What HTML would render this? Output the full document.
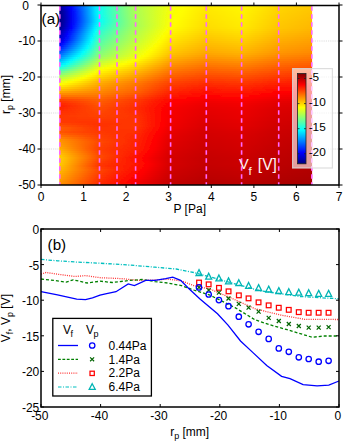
<!DOCTYPE html>
<html><head><meta charset="utf-8"><style>
html,body{margin:0;padding:0;background:#fff;width:343px;height:442px;overflow:hidden}
svg{display:block}
text{font-family:"Liberation Sans",sans-serif;fill:#000}
</style></head><body>
<svg width="343" height="442" viewBox="0 0 343 442">
<defs><linearGradient id="g0" gradientUnits="userSpaceOnUse" x1="59.3" x2="312.1" y1="0" y2="0"><stop offset="0.000" stop-color="#00009f"/><stop offset="0.016" stop-color="#0000bf"/><stop offset="0.032" stop-color="#0000e4"/><stop offset="0.047" stop-color="#0009ff"/><stop offset="0.063" stop-color="#002eff"/><stop offset="0.079" stop-color="#0053ff"/><stop offset="0.095" stop-color="#0077ff"/><stop offset="0.111" stop-color="#009cff"/><stop offset="0.127" stop-color="#00c1ff"/><stop offset="0.142" stop-color="#00e5ff"/><stop offset="0.158" stop-color="#0bfff4"/><stop offset="0.174" stop-color="#1effe1"/><stop offset="0.190" stop-color="#31ffce"/><stop offset="0.206" stop-color="#43ffbc"/><stop offset="0.222" stop-color="#56ffa9"/><stop offset="0.237" stop-color="#68ff97"/><stop offset="0.253" stop-color="#79ff86"/><stop offset="0.269" stop-color="#8aff75"/><stop offset="0.285" stop-color="#9cff63"/><stop offset="0.301" stop-color="#adff52"/><stop offset="0.316" stop-color="#b6ff49"/><stop offset="0.332" stop-color="#beff41"/><stop offset="0.348" stop-color="#c6ff39"/><stop offset="0.364" stop-color="#cdff32"/><stop offset="0.380" stop-color="#d5ff2a"/><stop offset="0.396" stop-color="#ddff22"/><stop offset="0.411" stop-color="#e5ff1a"/><stop offset="0.427" stop-color="#edff12"/><stop offset="0.443" stop-color="#f4ff0b"/><stop offset="0.459" stop-color="#f8ff07"/><stop offset="0.475" stop-color="#fbff04"/><stop offset="0.491" stop-color="#ffff00"/><stop offset="0.506" stop-color="#fffb00"/><stop offset="0.522" stop-color="#fff800"/><stop offset="0.538" stop-color="#fff400"/><stop offset="0.554" stop-color="#fff000"/><stop offset="0.570" stop-color="#ffec00"/><stop offset="0.585" stop-color="#ffea00"/><stop offset="0.601" stop-color="#ffec00"/><stop offset="0.617" stop-color="#ffed00"/><stop offset="0.633" stop-color="#ffef00"/><stop offset="0.649" stop-color="#fff000"/><stop offset="0.665" stop-color="#fff200"/><stop offset="0.680" stop-color="#fff300"/><stop offset="0.696" stop-color="#fff500"/><stop offset="0.712" stop-color="#fff600"/><stop offset="0.728" stop-color="#fff500"/><stop offset="0.744" stop-color="#fff200"/><stop offset="0.759" stop-color="#ffee00"/><stop offset="0.775" stop-color="#ffeb00"/><stop offset="0.791" stop-color="#ffe700"/><stop offset="0.807" stop-color="#ffe400"/><stop offset="0.823" stop-color="#ffe000"/><stop offset="0.839" stop-color="#ffdc00"/><stop offset="0.854" stop-color="#ffd900"/><stop offset="0.870" stop-color="#ffd600"/><stop offset="0.886" stop-color="#ffd400"/><stop offset="0.902" stop-color="#ffd200"/><stop offset="0.918" stop-color="#ffd100"/><stop offset="0.934" stop-color="#ffcf00"/><stop offset="0.949" stop-color="#ffce00"/><stop offset="0.965" stop-color="#ffcc00"/><stop offset="0.981" stop-color="#ffca00"/><stop offset="0.997" stop-color="#ffc900"/><stop offset="1.000" stop-color="#ffc900"/></linearGradient><linearGradient id="g2" gradientUnits="userSpaceOnUse" x1="59.3" x2="312.1" y1="0" y2="0"><stop offset="0.000" stop-color="#000095"/><stop offset="0.016" stop-color="#0000b6"/><stop offset="0.032" stop-color="#0000db"/><stop offset="0.047" stop-color="#0002ff"/><stop offset="0.063" stop-color="#0028ff"/><stop offset="0.079" stop-color="#004dff"/><stop offset="0.095" stop-color="#0073ff"/><stop offset="0.111" stop-color="#0099ff"/><stop offset="0.127" stop-color="#00beff"/><stop offset="0.142" stop-color="#00e4ff"/><stop offset="0.158" stop-color="#0bfff4"/><stop offset="0.174" stop-color="#1effe1"/><stop offset="0.190" stop-color="#30ffcf"/><stop offset="0.206" stop-color="#43ffbc"/><stop offset="0.222" stop-color="#55ffaa"/><stop offset="0.237" stop-color="#67ff98"/><stop offset="0.253" stop-color="#78ff87"/><stop offset="0.269" stop-color="#8aff75"/><stop offset="0.285" stop-color="#9bff64"/><stop offset="0.301" stop-color="#acff53"/><stop offset="0.316" stop-color="#b5ff4a"/><stop offset="0.332" stop-color="#bdff42"/><stop offset="0.348" stop-color="#c5ff3a"/><stop offset="0.364" stop-color="#cdff32"/><stop offset="0.380" stop-color="#d5ff2a"/><stop offset="0.396" stop-color="#ddff22"/><stop offset="0.411" stop-color="#e5ff1a"/><stop offset="0.427" stop-color="#eeff11"/><stop offset="0.443" stop-color="#f5ff0a"/><stop offset="0.459" stop-color="#f9ff06"/><stop offset="0.475" stop-color="#fcff03"/><stop offset="0.491" stop-color="#fffe00"/><stop offset="0.506" stop-color="#fffa00"/><stop offset="0.522" stop-color="#fff600"/><stop offset="0.538" stop-color="#fff300"/><stop offset="0.554" stop-color="#ffef00"/><stop offset="0.570" stop-color="#ffeb00"/><stop offset="0.585" stop-color="#ffe900"/><stop offset="0.601" stop-color="#ffea00"/><stop offset="0.617" stop-color="#ffec00"/><stop offset="0.633" stop-color="#ffed00"/><stop offset="0.649" stop-color="#ffef00"/><stop offset="0.665" stop-color="#fff000"/><stop offset="0.680" stop-color="#fff200"/><stop offset="0.696" stop-color="#fff300"/><stop offset="0.712" stop-color="#fff500"/><stop offset="0.728" stop-color="#fff400"/><stop offset="0.744" stop-color="#fff100"/><stop offset="0.759" stop-color="#ffed00"/><stop offset="0.775" stop-color="#ffe900"/><stop offset="0.791" stop-color="#ffe600"/><stop offset="0.807" stop-color="#ffe200"/><stop offset="0.823" stop-color="#ffdf00"/><stop offset="0.839" stop-color="#ffdb00"/><stop offset="0.854" stop-color="#ffd700"/><stop offset="0.870" stop-color="#ffd400"/><stop offset="0.886" stop-color="#ffd300"/><stop offset="0.902" stop-color="#ffd100"/><stop offset="0.918" stop-color="#ffcf00"/><stop offset="0.934" stop-color="#ffce00"/><stop offset="0.949" stop-color="#ffcc00"/><stop offset="0.965" stop-color="#ffca00"/><stop offset="0.981" stop-color="#ffc900"/><stop offset="0.997" stop-color="#ffc700"/><stop offset="1.000" stop-color="#ffc700"/></linearGradient><linearGradient id="g4" gradientUnits="userSpaceOnUse" x1="59.3" x2="312.1" y1="0" y2="0"><stop offset="0.000" stop-color="#00008a"/><stop offset="0.016" stop-color="#0000ac"/><stop offset="0.032" stop-color="#0000d3"/><stop offset="0.047" stop-color="#0000f9"/><stop offset="0.063" stop-color="#0021ff"/><stop offset="0.079" stop-color="#0048ff"/><stop offset="0.095" stop-color="#006fff"/><stop offset="0.111" stop-color="#0095ff"/><stop offset="0.127" stop-color="#00bcff"/><stop offset="0.142" stop-color="#00e3ff"/><stop offset="0.158" stop-color="#0bfff4"/><stop offset="0.174" stop-color="#1effe1"/><stop offset="0.190" stop-color="#30ffcf"/><stop offset="0.206" stop-color="#43ffbc"/><stop offset="0.222" stop-color="#55ffaa"/><stop offset="0.237" stop-color="#66ff99"/><stop offset="0.253" stop-color="#78ff87"/><stop offset="0.269" stop-color="#89ff76"/><stop offset="0.285" stop-color="#9aff65"/><stop offset="0.301" stop-color="#abff54"/><stop offset="0.316" stop-color="#b4ff4b"/><stop offset="0.332" stop-color="#bdff42"/><stop offset="0.348" stop-color="#c5ff3a"/><stop offset="0.364" stop-color="#cdff32"/><stop offset="0.380" stop-color="#d5ff2a"/><stop offset="0.396" stop-color="#deff21"/><stop offset="0.411" stop-color="#e6ff19"/><stop offset="0.427" stop-color="#eeff11"/><stop offset="0.443" stop-color="#f6ff09"/><stop offset="0.459" stop-color="#faff05"/><stop offset="0.475" stop-color="#fdff02"/><stop offset="0.491" stop-color="#fffd00"/><stop offset="0.506" stop-color="#fff900"/><stop offset="0.522" stop-color="#fff500"/><stop offset="0.538" stop-color="#fff100"/><stop offset="0.554" stop-color="#ffee00"/><stop offset="0.570" stop-color="#ffea00"/><stop offset="0.585" stop-color="#ffe800"/><stop offset="0.601" stop-color="#ffe900"/><stop offset="0.617" stop-color="#ffeb00"/><stop offset="0.633" stop-color="#ffec00"/><stop offset="0.649" stop-color="#ffee00"/><stop offset="0.665" stop-color="#ffef00"/><stop offset="0.680" stop-color="#fff100"/><stop offset="0.696" stop-color="#fff200"/><stop offset="0.712" stop-color="#fff400"/><stop offset="0.728" stop-color="#fff300"/><stop offset="0.744" stop-color="#ffef00"/><stop offset="0.759" stop-color="#ffec00"/><stop offset="0.775" stop-color="#ffe800"/><stop offset="0.791" stop-color="#ffe500"/><stop offset="0.807" stop-color="#ffe100"/><stop offset="0.823" stop-color="#ffdd00"/><stop offset="0.839" stop-color="#ffda00"/><stop offset="0.854" stop-color="#ffd600"/><stop offset="0.870" stop-color="#ffd300"/><stop offset="0.886" stop-color="#ffd100"/><stop offset="0.902" stop-color="#ffcf00"/><stop offset="0.918" stop-color="#ffce00"/><stop offset="0.934" stop-color="#ffcc00"/><stop offset="0.949" stop-color="#ffcb00"/><stop offset="0.965" stop-color="#ffc900"/><stop offset="0.981" stop-color="#ffc700"/><stop offset="0.997" stop-color="#ffc600"/><stop offset="1.000" stop-color="#ffc500"/></linearGradient><linearGradient id="g6" gradientUnits="userSpaceOnUse" x1="59.3" x2="312.1" y1="0" y2="0"><stop offset="0.000" stop-color="#000083"/><stop offset="0.016" stop-color="#0000a6"/><stop offset="0.032" stop-color="#0000cd"/><stop offset="0.047" stop-color="#0000f5"/><stop offset="0.063" stop-color="#001dff"/><stop offset="0.079" stop-color="#0044ff"/><stop offset="0.095" stop-color="#006cff"/><stop offset="0.111" stop-color="#0093ff"/><stop offset="0.127" stop-color="#00bbff"/><stop offset="0.142" stop-color="#00e2ff"/><stop offset="0.158" stop-color="#0bfff4"/><stop offset="0.174" stop-color="#1effe1"/><stop offset="0.190" stop-color="#30ffcf"/><stop offset="0.206" stop-color="#42ffbd"/><stop offset="0.222" stop-color="#54ffab"/><stop offset="0.237" stop-color="#66ff99"/><stop offset="0.253" stop-color="#77ff88"/><stop offset="0.269" stop-color="#88ff77"/><stop offset="0.285" stop-color="#99ff66"/><stop offset="0.301" stop-color="#aaff55"/><stop offset="0.316" stop-color="#b3ff4c"/><stop offset="0.332" stop-color="#bcff43"/><stop offset="0.348" stop-color="#c5ff3a"/><stop offset="0.364" stop-color="#cdff32"/><stop offset="0.380" stop-color="#d6ff29"/><stop offset="0.396" stop-color="#deff21"/><stop offset="0.411" stop-color="#e7ff18"/><stop offset="0.427" stop-color="#efff10"/><stop offset="0.443" stop-color="#f7ff08"/><stop offset="0.459" stop-color="#fbff04"/><stop offset="0.475" stop-color="#feff01"/><stop offset="0.491" stop-color="#fffc00"/><stop offset="0.506" stop-color="#fff800"/><stop offset="0.522" stop-color="#fff400"/><stop offset="0.538" stop-color="#fff000"/><stop offset="0.554" stop-color="#ffed00"/><stop offset="0.570" stop-color="#ffe900"/><stop offset="0.585" stop-color="#ffe600"/><stop offset="0.601" stop-color="#ffe800"/><stop offset="0.617" stop-color="#ffe900"/><stop offset="0.633" stop-color="#ffeb00"/><stop offset="0.649" stop-color="#ffec00"/><stop offset="0.665" stop-color="#ffee00"/><stop offset="0.680" stop-color="#ffef00"/><stop offset="0.696" stop-color="#fff100"/><stop offset="0.712" stop-color="#fff300"/><stop offset="0.728" stop-color="#fff200"/><stop offset="0.744" stop-color="#ffee00"/><stop offset="0.759" stop-color="#ffeb00"/><stop offset="0.775" stop-color="#ffe700"/><stop offset="0.791" stop-color="#ffe300"/><stop offset="0.807" stop-color="#ffe000"/><stop offset="0.823" stop-color="#ffdc00"/><stop offset="0.839" stop-color="#ffd800"/><stop offset="0.854" stop-color="#ffd500"/><stop offset="0.870" stop-color="#ffd100"/><stop offset="0.886" stop-color="#ffd000"/><stop offset="0.902" stop-color="#ffce00"/><stop offset="0.918" stop-color="#ffcc00"/><stop offset="0.934" stop-color="#ffcb00"/><stop offset="0.949" stop-color="#ffc900"/><stop offset="0.965" stop-color="#ffc700"/><stop offset="0.981" stop-color="#ffc600"/><stop offset="0.997" stop-color="#ffc400"/><stop offset="1.000" stop-color="#ffc400"/></linearGradient><linearGradient id="g8" gradientUnits="userSpaceOnUse" x1="59.3" x2="312.1" y1="0" y2="0"><stop offset="0.000" stop-color="#000082"/><stop offset="0.016" stop-color="#0000a4"/><stop offset="0.032" stop-color="#0000cc"/><stop offset="0.047" stop-color="#0000f3"/><stop offset="0.063" stop-color="#001cff"/><stop offset="0.079" stop-color="#0043ff"/><stop offset="0.095" stop-color="#006bff"/><stop offset="0.111" stop-color="#0093ff"/><stop offset="0.127" stop-color="#00baff"/><stop offset="0.142" stop-color="#00e2ff"/><stop offset="0.158" stop-color="#0afff5"/><stop offset="0.174" stop-color="#1effe1"/><stop offset="0.190" stop-color="#30ffcf"/><stop offset="0.206" stop-color="#42ffbd"/><stop offset="0.222" stop-color="#54ffab"/><stop offset="0.237" stop-color="#65ff9a"/><stop offset="0.253" stop-color="#76ff89"/><stop offset="0.269" stop-color="#87ff78"/><stop offset="0.285" stop-color="#98ff67"/><stop offset="0.301" stop-color="#a9ff56"/><stop offset="0.316" stop-color="#b3ff4c"/><stop offset="0.332" stop-color="#bbff44"/><stop offset="0.348" stop-color="#c4ff3b"/><stop offset="0.364" stop-color="#cdff32"/><stop offset="0.380" stop-color="#d6ff29"/><stop offset="0.396" stop-color="#deff21"/><stop offset="0.411" stop-color="#e7ff18"/><stop offset="0.427" stop-color="#f0ff0f"/><stop offset="0.443" stop-color="#f8ff07"/><stop offset="0.459" stop-color="#fcff03"/><stop offset="0.475" stop-color="#fffe00"/><stop offset="0.491" stop-color="#fffb00"/><stop offset="0.506" stop-color="#fff700"/><stop offset="0.522" stop-color="#fff300"/><stop offset="0.538" stop-color="#ffef00"/><stop offset="0.554" stop-color="#ffeb00"/><stop offset="0.570" stop-color="#ffe700"/><stop offset="0.585" stop-color="#ffe500"/><stop offset="0.601" stop-color="#ffe700"/><stop offset="0.617" stop-color="#ffe800"/><stop offset="0.633" stop-color="#ffea00"/><stop offset="0.649" stop-color="#ffeb00"/><stop offset="0.665" stop-color="#ffed00"/><stop offset="0.680" stop-color="#ffee00"/><stop offset="0.696" stop-color="#fff000"/><stop offset="0.712" stop-color="#fff100"/><stop offset="0.728" stop-color="#fff100"/><stop offset="0.744" stop-color="#ffed00"/><stop offset="0.759" stop-color="#ffe900"/><stop offset="0.775" stop-color="#ffe600"/><stop offset="0.791" stop-color="#ffe200"/><stop offset="0.807" stop-color="#ffde00"/><stop offset="0.823" stop-color="#ffdb00"/><stop offset="0.839" stop-color="#ffd700"/><stop offset="0.854" stop-color="#ffd300"/><stop offset="0.870" stop-color="#ffd000"/><stop offset="0.886" stop-color="#ffce00"/><stop offset="0.902" stop-color="#ffcc00"/><stop offset="0.918" stop-color="#ffcb00"/><stop offset="0.934" stop-color="#ffc900"/><stop offset="0.949" stop-color="#ffc800"/><stop offset="0.965" stop-color="#ffc600"/><stop offset="0.981" stop-color="#ffc400"/><stop offset="0.997" stop-color="#ffc300"/><stop offset="1.000" stop-color="#ffc200"/></linearGradient><linearGradient id="g10" gradientUnits="userSpaceOnUse" x1="59.3" x2="312.1" y1="0" y2="0"><stop offset="0.000" stop-color="#000080"/><stop offset="0.016" stop-color="#0000a3"/><stop offset="0.032" stop-color="#0000ca"/><stop offset="0.047" stop-color="#0000f1"/><stop offset="0.063" stop-color="#001aff"/><stop offset="0.079" stop-color="#0041ff"/><stop offset="0.095" stop-color="#0069ff"/><stop offset="0.111" stop-color="#0090ff"/><stop offset="0.127" stop-color="#00b8ff"/><stop offset="0.142" stop-color="#00dfff"/><stop offset="0.158" stop-color="#08fff7"/><stop offset="0.174" stop-color="#1bffe4"/><stop offset="0.190" stop-color="#2dffd2"/><stop offset="0.206" stop-color="#40ffbf"/><stop offset="0.222" stop-color="#52ffad"/><stop offset="0.237" stop-color="#64ff9b"/><stop offset="0.253" stop-color="#75ff8a"/><stop offset="0.269" stop-color="#86ff79"/><stop offset="0.285" stop-color="#97ff68"/><stop offset="0.301" stop-color="#a8ff57"/><stop offset="0.316" stop-color="#b2ff4d"/><stop offset="0.332" stop-color="#bbff44"/><stop offset="0.348" stop-color="#c4ff3b"/><stop offset="0.364" stop-color="#cdff32"/><stop offset="0.380" stop-color="#d6ff29"/><stop offset="0.396" stop-color="#dfff20"/><stop offset="0.411" stop-color="#e8ff17"/><stop offset="0.427" stop-color="#f1ff0e"/><stop offset="0.443" stop-color="#f9ff06"/><stop offset="0.459" stop-color="#fdff02"/><stop offset="0.475" stop-color="#fffd00"/><stop offset="0.491" stop-color="#fffa00"/><stop offset="0.506" stop-color="#fff600"/><stop offset="0.522" stop-color="#fff200"/><stop offset="0.538" stop-color="#ffee00"/><stop offset="0.554" stop-color="#ffea00"/><stop offset="0.570" stop-color="#ffe600"/><stop offset="0.585" stop-color="#ffe400"/><stop offset="0.601" stop-color="#ffe500"/><stop offset="0.617" stop-color="#ffe700"/><stop offset="0.633" stop-color="#ffe800"/><stop offset="0.649" stop-color="#ffea00"/><stop offset="0.665" stop-color="#ffec00"/><stop offset="0.680" stop-color="#ffed00"/><stop offset="0.696" stop-color="#ffef00"/><stop offset="0.712" stop-color="#fff000"/><stop offset="0.728" stop-color="#fff000"/><stop offset="0.744" stop-color="#ffec00"/><stop offset="0.759" stop-color="#ffe800"/><stop offset="0.775" stop-color="#ffe400"/><stop offset="0.791" stop-color="#ffe100"/><stop offset="0.807" stop-color="#ffdd00"/><stop offset="0.823" stop-color="#ffd900"/><stop offset="0.839" stop-color="#ffd500"/><stop offset="0.854" stop-color="#ffd200"/><stop offset="0.870" stop-color="#ffce00"/><stop offset="0.886" stop-color="#ffcd00"/><stop offset="0.902" stop-color="#ffcb00"/><stop offset="0.918" stop-color="#ffc900"/><stop offset="0.934" stop-color="#ffc800"/><stop offset="0.949" stop-color="#ffc600"/><stop offset="0.965" stop-color="#ffc400"/><stop offset="0.981" stop-color="#ffc300"/><stop offset="0.997" stop-color="#ffc100"/><stop offset="1.000" stop-color="#ffc100"/></linearGradient><linearGradient id="g12" gradientUnits="userSpaceOnUse" x1="59.3" x2="312.1" y1="0" y2="0"><stop offset="0.000" stop-color="#000080"/><stop offset="0.016" stop-color="#0000a1"/><stop offset="0.032" stop-color="#0000c8"/><stop offset="0.047" stop-color="#0000f0"/><stop offset="0.063" stop-color="#0018ff"/><stop offset="0.079" stop-color="#003fff"/><stop offset="0.095" stop-color="#0067ff"/><stop offset="0.111" stop-color="#008eff"/><stop offset="0.127" stop-color="#00b6ff"/><stop offset="0.142" stop-color="#00ddff"/><stop offset="0.158" stop-color="#05fffa"/><stop offset="0.174" stop-color="#19ffe6"/><stop offset="0.190" stop-color="#2bffd4"/><stop offset="0.206" stop-color="#3effc1"/><stop offset="0.222" stop-color="#50ffaf"/><stop offset="0.237" stop-color="#62ff9d"/><stop offset="0.253" stop-color="#73ff8c"/><stop offset="0.269" stop-color="#85ff7a"/><stop offset="0.285" stop-color="#96ff69"/><stop offset="0.301" stop-color="#a7ff58"/><stop offset="0.316" stop-color="#b1ff4e"/><stop offset="0.332" stop-color="#baff45"/><stop offset="0.348" stop-color="#c4ff3b"/><stop offset="0.364" stop-color="#cdff32"/><stop offset="0.380" stop-color="#d6ff29"/><stop offset="0.396" stop-color="#dfff20"/><stop offset="0.411" stop-color="#e8ff17"/><stop offset="0.427" stop-color="#f2ff0d"/><stop offset="0.443" stop-color="#faff05"/><stop offset="0.459" stop-color="#feff01"/><stop offset="0.475" stop-color="#fffc00"/><stop offset="0.491" stop-color="#fff800"/><stop offset="0.506" stop-color="#fff500"/><stop offset="0.522" stop-color="#fff100"/><stop offset="0.538" stop-color="#ffed00"/><stop offset="0.554" stop-color="#ffe900"/><stop offset="0.570" stop-color="#ffe500"/><stop offset="0.585" stop-color="#ffe200"/><stop offset="0.601" stop-color="#ffe400"/><stop offset="0.617" stop-color="#ffe600"/><stop offset="0.633" stop-color="#ffe700"/><stop offset="0.649" stop-color="#ffe900"/><stop offset="0.665" stop-color="#ffea00"/><stop offset="0.680" stop-color="#ffec00"/><stop offset="0.696" stop-color="#ffed00"/><stop offset="0.712" stop-color="#ffef00"/><stop offset="0.728" stop-color="#ffee00"/><stop offset="0.744" stop-color="#ffeb00"/><stop offset="0.759" stop-color="#ffe700"/><stop offset="0.775" stop-color="#ffe300"/><stop offset="0.791" stop-color="#ffdf00"/><stop offset="0.807" stop-color="#ffdc00"/><stop offset="0.823" stop-color="#ffd800"/><stop offset="0.839" stop-color="#ffd400"/><stop offset="0.854" stop-color="#ffd000"/><stop offset="0.870" stop-color="#ffcd00"/><stop offset="0.886" stop-color="#ffcb00"/><stop offset="0.902" stop-color="#ffca00"/><stop offset="0.918" stop-color="#ffc800"/><stop offset="0.934" stop-color="#ffc600"/><stop offset="0.949" stop-color="#ffc500"/><stop offset="0.965" stop-color="#ffc300"/><stop offset="0.981" stop-color="#ffc100"/><stop offset="0.997" stop-color="#ffbf00"/><stop offset="1.000" stop-color="#ffbf00"/></linearGradient><linearGradient id="g14" gradientUnits="userSpaceOnUse" x1="59.3" x2="312.1" y1="0" y2="0"><stop offset="0.000" stop-color="#000080"/><stop offset="0.016" stop-color="#0000a2"/><stop offset="0.032" stop-color="#0000c9"/><stop offset="0.047" stop-color="#0000f0"/><stop offset="0.063" stop-color="#0018ff"/><stop offset="0.079" stop-color="#003fff"/><stop offset="0.095" stop-color="#0066ff"/><stop offset="0.111" stop-color="#008dff"/><stop offset="0.127" stop-color="#00b4ff"/><stop offset="0.142" stop-color="#00dbff"/><stop offset="0.158" stop-color="#03fffc"/><stop offset="0.174" stop-color="#16ffe9"/><stop offset="0.190" stop-color="#29ffd6"/><stop offset="0.206" stop-color="#3cffc3"/><stop offset="0.222" stop-color="#4effb1"/><stop offset="0.237" stop-color="#60ff9f"/><stop offset="0.253" stop-color="#72ff8d"/><stop offset="0.269" stop-color="#83ff7c"/><stop offset="0.285" stop-color="#95ff6a"/><stop offset="0.301" stop-color="#a6ff59"/><stop offset="0.316" stop-color="#b0ff4f"/><stop offset="0.332" stop-color="#baff45"/><stop offset="0.348" stop-color="#c3ff3c"/><stop offset="0.364" stop-color="#cdff32"/><stop offset="0.380" stop-color="#d6ff29"/><stop offset="0.396" stop-color="#e0ff1f"/><stop offset="0.411" stop-color="#e9ff16"/><stop offset="0.427" stop-color="#f2ff0d"/><stop offset="0.443" stop-color="#fbff04"/><stop offset="0.459" stop-color="#ffff00"/><stop offset="0.475" stop-color="#fffb00"/><stop offset="0.491" stop-color="#fff700"/><stop offset="0.506" stop-color="#fff300"/><stop offset="0.522" stop-color="#ffef00"/><stop offset="0.538" stop-color="#ffec00"/><stop offset="0.554" stop-color="#ffe800"/><stop offset="0.570" stop-color="#ffe400"/><stop offset="0.585" stop-color="#ffe100"/><stop offset="0.601" stop-color="#ffe300"/><stop offset="0.617" stop-color="#ffe400"/><stop offset="0.633" stop-color="#ffe600"/><stop offset="0.649" stop-color="#ffe800"/><stop offset="0.665" stop-color="#ffe900"/><stop offset="0.680" stop-color="#ffeb00"/><stop offset="0.696" stop-color="#ffec00"/><stop offset="0.712" stop-color="#ffee00"/><stop offset="0.728" stop-color="#ffed00"/><stop offset="0.744" stop-color="#ffe900"/><stop offset="0.759" stop-color="#ffe600"/><stop offset="0.775" stop-color="#ffe200"/><stop offset="0.791" stop-color="#ffde00"/><stop offset="0.807" stop-color="#ffda00"/><stop offset="0.823" stop-color="#ffd600"/><stop offset="0.839" stop-color="#ffd300"/><stop offset="0.854" stop-color="#ffcf00"/><stop offset="0.870" stop-color="#ffcb00"/><stop offset="0.886" stop-color="#ffca00"/><stop offset="0.902" stop-color="#ffc800"/><stop offset="0.918" stop-color="#ffc600"/><stop offset="0.934" stop-color="#ffc500"/><stop offset="0.949" stop-color="#ffc300"/><stop offset="0.965" stop-color="#ffc100"/><stop offset="0.981" stop-color="#ffc000"/><stop offset="0.997" stop-color="#ffbe00"/><stop offset="1.000" stop-color="#ffbe00"/></linearGradient><linearGradient id="g16" gradientUnits="userSpaceOnUse" x1="59.3" x2="312.1" y1="0" y2="0"><stop offset="0.000" stop-color="#000082"/><stop offset="0.016" stop-color="#0000a4"/><stop offset="0.032" stop-color="#0000cb"/><stop offset="0.047" stop-color="#0000f2"/><stop offset="0.063" stop-color="#001aff"/><stop offset="0.079" stop-color="#0041ff"/><stop offset="0.095" stop-color="#0068ff"/><stop offset="0.111" stop-color="#008eff"/><stop offset="0.127" stop-color="#00b5ff"/><stop offset="0.142" stop-color="#00dcff"/><stop offset="0.158" stop-color="#04fffb"/><stop offset="0.174" stop-color="#17ffe8"/><stop offset="0.190" stop-color="#2affd5"/><stop offset="0.206" stop-color="#3cffc3"/><stop offset="0.222" stop-color="#4effb1"/><stop offset="0.237" stop-color="#60ff9f"/><stop offset="0.253" stop-color="#71ff8e"/><stop offset="0.269" stop-color="#83ff7c"/><stop offset="0.285" stop-color="#94ff6b"/><stop offset="0.301" stop-color="#a5ff5a"/><stop offset="0.316" stop-color="#afff50"/><stop offset="0.332" stop-color="#b9ff46"/><stop offset="0.348" stop-color="#c3ff3c"/><stop offset="0.364" stop-color="#cdff32"/><stop offset="0.380" stop-color="#d6ff29"/><stop offset="0.396" stop-color="#e0ff1f"/><stop offset="0.411" stop-color="#eaff15"/><stop offset="0.427" stop-color="#f3ff0c"/><stop offset="0.443" stop-color="#fcff03"/><stop offset="0.459" stop-color="#fffe00"/><stop offset="0.475" stop-color="#fffa00"/><stop offset="0.491" stop-color="#fff600"/><stop offset="0.506" stop-color="#fff200"/><stop offset="0.522" stop-color="#ffee00"/><stop offset="0.538" stop-color="#ffea00"/><stop offset="0.554" stop-color="#ffe600"/><stop offset="0.570" stop-color="#ffe200"/><stop offset="0.585" stop-color="#ffe000"/><stop offset="0.601" stop-color="#ffe100"/><stop offset="0.617" stop-color="#ffe300"/><stop offset="0.633" stop-color="#ffe500"/><stop offset="0.649" stop-color="#ffe600"/><stop offset="0.665" stop-color="#ffe800"/><stop offset="0.680" stop-color="#ffe900"/><stop offset="0.696" stop-color="#ffeb00"/><stop offset="0.712" stop-color="#ffed00"/><stop offset="0.728" stop-color="#ffec00"/><stop offset="0.744" stop-color="#ffe800"/><stop offset="0.759" stop-color="#ffe400"/><stop offset="0.775" stop-color="#ffe100"/><stop offset="0.791" stop-color="#ffdd00"/><stop offset="0.807" stop-color="#ffd900"/><stop offset="0.823" stop-color="#ffd500"/><stop offset="0.839" stop-color="#ffd100"/><stop offset="0.854" stop-color="#ffce00"/><stop offset="0.870" stop-color="#ffca00"/><stop offset="0.886" stop-color="#ffc800"/><stop offset="0.902" stop-color="#ffc700"/><stop offset="0.918" stop-color="#ffc500"/><stop offset="0.934" stop-color="#ffc300"/><stop offset="0.949" stop-color="#ffc100"/><stop offset="0.965" stop-color="#ffc000"/><stop offset="0.981" stop-color="#ffbe00"/><stop offset="0.997" stop-color="#ffbc00"/><stop offset="1.000" stop-color="#ffbc00"/></linearGradient><linearGradient id="g18" gradientUnits="userSpaceOnUse" x1="59.3" x2="312.1" y1="0" y2="0"><stop offset="0.000" stop-color="#000085"/><stop offset="0.016" stop-color="#0000a7"/><stop offset="0.032" stop-color="#0000cf"/><stop offset="0.047" stop-color="#0000f6"/><stop offset="0.063" stop-color="#001eff"/><stop offset="0.079" stop-color="#0046ff"/><stop offset="0.095" stop-color="#006dff"/><stop offset="0.111" stop-color="#0095ff"/><stop offset="0.127" stop-color="#00bcff"/><stop offset="0.142" stop-color="#00e3ff"/><stop offset="0.158" stop-color="#0cfff3"/><stop offset="0.174" stop-color="#1effe1"/><stop offset="0.190" stop-color="#30ffcf"/><stop offset="0.206" stop-color="#41ffbe"/><stop offset="0.222" stop-color="#52ffad"/><stop offset="0.237" stop-color="#63ff9c"/><stop offset="0.253" stop-color="#73ff8c"/><stop offset="0.269" stop-color="#84ff7b"/><stop offset="0.285" stop-color="#94ff6b"/><stop offset="0.301" stop-color="#a4ff5b"/><stop offset="0.316" stop-color="#afff50"/><stop offset="0.332" stop-color="#b9ff46"/><stop offset="0.348" stop-color="#c3ff3c"/><stop offset="0.364" stop-color="#ccff33"/><stop offset="0.380" stop-color="#d6ff29"/><stop offset="0.396" stop-color="#e0ff1f"/><stop offset="0.411" stop-color="#eaff15"/><stop offset="0.427" stop-color="#f4ff0b"/><stop offset="0.443" stop-color="#fdff02"/><stop offset="0.459" stop-color="#fffd00"/><stop offset="0.475" stop-color="#fff900"/><stop offset="0.491" stop-color="#fff500"/><stop offset="0.506" stop-color="#fff100"/><stop offset="0.522" stop-color="#ffed00"/><stop offset="0.538" stop-color="#ffe900"/><stop offset="0.554" stop-color="#ffe500"/><stop offset="0.570" stop-color="#ffe100"/><stop offset="0.585" stop-color="#ffdf00"/><stop offset="0.601" stop-color="#ffe000"/><stop offset="0.617" stop-color="#ffe200"/><stop offset="0.633" stop-color="#ffe300"/><stop offset="0.649" stop-color="#ffe500"/><stop offset="0.665" stop-color="#ffe700"/><stop offset="0.680" stop-color="#ffe800"/><stop offset="0.696" stop-color="#ffea00"/><stop offset="0.712" stop-color="#ffec00"/><stop offset="0.728" stop-color="#ffeb00"/><stop offset="0.744" stop-color="#ffe700"/><stop offset="0.759" stop-color="#ffe300"/><stop offset="0.775" stop-color="#ffdf00"/><stop offset="0.791" stop-color="#ffdb00"/><stop offset="0.807" stop-color="#ffd800"/><stop offset="0.823" stop-color="#ffd400"/><stop offset="0.839" stop-color="#ffd000"/><stop offset="0.854" stop-color="#ffcc00"/><stop offset="0.870" stop-color="#ffc900"/><stop offset="0.886" stop-color="#ffc700"/><stop offset="0.902" stop-color="#ffc500"/><stop offset="0.918" stop-color="#ffc300"/><stop offset="0.934" stop-color="#ffc200"/><stop offset="0.949" stop-color="#ffc000"/><stop offset="0.965" stop-color="#ffbe00"/><stop offset="0.981" stop-color="#ffbd00"/><stop offset="0.997" stop-color="#ffbb00"/><stop offset="1.000" stop-color="#ffbb00"/></linearGradient><linearGradient id="g20" gradientUnits="userSpaceOnUse" x1="59.3" x2="312.1" y1="0" y2="0"><stop offset="0.000" stop-color="#000087"/><stop offset="0.016" stop-color="#0000aa"/><stop offset="0.032" stop-color="#0000d2"/><stop offset="0.047" stop-color="#0000fa"/><stop offset="0.063" stop-color="#0023ff"/><stop offset="0.079" stop-color="#004bff"/><stop offset="0.095" stop-color="#0073ff"/><stop offset="0.111" stop-color="#009bff"/><stop offset="0.127" stop-color="#00c3ff"/><stop offset="0.142" stop-color="#00ebff"/><stop offset="0.158" stop-color="#14ffeb"/><stop offset="0.174" stop-color="#25ffda"/><stop offset="0.190" stop-color="#36ffc9"/><stop offset="0.206" stop-color="#46ffb9"/><stop offset="0.222" stop-color="#56ffa9"/><stop offset="0.237" stop-color="#66ff99"/><stop offset="0.253" stop-color="#76ff89"/><stop offset="0.269" stop-color="#85ff7a"/><stop offset="0.285" stop-color="#94ff6b"/><stop offset="0.301" stop-color="#a4ff5b"/><stop offset="0.316" stop-color="#aeff51"/><stop offset="0.332" stop-color="#b8ff47"/><stop offset="0.348" stop-color="#c3ff3c"/><stop offset="0.364" stop-color="#cdff32"/><stop offset="0.380" stop-color="#d7ff28"/><stop offset="0.396" stop-color="#e1ff1e"/><stop offset="0.411" stop-color="#ebff14"/><stop offset="0.427" stop-color="#f5ff0a"/><stop offset="0.443" stop-color="#feff01"/><stop offset="0.459" stop-color="#fffc00"/><stop offset="0.475" stop-color="#fff800"/><stop offset="0.491" stop-color="#fff400"/><stop offset="0.506" stop-color="#fff000"/><stop offset="0.522" stop-color="#ffec00"/><stop offset="0.538" stop-color="#ffe800"/><stop offset="0.554" stop-color="#ffe400"/><stop offset="0.570" stop-color="#ffe000"/><stop offset="0.585" stop-color="#ffdd00"/><stop offset="0.601" stop-color="#ffdf00"/><stop offset="0.617" stop-color="#ffe000"/><stop offset="0.633" stop-color="#ffe200"/><stop offset="0.649" stop-color="#ffe400"/><stop offset="0.665" stop-color="#ffe500"/><stop offset="0.680" stop-color="#ffe700"/><stop offset="0.696" stop-color="#ffe900"/><stop offset="0.712" stop-color="#ffea00"/><stop offset="0.728" stop-color="#ffea00"/><stop offset="0.744" stop-color="#ffe600"/><stop offset="0.759" stop-color="#ffe200"/><stop offset="0.775" stop-color="#ffde00"/><stop offset="0.791" stop-color="#ffda00"/><stop offset="0.807" stop-color="#ffd600"/><stop offset="0.823" stop-color="#ffd200"/><stop offset="0.839" stop-color="#ffce00"/><stop offset="0.854" stop-color="#ffcb00"/><stop offset="0.870" stop-color="#ffc700"/><stop offset="0.886" stop-color="#ffc500"/><stop offset="0.902" stop-color="#ffc400"/><stop offset="0.918" stop-color="#ffc200"/><stop offset="0.934" stop-color="#ffc000"/><stop offset="0.949" stop-color="#ffbe00"/><stop offset="0.965" stop-color="#ffbd00"/><stop offset="0.981" stop-color="#ffbb00"/><stop offset="0.997" stop-color="#ffb900"/><stop offset="1.000" stop-color="#ffb900"/></linearGradient><linearGradient id="g22" gradientUnits="userSpaceOnUse" x1="59.3" x2="312.1" y1="0" y2="0"><stop offset="0.000" stop-color="#000090"/><stop offset="0.016" stop-color="#0000b3"/><stop offset="0.032" stop-color="#0000db"/><stop offset="0.047" stop-color="#0003ff"/><stop offset="0.063" stop-color="#002bff"/><stop offset="0.079" stop-color="#0053ff"/><stop offset="0.095" stop-color="#007bff"/><stop offset="0.111" stop-color="#00a3ff"/><stop offset="0.127" stop-color="#00cbff"/><stop offset="0.142" stop-color="#00f3ff"/><stop offset="0.158" stop-color="#1cffe3"/><stop offset="0.174" stop-color="#2dffd2"/><stop offset="0.190" stop-color="#3dffc2"/><stop offset="0.206" stop-color="#4dffb2"/><stop offset="0.222" stop-color="#5cffa3"/><stop offset="0.237" stop-color="#6cff93"/><stop offset="0.253" stop-color="#7bff84"/><stop offset="0.269" stop-color="#8aff75"/><stop offset="0.285" stop-color="#99ff66"/><stop offset="0.301" stop-color="#a7ff58"/><stop offset="0.316" stop-color="#b2ff4d"/><stop offset="0.332" stop-color="#bcff43"/><stop offset="0.348" stop-color="#c6ff39"/><stop offset="0.364" stop-color="#d0ff2f"/><stop offset="0.380" stop-color="#daff25"/><stop offset="0.396" stop-color="#e4ff1b"/><stop offset="0.411" stop-color="#eeff11"/><stop offset="0.427" stop-color="#f8ff07"/><stop offset="0.443" stop-color="#fffd00"/><stop offset="0.459" stop-color="#fff900"/><stop offset="0.475" stop-color="#fff500"/><stop offset="0.491" stop-color="#fff100"/><stop offset="0.506" stop-color="#ffed00"/><stop offset="0.522" stop-color="#ffe900"/><stop offset="0.538" stop-color="#ffe500"/><stop offset="0.554" stop-color="#ffe200"/><stop offset="0.570" stop-color="#ffde00"/><stop offset="0.585" stop-color="#ffdb00"/><stop offset="0.601" stop-color="#ffdd00"/><stop offset="0.617" stop-color="#ffde00"/><stop offset="0.633" stop-color="#ffe000"/><stop offset="0.649" stop-color="#ffe100"/><stop offset="0.665" stop-color="#ffe300"/><stop offset="0.680" stop-color="#ffe500"/><stop offset="0.696" stop-color="#ffe600"/><stop offset="0.712" stop-color="#ffe800"/><stop offset="0.728" stop-color="#ffe700"/><stop offset="0.744" stop-color="#ffe300"/><stop offset="0.759" stop-color="#ffe000"/><stop offset="0.775" stop-color="#ffdc00"/><stop offset="0.791" stop-color="#ffd800"/><stop offset="0.807" stop-color="#ffd400"/><stop offset="0.823" stop-color="#ffd000"/><stop offset="0.839" stop-color="#ffcd00"/><stop offset="0.854" stop-color="#ffc900"/><stop offset="0.870" stop-color="#ffc500"/><stop offset="0.886" stop-color="#ffc400"/><stop offset="0.902" stop-color="#ffc200"/><stop offset="0.918" stop-color="#ffc000"/><stop offset="0.934" stop-color="#ffbe00"/><stop offset="0.949" stop-color="#ffbd00"/><stop offset="0.965" stop-color="#ffbb00"/><stop offset="0.981" stop-color="#ffb900"/><stop offset="0.997" stop-color="#ffb800"/><stop offset="1.000" stop-color="#ffb700"/></linearGradient><linearGradient id="g24" gradientUnits="userSpaceOnUse" x1="59.3" x2="312.1" y1="0" y2="0"><stop offset="0.000" stop-color="#00009c"/><stop offset="0.016" stop-color="#0000be"/><stop offset="0.032" stop-color="#0000e6"/><stop offset="0.047" stop-color="#000eff"/><stop offset="0.063" stop-color="#0036ff"/><stop offset="0.079" stop-color="#005dff"/><stop offset="0.095" stop-color="#0085ff"/><stop offset="0.111" stop-color="#00acff"/><stop offset="0.127" stop-color="#00d4ff"/><stop offset="0.142" stop-color="#00fbff"/><stop offset="0.158" stop-color="#24ffdb"/><stop offset="0.174" stop-color="#34ffcb"/><stop offset="0.190" stop-color="#44ffbb"/><stop offset="0.206" stop-color="#53ffac"/><stop offset="0.222" stop-color="#62ff9d"/><stop offset="0.237" stop-color="#71ff8e"/><stop offset="0.253" stop-color="#80ff7f"/><stop offset="0.269" stop-color="#8eff71"/><stop offset="0.285" stop-color="#9dff62"/><stop offset="0.301" stop-color="#abff54"/><stop offset="0.316" stop-color="#b5ff4a"/><stop offset="0.332" stop-color="#bfff40"/><stop offset="0.348" stop-color="#c9ff36"/><stop offset="0.364" stop-color="#d3ff2c"/><stop offset="0.380" stop-color="#deff21"/><stop offset="0.396" stop-color="#e8ff17"/><stop offset="0.411" stop-color="#f2ff0d"/><stop offset="0.427" stop-color="#fcff03"/><stop offset="0.443" stop-color="#fff900"/><stop offset="0.459" stop-color="#fff500"/><stop offset="0.475" stop-color="#fff200"/><stop offset="0.491" stop-color="#ffee00"/><stop offset="0.506" stop-color="#ffea00"/><stop offset="0.522" stop-color="#ffe600"/><stop offset="0.538" stop-color="#ffe200"/><stop offset="0.554" stop-color="#ffde00"/><stop offset="0.570" stop-color="#ffda00"/><stop offset="0.585" stop-color="#ffd800"/><stop offset="0.601" stop-color="#ffd900"/><stop offset="0.617" stop-color="#ffdb00"/><stop offset="0.633" stop-color="#ffdc00"/><stop offset="0.649" stop-color="#ffde00"/><stop offset="0.665" stop-color="#ffdf00"/><stop offset="0.680" stop-color="#ffe100"/><stop offset="0.696" stop-color="#ffe300"/><stop offset="0.712" stop-color="#ffe400"/><stop offset="0.728" stop-color="#ffe400"/><stop offset="0.744" stop-color="#ffe000"/><stop offset="0.759" stop-color="#ffdc00"/><stop offset="0.775" stop-color="#ffd800"/><stop offset="0.791" stop-color="#ffd500"/><stop offset="0.807" stop-color="#ffd100"/><stop offset="0.823" stop-color="#ffcd00"/><stop offset="0.839" stop-color="#ffc900"/><stop offset="0.854" stop-color="#ffc500"/><stop offset="0.870" stop-color="#ffc200"/><stop offset="0.886" stop-color="#ffc000"/><stop offset="0.902" stop-color="#ffbf00"/><stop offset="0.918" stop-color="#ffbd00"/><stop offset="0.934" stop-color="#ffbb00"/><stop offset="0.949" stop-color="#ffba00"/><stop offset="0.965" stop-color="#ffb800"/><stop offset="0.981" stop-color="#ffb600"/><stop offset="0.997" stop-color="#ffb500"/><stop offset="1.000" stop-color="#ffb400"/></linearGradient><linearGradient id="g26" gradientUnits="userSpaceOnUse" x1="59.3" x2="312.1" y1="0" y2="0"><stop offset="0.000" stop-color="#0000a8"/><stop offset="0.016" stop-color="#0000ca"/><stop offset="0.032" stop-color="#0000f1"/><stop offset="0.047" stop-color="#0019ff"/><stop offset="0.063" stop-color="#0040ff"/><stop offset="0.079" stop-color="#0067ff"/><stop offset="0.095" stop-color="#008eff"/><stop offset="0.111" stop-color="#00b5ff"/><stop offset="0.127" stop-color="#00ddff"/><stop offset="0.142" stop-color="#05fffa"/><stop offset="0.158" stop-color="#2cffd3"/><stop offset="0.174" stop-color="#3cffc3"/><stop offset="0.190" stop-color="#4bffb4"/><stop offset="0.206" stop-color="#59ffa6"/><stop offset="0.222" stop-color="#68ff97"/><stop offset="0.237" stop-color="#77ff88"/><stop offset="0.253" stop-color="#85ff7a"/><stop offset="0.269" stop-color="#93ff6c"/><stop offset="0.285" stop-color="#a1ff5e"/><stop offset="0.301" stop-color="#afff50"/><stop offset="0.316" stop-color="#b9ff46"/><stop offset="0.332" stop-color="#c3ff3c"/><stop offset="0.348" stop-color="#cdff32"/><stop offset="0.364" stop-color="#d7ff28"/><stop offset="0.380" stop-color="#e1ff1e"/><stop offset="0.396" stop-color="#ecff13"/><stop offset="0.411" stop-color="#f6ff09"/><stop offset="0.427" stop-color="#fffe00"/><stop offset="0.443" stop-color="#fff500"/><stop offset="0.459" stop-color="#fff100"/><stop offset="0.475" stop-color="#ffed00"/><stop offset="0.491" stop-color="#ffea00"/><stop offset="0.506" stop-color="#ffe600"/><stop offset="0.522" stop-color="#ffe200"/><stop offset="0.538" stop-color="#ffde00"/><stop offset="0.554" stop-color="#ffda00"/><stop offset="0.570" stop-color="#ffd600"/><stop offset="0.585" stop-color="#ffd400"/><stop offset="0.601" stop-color="#ffd500"/><stop offset="0.617" stop-color="#ffd700"/><stop offset="0.633" stop-color="#ffd800"/><stop offset="0.649" stop-color="#ffda00"/><stop offset="0.665" stop-color="#ffdc00"/><stop offset="0.680" stop-color="#ffdd00"/><stop offset="0.696" stop-color="#ffdf00"/><stop offset="0.712" stop-color="#ffe000"/><stop offset="0.728" stop-color="#ffe000"/><stop offset="0.744" stop-color="#ffdc00"/><stop offset="0.759" stop-color="#ffd800"/><stop offset="0.775" stop-color="#ffd400"/><stop offset="0.791" stop-color="#ffd100"/><stop offset="0.807" stop-color="#ffcd00"/><stop offset="0.823" stop-color="#ffc900"/><stop offset="0.839" stop-color="#ffc500"/><stop offset="0.854" stop-color="#ffc200"/><stop offset="0.870" stop-color="#ffbe00"/><stop offset="0.886" stop-color="#ffbd00"/><stop offset="0.902" stop-color="#ffbb00"/><stop offset="0.918" stop-color="#ffb900"/><stop offset="0.934" stop-color="#ffb800"/><stop offset="0.949" stop-color="#ffb600"/><stop offset="0.965" stop-color="#ffb400"/><stop offset="0.981" stop-color="#ffb200"/><stop offset="0.997" stop-color="#ffb100"/><stop offset="1.000" stop-color="#ffb100"/></linearGradient><linearGradient id="g28" gradientUnits="userSpaceOnUse" x1="59.3" x2="312.1" y1="0" y2="0"><stop offset="0.000" stop-color="#0000b4"/><stop offset="0.016" stop-color="#0000d6"/><stop offset="0.032" stop-color="#0000fc"/><stop offset="0.047" stop-color="#0024ff"/><stop offset="0.063" stop-color="#004bff"/><stop offset="0.079" stop-color="#0071ff"/><stop offset="0.095" stop-color="#0098ff"/><stop offset="0.111" stop-color="#00bfff"/><stop offset="0.127" stop-color="#00e5ff"/><stop offset="0.142" stop-color="#0dfff2"/><stop offset="0.158" stop-color="#34ffcb"/><stop offset="0.174" stop-color="#43ffbc"/><stop offset="0.190" stop-color="#52ffad"/><stop offset="0.206" stop-color="#60ff9f"/><stop offset="0.222" stop-color="#6eff91"/><stop offset="0.237" stop-color="#7cff83"/><stop offset="0.253" stop-color="#8aff75"/><stop offset="0.269" stop-color="#97ff68"/><stop offset="0.285" stop-color="#a5ff5a"/><stop offset="0.301" stop-color="#b2ff4d"/><stop offset="0.316" stop-color="#bdff42"/><stop offset="0.332" stop-color="#c7ff38"/><stop offset="0.348" stop-color="#d1ff2e"/><stop offset="0.364" stop-color="#dbff24"/><stop offset="0.380" stop-color="#e5ff1a"/><stop offset="0.396" stop-color="#efff10"/><stop offset="0.411" stop-color="#faff05"/><stop offset="0.427" stop-color="#fffa00"/><stop offset="0.443" stop-color="#fff100"/><stop offset="0.459" stop-color="#ffed00"/><stop offset="0.475" stop-color="#ffe900"/><stop offset="0.491" stop-color="#ffe600"/><stop offset="0.506" stop-color="#ffe200"/><stop offset="0.522" stop-color="#ffde00"/><stop offset="0.538" stop-color="#ffda00"/><stop offset="0.554" stop-color="#ffd600"/><stop offset="0.570" stop-color="#ffd200"/><stop offset="0.585" stop-color="#ffd000"/><stop offset="0.601" stop-color="#ffd100"/><stop offset="0.617" stop-color="#ffd300"/><stop offset="0.633" stop-color="#ffd400"/><stop offset="0.649" stop-color="#ffd600"/><stop offset="0.665" stop-color="#ffd800"/><stop offset="0.680" stop-color="#ffd900"/><stop offset="0.696" stop-color="#ffdb00"/><stop offset="0.712" stop-color="#ffdc00"/><stop offset="0.728" stop-color="#ffdc00"/><stop offset="0.744" stop-color="#ffd800"/><stop offset="0.759" stop-color="#ffd400"/><stop offset="0.775" stop-color="#ffd000"/><stop offset="0.791" stop-color="#ffcd00"/><stop offset="0.807" stop-color="#ffc900"/><stop offset="0.823" stop-color="#ffc500"/><stop offset="0.839" stop-color="#ffc200"/><stop offset="0.854" stop-color="#ffbe00"/><stop offset="0.870" stop-color="#ffba00"/><stop offset="0.886" stop-color="#ffb900"/><stop offset="0.902" stop-color="#ffb700"/><stop offset="0.918" stop-color="#ffb500"/><stop offset="0.934" stop-color="#ffb400"/><stop offset="0.949" stop-color="#ffb200"/><stop offset="0.965" stop-color="#ffb000"/><stop offset="0.981" stop-color="#ffaf00"/><stop offset="0.997" stop-color="#ffad00"/><stop offset="1.000" stop-color="#ffad00"/></linearGradient><linearGradient id="g30" gradientUnits="userSpaceOnUse" x1="59.3" x2="312.1" y1="0" y2="0"><stop offset="0.000" stop-color="#0000bd"/><stop offset="0.016" stop-color="#0000de"/><stop offset="0.032" stop-color="#0006ff"/><stop offset="0.047" stop-color="#002dff"/><stop offset="0.063" stop-color="#0053ff"/><stop offset="0.079" stop-color="#007aff"/><stop offset="0.095" stop-color="#00a0ff"/><stop offset="0.111" stop-color="#00c7ff"/><stop offset="0.127" stop-color="#00edff"/><stop offset="0.142" stop-color="#15ffea"/><stop offset="0.158" stop-color="#3cffc3"/><stop offset="0.174" stop-color="#4bffb4"/><stop offset="0.190" stop-color="#59ffa6"/><stop offset="0.206" stop-color="#66ff99"/><stop offset="0.222" stop-color="#74ff8b"/><stop offset="0.237" stop-color="#82ff7d"/><stop offset="0.253" stop-color="#8fff70"/><stop offset="0.269" stop-color="#9cff63"/><stop offset="0.285" stop-color="#a9ff56"/><stop offset="0.301" stop-color="#b6ff49"/><stop offset="0.316" stop-color="#c0ff3f"/><stop offset="0.332" stop-color="#caff35"/><stop offset="0.348" stop-color="#d5ff2a"/><stop offset="0.364" stop-color="#dfff20"/><stop offset="0.380" stop-color="#e9ff16"/><stop offset="0.396" stop-color="#f3ff0c"/><stop offset="0.411" stop-color="#feff01"/><stop offset="0.427" stop-color="#fff600"/><stop offset="0.443" stop-color="#ffed00"/><stop offset="0.459" stop-color="#ffe900"/><stop offset="0.475" stop-color="#ffe500"/><stop offset="0.491" stop-color="#ffe100"/><stop offset="0.506" stop-color="#ffde00"/><stop offset="0.522" stop-color="#ffda00"/><stop offset="0.538" stop-color="#ffd600"/><stop offset="0.554" stop-color="#ffd200"/><stop offset="0.570" stop-color="#ffce00"/><stop offset="0.585" stop-color="#ffcc00"/><stop offset="0.601" stop-color="#ffcd00"/><stop offset="0.617" stop-color="#ffcf00"/><stop offset="0.633" stop-color="#ffd000"/><stop offset="0.649" stop-color="#ffd200"/><stop offset="0.665" stop-color="#ffd400"/><stop offset="0.680" stop-color="#ffd500"/><stop offset="0.696" stop-color="#ffd700"/><stop offset="0.712" stop-color="#ffd800"/><stop offset="0.728" stop-color="#ffd800"/><stop offset="0.744" stop-color="#ffd400"/><stop offset="0.759" stop-color="#ffd000"/><stop offset="0.775" stop-color="#ffcc00"/><stop offset="0.791" stop-color="#ffc900"/><stop offset="0.807" stop-color="#ffc500"/><stop offset="0.823" stop-color="#ffc100"/><stop offset="0.839" stop-color="#ffbe00"/><stop offset="0.854" stop-color="#ffba00"/><stop offset="0.870" stop-color="#ffb700"/><stop offset="0.886" stop-color="#ffb500"/><stop offset="0.902" stop-color="#ffb300"/><stop offset="0.918" stop-color="#ffb200"/><stop offset="0.934" stop-color="#ffb000"/><stop offset="0.949" stop-color="#ffae00"/><stop offset="0.965" stop-color="#ffad00"/><stop offset="0.981" stop-color="#ffab00"/><stop offset="0.997" stop-color="#ffa900"/><stop offset="1.000" stop-color="#ffa900"/></linearGradient><linearGradient id="g32" gradientUnits="userSpaceOnUse" x1="59.3" x2="312.1" y1="0" y2="0"><stop offset="0.000" stop-color="#0000c4"/><stop offset="0.016" stop-color="#0000e6"/><stop offset="0.032" stop-color="#000dff"/><stop offset="0.047" stop-color="#0034ff"/><stop offset="0.063" stop-color="#005aff"/><stop offset="0.079" stop-color="#0081ff"/><stop offset="0.095" stop-color="#00a8ff"/><stop offset="0.111" stop-color="#00ceff"/><stop offset="0.127" stop-color="#00f5ff"/><stop offset="0.142" stop-color="#1dffe2"/><stop offset="0.158" stop-color="#43ffbc"/><stop offset="0.174" stop-color="#52ffad"/><stop offset="0.190" stop-color="#5fffa0"/><stop offset="0.206" stop-color="#6dff92"/><stop offset="0.222" stop-color="#7aff85"/><stop offset="0.237" stop-color="#87ff78"/><stop offset="0.253" stop-color="#93ff6c"/><stop offset="0.269" stop-color="#a0ff5f"/><stop offset="0.285" stop-color="#adff52"/><stop offset="0.301" stop-color="#b9ff46"/><stop offset="0.316" stop-color="#c4ff3b"/><stop offset="0.332" stop-color="#ceff31"/><stop offset="0.348" stop-color="#d8ff27"/><stop offset="0.364" stop-color="#e3ff1c"/><stop offset="0.380" stop-color="#edff12"/><stop offset="0.396" stop-color="#f7ff08"/><stop offset="0.411" stop-color="#fffc00"/><stop offset="0.427" stop-color="#fff200"/><stop offset="0.443" stop-color="#ffe900"/><stop offset="0.459" stop-color="#ffe500"/><stop offset="0.475" stop-color="#ffe100"/><stop offset="0.491" stop-color="#ffdd00"/><stop offset="0.506" stop-color="#ffda00"/><stop offset="0.522" stop-color="#ffd600"/><stop offset="0.538" stop-color="#ffd200"/><stop offset="0.554" stop-color="#ffce00"/><stop offset="0.570" stop-color="#ffca00"/><stop offset="0.585" stop-color="#ffc800"/><stop offset="0.601" stop-color="#ffc900"/><stop offset="0.617" stop-color="#ffcb00"/><stop offset="0.633" stop-color="#ffcc00"/><stop offset="0.649" stop-color="#ffce00"/><stop offset="0.665" stop-color="#ffd000"/><stop offset="0.680" stop-color="#ffd100"/><stop offset="0.696" stop-color="#ffd300"/><stop offset="0.712" stop-color="#ffd400"/><stop offset="0.728" stop-color="#ffd400"/><stop offset="0.744" stop-color="#ffd000"/><stop offset="0.759" stop-color="#ffcc00"/><stop offset="0.775" stop-color="#ffc800"/><stop offset="0.791" stop-color="#ffc500"/><stop offset="0.807" stop-color="#ffc100"/><stop offset="0.823" stop-color="#ffbd00"/><stop offset="0.839" stop-color="#ffba00"/><stop offset="0.854" stop-color="#ffb600"/><stop offset="0.870" stop-color="#ffb300"/><stop offset="0.886" stop-color="#ffb100"/><stop offset="0.902" stop-color="#ffaf00"/><stop offset="0.918" stop-color="#ffae00"/><stop offset="0.934" stop-color="#ffac00"/><stop offset="0.949" stop-color="#ffaa00"/><stop offset="0.965" stop-color="#ffa900"/><stop offset="0.981" stop-color="#ffa700"/><stop offset="0.997" stop-color="#ffa600"/><stop offset="1.000" stop-color="#ffa500"/></linearGradient><linearGradient id="g34" gradientUnits="userSpaceOnUse" x1="59.3" x2="312.1" y1="0" y2="0"><stop offset="0.000" stop-color="#0000cd"/><stop offset="0.016" stop-color="#0000ef"/><stop offset="0.032" stop-color="#0016ff"/><stop offset="0.047" stop-color="#003dff"/><stop offset="0.063" stop-color="#0063ff"/><stop offset="0.079" stop-color="#0089ff"/><stop offset="0.095" stop-color="#00b0ff"/><stop offset="0.111" stop-color="#00d6ff"/><stop offset="0.127" stop-color="#00fdff"/><stop offset="0.142" stop-color="#24ffdb"/><stop offset="0.158" stop-color="#4bffb4"/><stop offset="0.174" stop-color="#59ffa6"/><stop offset="0.190" stop-color="#66ff99"/><stop offset="0.206" stop-color="#73ff8c"/><stop offset="0.222" stop-color="#80ff7f"/><stop offset="0.237" stop-color="#8cff73"/><stop offset="0.253" stop-color="#98ff67"/><stop offset="0.269" stop-color="#a4ff5b"/><stop offset="0.285" stop-color="#b1ff4e"/><stop offset="0.301" stop-color="#bdff42"/><stop offset="0.316" stop-color="#c7ff38"/><stop offset="0.332" stop-color="#d2ff2d"/><stop offset="0.348" stop-color="#dcff23"/><stop offset="0.364" stop-color="#e6ff19"/><stop offset="0.380" stop-color="#f1ff0e"/><stop offset="0.396" stop-color="#fbff04"/><stop offset="0.411" stop-color="#fff800"/><stop offset="0.427" stop-color="#ffee00"/><stop offset="0.443" stop-color="#ffe500"/><stop offset="0.459" stop-color="#ffe100"/><stop offset="0.475" stop-color="#ffdd00"/><stop offset="0.491" stop-color="#ffd900"/><stop offset="0.506" stop-color="#ffd600"/><stop offset="0.522" stop-color="#ffd200"/><stop offset="0.538" stop-color="#ffce00"/><stop offset="0.554" stop-color="#ffca00"/><stop offset="0.570" stop-color="#ffc600"/><stop offset="0.585" stop-color="#ffc400"/><stop offset="0.601" stop-color="#ffc500"/><stop offset="0.617" stop-color="#ffc700"/><stop offset="0.633" stop-color="#ffc900"/><stop offset="0.649" stop-color="#ffca00"/><stop offset="0.665" stop-color="#ffcc00"/><stop offset="0.680" stop-color="#ffcd00"/><stop offset="0.696" stop-color="#ffcf00"/><stop offset="0.712" stop-color="#ffd000"/><stop offset="0.728" stop-color="#ffd000"/><stop offset="0.744" stop-color="#ffcc00"/><stop offset="0.759" stop-color="#ffc800"/><stop offset="0.775" stop-color="#ffc500"/><stop offset="0.791" stop-color="#ffc100"/><stop offset="0.807" stop-color="#ffbd00"/><stop offset="0.823" stop-color="#ffba00"/><stop offset="0.839" stop-color="#ffb600"/><stop offset="0.854" stop-color="#ffb200"/><stop offset="0.870" stop-color="#ffaf00"/><stop offset="0.886" stop-color="#ffad00"/><stop offset="0.902" stop-color="#ffac00"/><stop offset="0.918" stop-color="#ffaa00"/><stop offset="0.934" stop-color="#ffa800"/><stop offset="0.949" stop-color="#ffa700"/><stop offset="0.965" stop-color="#ffa500"/><stop offset="0.981" stop-color="#ffa300"/><stop offset="0.997" stop-color="#ffa200"/><stop offset="1.000" stop-color="#ffa200"/></linearGradient><linearGradient id="g36" gradientUnits="userSpaceOnUse" x1="59.3" x2="312.1" y1="0" y2="0"><stop offset="0.000" stop-color="#0000e0"/><stop offset="0.016" stop-color="#0002ff"/><stop offset="0.032" stop-color="#0027ff"/><stop offset="0.047" stop-color="#004cff"/><stop offset="0.063" stop-color="#0072ff"/><stop offset="0.079" stop-color="#0097ff"/><stop offset="0.095" stop-color="#00bcff"/><stop offset="0.111" stop-color="#00e1ff"/><stop offset="0.127" stop-color="#08fff7"/><stop offset="0.142" stop-color="#2dffd2"/><stop offset="0.158" stop-color="#52ffad"/><stop offset="0.174" stop-color="#60ff9f"/><stop offset="0.190" stop-color="#6dff92"/><stop offset="0.206" stop-color="#79ff86"/><stop offset="0.222" stop-color="#86ff79"/><stop offset="0.237" stop-color="#92ff6d"/><stop offset="0.253" stop-color="#9eff61"/><stop offset="0.269" stop-color="#aaff55"/><stop offset="0.285" stop-color="#b6ff49"/><stop offset="0.301" stop-color="#c2ff3d"/><stop offset="0.316" stop-color="#ccff33"/><stop offset="0.332" stop-color="#d6ff29"/><stop offset="0.348" stop-color="#e1ff1e"/><stop offset="0.364" stop-color="#ebff14"/><stop offset="0.380" stop-color="#f5ff0a"/><stop offset="0.396" stop-color="#fffe00"/><stop offset="0.411" stop-color="#fff400"/><stop offset="0.427" stop-color="#ffe900"/><stop offset="0.443" stop-color="#ffe000"/><stop offset="0.459" stop-color="#ffdc00"/><stop offset="0.475" stop-color="#ffd900"/><stop offset="0.491" stop-color="#ffd500"/><stop offset="0.506" stop-color="#ffd100"/><stop offset="0.522" stop-color="#ffcd00"/><stop offset="0.538" stop-color="#ffca00"/><stop offset="0.554" stop-color="#ffc600"/><stop offset="0.570" stop-color="#ffc200"/><stop offset="0.585" stop-color="#ffc000"/><stop offset="0.601" stop-color="#ffc100"/><stop offset="0.617" stop-color="#ffc300"/><stop offset="0.633" stop-color="#ffc400"/><stop offset="0.649" stop-color="#ffc600"/><stop offset="0.665" stop-color="#ffc700"/><stop offset="0.680" stop-color="#ffc900"/><stop offset="0.696" stop-color="#ffca00"/><stop offset="0.712" stop-color="#ffcc00"/><stop offset="0.728" stop-color="#ffcb00"/><stop offset="0.744" stop-color="#ffc800"/><stop offset="0.759" stop-color="#ffc400"/><stop offset="0.775" stop-color="#ffc000"/><stop offset="0.791" stop-color="#ffbd00"/><stop offset="0.807" stop-color="#ffb900"/><stop offset="0.823" stop-color="#ffb600"/><stop offset="0.839" stop-color="#ffb200"/><stop offset="0.854" stop-color="#ffae00"/><stop offset="0.870" stop-color="#ffab00"/><stop offset="0.886" stop-color="#ffa900"/><stop offset="0.902" stop-color="#ffa800"/><stop offset="0.918" stop-color="#ffa600"/><stop offset="0.934" stop-color="#ffa400"/><stop offset="0.949" stop-color="#ffa300"/><stop offset="0.965" stop-color="#ffa100"/><stop offset="0.981" stop-color="#ffa000"/><stop offset="0.997" stop-color="#ff9e00"/><stop offset="1.000" stop-color="#ff9e00"/></linearGradient><linearGradient id="g38" gradientUnits="userSpaceOnUse" x1="59.3" x2="312.1" y1="0" y2="0"><stop offset="0.000" stop-color="#0000f3"/><stop offset="0.016" stop-color="#0014ff"/><stop offset="0.032" stop-color="#0038ff"/><stop offset="0.047" stop-color="#005cff"/><stop offset="0.063" stop-color="#0080ff"/><stop offset="0.079" stop-color="#00a4ff"/><stop offset="0.095" stop-color="#00c8ff"/><stop offset="0.111" stop-color="#00ecff"/><stop offset="0.127" stop-color="#11ffee"/><stop offset="0.142" stop-color="#36ffc9"/><stop offset="0.158" stop-color="#5affa5"/><stop offset="0.174" stop-color="#67ff98"/><stop offset="0.190" stop-color="#74ff8b"/><stop offset="0.206" stop-color="#80ff7f"/><stop offset="0.222" stop-color="#8cff73"/><stop offset="0.237" stop-color="#98ff67"/><stop offset="0.253" stop-color="#a4ff5b"/><stop offset="0.269" stop-color="#b0ff4f"/><stop offset="0.285" stop-color="#bbff44"/><stop offset="0.301" stop-color="#c7ff38"/><stop offset="0.316" stop-color="#d1ff2e"/><stop offset="0.332" stop-color="#dcff23"/><stop offset="0.348" stop-color="#e6ff19"/><stop offset="0.364" stop-color="#f0ff0f"/><stop offset="0.380" stop-color="#fbff04"/><stop offset="0.396" stop-color="#fff900"/><stop offset="0.411" stop-color="#ffef00"/><stop offset="0.427" stop-color="#ffe400"/><stop offset="0.443" stop-color="#ffdb00"/><stop offset="0.459" stop-color="#ffd800"/><stop offset="0.475" stop-color="#ffd400"/><stop offset="0.491" stop-color="#ffd000"/><stop offset="0.506" stop-color="#ffcd00"/><stop offset="0.522" stop-color="#ffc900"/><stop offset="0.538" stop-color="#ffc500"/><stop offset="0.554" stop-color="#ffc100"/><stop offset="0.570" stop-color="#ffbe00"/><stop offset="0.585" stop-color="#ffbb00"/><stop offset="0.601" stop-color="#ffbd00"/><stop offset="0.617" stop-color="#ffbe00"/><stop offset="0.633" stop-color="#ffc000"/><stop offset="0.649" stop-color="#ffc100"/><stop offset="0.665" stop-color="#ffc300"/><stop offset="0.680" stop-color="#ffc400"/><stop offset="0.696" stop-color="#ffc600"/><stop offset="0.712" stop-color="#ffc700"/><stop offset="0.728" stop-color="#ffc700"/><stop offset="0.744" stop-color="#ffc300"/><stop offset="0.759" stop-color="#ffc000"/><stop offset="0.775" stop-color="#ffbc00"/><stop offset="0.791" stop-color="#ffb800"/><stop offset="0.807" stop-color="#ffb500"/><stop offset="0.823" stop-color="#ffb100"/><stop offset="0.839" stop-color="#ffae00"/><stop offset="0.854" stop-color="#ffaa00"/><stop offset="0.870" stop-color="#ffa700"/><stop offset="0.886" stop-color="#ffa500"/><stop offset="0.902" stop-color="#ffa400"/><stop offset="0.918" stop-color="#ffa200"/><stop offset="0.934" stop-color="#ffa100"/><stop offset="0.949" stop-color="#ff9f00"/><stop offset="0.965" stop-color="#ff9d00"/><stop offset="0.981" stop-color="#ff9c00"/><stop offset="0.997" stop-color="#ff9a00"/><stop offset="1.000" stop-color="#ff9a00"/></linearGradient><linearGradient id="g40" gradientUnits="userSpaceOnUse" x1="59.3" x2="312.1" y1="0" y2="0"><stop offset="0.000" stop-color="#0007ff"/><stop offset="0.016" stop-color="#0026ff"/><stop offset="0.032" stop-color="#0049ff"/><stop offset="0.047" stop-color="#006cff"/><stop offset="0.063" stop-color="#008fff"/><stop offset="0.079" stop-color="#00b2ff"/><stop offset="0.095" stop-color="#00d4ff"/><stop offset="0.111" stop-color="#00f7ff"/><stop offset="0.127" stop-color="#1bffe4"/><stop offset="0.142" stop-color="#3effc1"/><stop offset="0.158" stop-color="#61ff9e"/><stop offset="0.174" stop-color="#6fff90"/><stop offset="0.190" stop-color="#7bff84"/><stop offset="0.206" stop-color="#87ff78"/><stop offset="0.222" stop-color="#93ff6c"/><stop offset="0.237" stop-color="#9fff60"/><stop offset="0.253" stop-color="#aaff55"/><stop offset="0.269" stop-color="#b6ff49"/><stop offset="0.285" stop-color="#c1ff3e"/><stop offset="0.301" stop-color="#ccff33"/><stop offset="0.316" stop-color="#d7ff28"/><stop offset="0.332" stop-color="#e1ff1e"/><stop offset="0.348" stop-color="#ebff14"/><stop offset="0.364" stop-color="#f5ff0a"/><stop offset="0.380" stop-color="#fffe00"/><stop offset="0.396" stop-color="#fff400"/><stop offset="0.411" stop-color="#ffea00"/><stop offset="0.427" stop-color="#ffe000"/><stop offset="0.443" stop-color="#ffd600"/><stop offset="0.459" stop-color="#ffd300"/><stop offset="0.475" stop-color="#ffcf00"/><stop offset="0.491" stop-color="#ffcc00"/><stop offset="0.506" stop-color="#ffc800"/><stop offset="0.522" stop-color="#ffc400"/><stop offset="0.538" stop-color="#ffc100"/><stop offset="0.554" stop-color="#ffbd00"/><stop offset="0.570" stop-color="#ffb900"/><stop offset="0.585" stop-color="#ffb700"/><stop offset="0.601" stop-color="#ffb900"/><stop offset="0.617" stop-color="#ffba00"/><stop offset="0.633" stop-color="#ffbb00"/><stop offset="0.649" stop-color="#ffbd00"/><stop offset="0.665" stop-color="#ffbe00"/><stop offset="0.680" stop-color="#ffc000"/><stop offset="0.696" stop-color="#ffc100"/><stop offset="0.712" stop-color="#ffc300"/><stop offset="0.728" stop-color="#ffc200"/><stop offset="0.744" stop-color="#ffbf00"/><stop offset="0.759" stop-color="#ffbb00"/><stop offset="0.775" stop-color="#ffb800"/><stop offset="0.791" stop-color="#ffb400"/><stop offset="0.807" stop-color="#ffb100"/><stop offset="0.823" stop-color="#ffad00"/><stop offset="0.839" stop-color="#ffaa00"/><stop offset="0.854" stop-color="#ffa600"/><stop offset="0.870" stop-color="#ffa300"/><stop offset="0.886" stop-color="#ffa100"/><stop offset="0.902" stop-color="#ffa000"/><stop offset="0.918" stop-color="#ff9e00"/><stop offset="0.934" stop-color="#ff9d00"/><stop offset="0.949" stop-color="#ff9b00"/><stop offset="0.965" stop-color="#ff9a00"/><stop offset="0.981" stop-color="#ff9800"/><stop offset="0.997" stop-color="#ff9600"/><stop offset="1.000" stop-color="#ff9600"/></linearGradient><linearGradient id="g42" gradientUnits="userSpaceOnUse" x1="59.3" x2="312.1" y1="0" y2="0"><stop offset="0.000" stop-color="#001aff"/><stop offset="0.016" stop-color="#0038ff"/><stop offset="0.032" stop-color="#005aff"/><stop offset="0.047" stop-color="#007cff"/><stop offset="0.063" stop-color="#009eff"/><stop offset="0.079" stop-color="#00bfff"/><stop offset="0.095" stop-color="#00e1ff"/><stop offset="0.111" stop-color="#04fffb"/><stop offset="0.127" stop-color="#26ffd9"/><stop offset="0.142" stop-color="#48ffb7"/><stop offset="0.158" stop-color="#6aff95"/><stop offset="0.174" stop-color="#77ff88"/><stop offset="0.190" stop-color="#82ff7d"/><stop offset="0.206" stop-color="#8eff71"/><stop offset="0.222" stop-color="#9aff65"/><stop offset="0.237" stop-color="#a5ff5a"/><stop offset="0.253" stop-color="#b1ff4e"/><stop offset="0.269" stop-color="#bcff43"/><stop offset="0.285" stop-color="#c7ff38"/><stop offset="0.301" stop-color="#d2ff2d"/><stop offset="0.316" stop-color="#dcff23"/><stop offset="0.332" stop-color="#e6ff19"/><stop offset="0.348" stop-color="#f0ff0f"/><stop offset="0.364" stop-color="#fbff04"/><stop offset="0.380" stop-color="#fff900"/><stop offset="0.396" stop-color="#ffef00"/><stop offset="0.411" stop-color="#ffe500"/><stop offset="0.427" stop-color="#ffdb00"/><stop offset="0.443" stop-color="#ffd200"/><stop offset="0.459" stop-color="#ffce00"/><stop offset="0.475" stop-color="#ffca00"/><stop offset="0.491" stop-color="#ffc700"/><stop offset="0.506" stop-color="#ffc300"/><stop offset="0.522" stop-color="#ffc000"/><stop offset="0.538" stop-color="#ffbc00"/><stop offset="0.554" stop-color="#ffb900"/><stop offset="0.570" stop-color="#ffb500"/><stop offset="0.585" stop-color="#ffb300"/><stop offset="0.601" stop-color="#ffb400"/><stop offset="0.617" stop-color="#ffb600"/><stop offset="0.633" stop-color="#ffb700"/><stop offset="0.649" stop-color="#ffb800"/><stop offset="0.665" stop-color="#ffba00"/><stop offset="0.680" stop-color="#ffbb00"/><stop offset="0.696" stop-color="#ffbd00"/><stop offset="0.712" stop-color="#ffbe00"/><stop offset="0.728" stop-color="#ffbe00"/><stop offset="0.744" stop-color="#ffba00"/><stop offset="0.759" stop-color="#ffb700"/><stop offset="0.775" stop-color="#ffb300"/><stop offset="0.791" stop-color="#ffb000"/><stop offset="0.807" stop-color="#ffac00"/><stop offset="0.823" stop-color="#ffa900"/><stop offset="0.839" stop-color="#ffa600"/><stop offset="0.854" stop-color="#ffa200"/><stop offset="0.870" stop-color="#ff9f00"/><stop offset="0.886" stop-color="#ff9e00"/><stop offset="0.902" stop-color="#ff9c00"/><stop offset="0.918" stop-color="#ff9a00"/><stop offset="0.934" stop-color="#ff9900"/><stop offset="0.949" stop-color="#ff9700"/><stop offset="0.965" stop-color="#ff9600"/><stop offset="0.981" stop-color="#ff9400"/><stop offset="0.997" stop-color="#ff9300"/><stop offset="1.000" stop-color="#ff9300"/></linearGradient><linearGradient id="g44" gradientUnits="userSpaceOnUse" x1="59.3" x2="312.1" y1="0" y2="0"><stop offset="0.000" stop-color="#0031ff"/><stop offset="0.016" stop-color="#004eff"/><stop offset="0.032" stop-color="#006eff"/><stop offset="0.047" stop-color="#008eff"/><stop offset="0.063" stop-color="#00afff"/><stop offset="0.079" stop-color="#00cfff"/><stop offset="0.095" stop-color="#00f0ff"/><stop offset="0.111" stop-color="#11ffee"/><stop offset="0.127" stop-color="#32ffcd"/><stop offset="0.142" stop-color="#52ffad"/><stop offset="0.158" stop-color="#73ff8c"/><stop offset="0.174" stop-color="#7fff80"/><stop offset="0.190" stop-color="#8aff75"/><stop offset="0.206" stop-color="#96ff69"/><stop offset="0.222" stop-color="#a1ff5e"/><stop offset="0.237" stop-color="#acff53"/><stop offset="0.253" stop-color="#b7ff48"/><stop offset="0.269" stop-color="#c2ff3d"/><stop offset="0.285" stop-color="#cdff32"/><stop offset="0.301" stop-color="#d7ff28"/><stop offset="0.316" stop-color="#e2ff1d"/><stop offset="0.332" stop-color="#ecff13"/><stop offset="0.348" stop-color="#f6ff09"/><stop offset="0.364" stop-color="#fffe00"/><stop offset="0.380" stop-color="#fff400"/><stop offset="0.396" stop-color="#ffea00"/><stop offset="0.411" stop-color="#ffe000"/><stop offset="0.427" stop-color="#ffd600"/><stop offset="0.443" stop-color="#ffcd00"/><stop offset="0.459" stop-color="#ffc900"/><stop offset="0.475" stop-color="#ffc600"/><stop offset="0.491" stop-color="#ffc200"/><stop offset="0.506" stop-color="#ffbf00"/><stop offset="0.522" stop-color="#ffbb00"/><stop offset="0.538" stop-color="#ffb800"/><stop offset="0.554" stop-color="#ffb400"/><stop offset="0.570" stop-color="#ffb100"/><stop offset="0.585" stop-color="#ffae00"/><stop offset="0.601" stop-color="#ffb000"/><stop offset="0.617" stop-color="#ffb100"/><stop offset="0.633" stop-color="#ffb300"/><stop offset="0.649" stop-color="#ffb400"/><stop offset="0.665" stop-color="#ffb500"/><stop offset="0.680" stop-color="#ffb700"/><stop offset="0.696" stop-color="#ffb800"/><stop offset="0.712" stop-color="#ffba00"/><stop offset="0.728" stop-color="#ffb900"/><stop offset="0.744" stop-color="#ffb600"/><stop offset="0.759" stop-color="#ffb200"/><stop offset="0.775" stop-color="#ffaf00"/><stop offset="0.791" stop-color="#ffac00"/><stop offset="0.807" stop-color="#ffa800"/><stop offset="0.823" stop-color="#ffa500"/><stop offset="0.839" stop-color="#ffa200"/><stop offset="0.854" stop-color="#ff9e00"/><stop offset="0.870" stop-color="#ff9b00"/><stop offset="0.886" stop-color="#ff9a00"/><stop offset="0.902" stop-color="#ff9800"/><stop offset="0.918" stop-color="#ff9700"/><stop offset="0.934" stop-color="#ff9500"/><stop offset="0.949" stop-color="#ff9400"/><stop offset="0.965" stop-color="#ff9200"/><stop offset="0.981" stop-color="#ff9000"/><stop offset="0.997" stop-color="#ff8f00"/><stop offset="1.000" stop-color="#ff8f00"/></linearGradient><linearGradient id="g46" gradientUnits="userSpaceOnUse" x1="59.3" x2="312.1" y1="0" y2="0"><stop offset="0.000" stop-color="#004aff"/><stop offset="0.016" stop-color="#0065ff"/><stop offset="0.032" stop-color="#0084ff"/><stop offset="0.047" stop-color="#00a3ff"/><stop offset="0.063" stop-color="#00c1ff"/><stop offset="0.079" stop-color="#00e0ff"/><stop offset="0.095" stop-color="#00ffff"/><stop offset="0.111" stop-color="#1fffe0"/><stop offset="0.127" stop-color="#3effc1"/><stop offset="0.142" stop-color="#5dffa2"/><stop offset="0.158" stop-color="#7bff84"/><stop offset="0.174" stop-color="#87ff78"/><stop offset="0.190" stop-color="#93ff6c"/><stop offset="0.206" stop-color="#9eff61"/><stop offset="0.222" stop-color="#a9ff56"/><stop offset="0.237" stop-color="#b3ff4c"/><stop offset="0.253" stop-color="#beff41"/><stop offset="0.269" stop-color="#c8ff37"/><stop offset="0.285" stop-color="#d2ff2d"/><stop offset="0.301" stop-color="#ddff22"/><stop offset="0.316" stop-color="#e7ff18"/><stop offset="0.332" stop-color="#f1ff0e"/><stop offset="0.348" stop-color="#fbff04"/><stop offset="0.364" stop-color="#fff900"/><stop offset="0.380" stop-color="#ffef00"/><stop offset="0.396" stop-color="#ffe500"/><stop offset="0.411" stop-color="#ffdb00"/><stop offset="0.427" stop-color="#ffd100"/><stop offset="0.443" stop-color="#ffc800"/><stop offset="0.459" stop-color="#ffc400"/><stop offset="0.475" stop-color="#ffc100"/><stop offset="0.491" stop-color="#ffbd00"/><stop offset="0.506" stop-color="#ffba00"/><stop offset="0.522" stop-color="#ffb700"/><stop offset="0.538" stop-color="#ffb300"/><stop offset="0.554" stop-color="#ffb000"/><stop offset="0.570" stop-color="#ffac00"/><stop offset="0.585" stop-color="#ffaa00"/><stop offset="0.601" stop-color="#ffab00"/><stop offset="0.617" stop-color="#ffad00"/><stop offset="0.633" stop-color="#ffae00"/><stop offset="0.649" stop-color="#ffb000"/><stop offset="0.665" stop-color="#ffb100"/><stop offset="0.680" stop-color="#ffb200"/><stop offset="0.696" stop-color="#ffb400"/><stop offset="0.712" stop-color="#ffb500"/><stop offset="0.728" stop-color="#ffb500"/><stop offset="0.744" stop-color="#ffb100"/><stop offset="0.759" stop-color="#ffae00"/><stop offset="0.775" stop-color="#ffab00"/><stop offset="0.791" stop-color="#ffa700"/><stop offset="0.807" stop-color="#ffa400"/><stop offset="0.823" stop-color="#ffa100"/><stop offset="0.839" stop-color="#ff9d00"/><stop offset="0.854" stop-color="#ff9a00"/><stop offset="0.870" stop-color="#ff9700"/><stop offset="0.886" stop-color="#ff9600"/><stop offset="0.902" stop-color="#ff9400"/><stop offset="0.918" stop-color="#ff9300"/><stop offset="0.934" stop-color="#ff9100"/><stop offset="0.949" stop-color="#ff9000"/><stop offset="0.965" stop-color="#ff8e00"/><stop offset="0.981" stop-color="#ff8d00"/><stop offset="0.997" stop-color="#ff8b00"/><stop offset="1.000" stop-color="#ff8b00"/></linearGradient><linearGradient id="g48" gradientUnits="userSpaceOnUse" x1="59.3" x2="312.1" y1="0" y2="0"><stop offset="0.000" stop-color="#0062ff"/><stop offset="0.016" stop-color="#007cff"/><stop offset="0.032" stop-color="#0099ff"/><stop offset="0.047" stop-color="#00b7ff"/><stop offset="0.063" stop-color="#00d4ff"/><stop offset="0.079" stop-color="#00f1ff"/><stop offset="0.095" stop-color="#0ffff0"/><stop offset="0.111" stop-color="#2dffd2"/><stop offset="0.127" stop-color="#4affb5"/><stop offset="0.142" stop-color="#67ff98"/><stop offset="0.158" stop-color="#84ff7b"/><stop offset="0.174" stop-color="#90ff6f"/><stop offset="0.190" stop-color="#9bff64"/><stop offset="0.206" stop-color="#a5ff5a"/><stop offset="0.222" stop-color="#b0ff4f"/><stop offset="0.237" stop-color="#baff45"/><stop offset="0.253" stop-color="#c4ff3b"/><stop offset="0.269" stop-color="#ceff31"/><stop offset="0.285" stop-color="#d8ff27"/><stop offset="0.301" stop-color="#e2ff1d"/><stop offset="0.316" stop-color="#ecff13"/><stop offset="0.332" stop-color="#f7ff08"/><stop offset="0.348" stop-color="#fffd00"/><stop offset="0.364" stop-color="#fff300"/><stop offset="0.380" stop-color="#ffe900"/><stop offset="0.396" stop-color="#ffdf00"/><stop offset="0.411" stop-color="#ffd500"/><stop offset="0.427" stop-color="#ffcb00"/><stop offset="0.443" stop-color="#ffc200"/><stop offset="0.459" stop-color="#ffbe00"/><stop offset="0.475" stop-color="#ffbb00"/><stop offset="0.491" stop-color="#ffb700"/><stop offset="0.506" stop-color="#ffb400"/><stop offset="0.522" stop-color="#ffb000"/><stop offset="0.538" stop-color="#ffad00"/><stop offset="0.554" stop-color="#ffaa00"/><stop offset="0.570" stop-color="#ffa600"/><stop offset="0.585" stop-color="#ffa400"/><stop offset="0.601" stop-color="#ffa500"/><stop offset="0.617" stop-color="#ffa700"/><stop offset="0.633" stop-color="#ffa800"/><stop offset="0.649" stop-color="#ffa900"/><stop offset="0.665" stop-color="#ffab00"/><stop offset="0.680" stop-color="#ffac00"/><stop offset="0.696" stop-color="#ffae00"/><stop offset="0.712" stop-color="#ffaf00"/><stop offset="0.728" stop-color="#ffae00"/><stop offset="0.744" stop-color="#ffab00"/><stop offset="0.759" stop-color="#ffa800"/><stop offset="0.775" stop-color="#ffa500"/><stop offset="0.791" stop-color="#ffa100"/><stop offset="0.807" stop-color="#ff9e00"/><stop offset="0.823" stop-color="#ff9b00"/><stop offset="0.839" stop-color="#ff9700"/><stop offset="0.854" stop-color="#ff9400"/><stop offset="0.870" stop-color="#ff9100"/><stop offset="0.886" stop-color="#ff9000"/><stop offset="0.902" stop-color="#ff8e00"/><stop offset="0.918" stop-color="#ff8d00"/><stop offset="0.934" stop-color="#ff8b00"/><stop offset="0.949" stop-color="#ff8a00"/><stop offset="0.965" stop-color="#ff8800"/><stop offset="0.981" stop-color="#ff8700"/><stop offset="0.997" stop-color="#ff8500"/><stop offset="1.000" stop-color="#ff8500"/></linearGradient><linearGradient id="g50" gradientUnits="userSpaceOnUse" x1="59.3" x2="312.1" y1="0" y2="0"><stop offset="0.000" stop-color="#007bff"/><stop offset="0.016" stop-color="#0093ff"/><stop offset="0.032" stop-color="#00afff"/><stop offset="0.047" stop-color="#00cbff"/><stop offset="0.063" stop-color="#00e7ff"/><stop offset="0.079" stop-color="#03fffc"/><stop offset="0.095" stop-color="#1fffe0"/><stop offset="0.111" stop-color="#3bffc4"/><stop offset="0.127" stop-color="#57ffa8"/><stop offset="0.142" stop-color="#72ff8d"/><stop offset="0.158" stop-color="#8eff71"/><stop offset="0.174" stop-color="#99ff66"/><stop offset="0.190" stop-color="#a4ff5b"/><stop offset="0.206" stop-color="#aeff51"/><stop offset="0.222" stop-color="#b8ff47"/><stop offset="0.237" stop-color="#c2ff3d"/><stop offset="0.253" stop-color="#ccff33"/><stop offset="0.269" stop-color="#d5ff2a"/><stop offset="0.285" stop-color="#dfff20"/><stop offset="0.301" stop-color="#e8ff17"/><stop offset="0.316" stop-color="#f3ff0c"/><stop offset="0.332" stop-color="#fdff02"/><stop offset="0.348" stop-color="#fff700"/><stop offset="0.364" stop-color="#ffec00"/><stop offset="0.380" stop-color="#ffe200"/><stop offset="0.396" stop-color="#ffd800"/><stop offset="0.411" stop-color="#ffce00"/><stop offset="0.427" stop-color="#ffc300"/><stop offset="0.443" stop-color="#ffba00"/><stop offset="0.459" stop-color="#ffb700"/><stop offset="0.475" stop-color="#ffb300"/><stop offset="0.491" stop-color="#ffb000"/><stop offset="0.506" stop-color="#ffad00"/><stop offset="0.522" stop-color="#ffa900"/><stop offset="0.538" stop-color="#ffa600"/><stop offset="0.554" stop-color="#ffa200"/><stop offset="0.570" stop-color="#ff9f00"/><stop offset="0.585" stop-color="#ff9d00"/><stop offset="0.601" stop-color="#ff9e00"/><stop offset="0.617" stop-color="#ff9f00"/><stop offset="0.633" stop-color="#ffa100"/><stop offset="0.649" stop-color="#ffa200"/><stop offset="0.665" stop-color="#ffa400"/><stop offset="0.680" stop-color="#ffa500"/><stop offset="0.696" stop-color="#ffa600"/><stop offset="0.712" stop-color="#ffa800"/><stop offset="0.728" stop-color="#ffa700"/><stop offset="0.744" stop-color="#ffa400"/><stop offset="0.759" stop-color="#ffa000"/><stop offset="0.775" stop-color="#ff9d00"/><stop offset="0.791" stop-color="#ff9a00"/><stop offset="0.807" stop-color="#ff9700"/><stop offset="0.823" stop-color="#ff9300"/><stop offset="0.839" stop-color="#ff9000"/><stop offset="0.854" stop-color="#ff8d00"/><stop offset="0.870" stop-color="#ff8a00"/><stop offset="0.886" stop-color="#ff8800"/><stop offset="0.902" stop-color="#ff8700"/><stop offset="0.918" stop-color="#ff8500"/><stop offset="0.934" stop-color="#ff8400"/><stop offset="0.949" stop-color="#ff8200"/><stop offset="0.965" stop-color="#ff8100"/><stop offset="0.981" stop-color="#ff7f00"/><stop offset="0.997" stop-color="#ff7e00"/><stop offset="1.000" stop-color="#ff7e00"/></linearGradient><linearGradient id="g52" gradientUnits="userSpaceOnUse" x1="59.3" x2="312.1" y1="0" y2="0"><stop offset="0.000" stop-color="#0094ff"/><stop offset="0.016" stop-color="#00abff"/><stop offset="0.032" stop-color="#00c6ff"/><stop offset="0.047" stop-color="#00e1ff"/><stop offset="0.063" stop-color="#00fcff"/><stop offset="0.079" stop-color="#18ffe7"/><stop offset="0.095" stop-color="#33ffcc"/><stop offset="0.111" stop-color="#4effb1"/><stop offset="0.127" stop-color="#69ff96"/><stop offset="0.142" stop-color="#83ff7c"/><stop offset="0.158" stop-color="#9eff61"/><stop offset="0.174" stop-color="#a9ff56"/><stop offset="0.190" stop-color="#b2ff4d"/><stop offset="0.206" stop-color="#bcff43"/><stop offset="0.222" stop-color="#c6ff39"/><stop offset="0.237" stop-color="#cfff30"/><stop offset="0.253" stop-color="#d8ff27"/><stop offset="0.269" stop-color="#e1ff1e"/><stop offset="0.285" stop-color="#eaff15"/><stop offset="0.301" stop-color="#f3ff0c"/><stop offset="0.316" stop-color="#fdff02"/><stop offset="0.332" stop-color="#fff700"/><stop offset="0.348" stop-color="#ffed00"/><stop offset="0.364" stop-color="#ffe300"/><stop offset="0.380" stop-color="#ffd800"/><stop offset="0.396" stop-color="#ffce00"/><stop offset="0.411" stop-color="#ffc400"/><stop offset="0.427" stop-color="#ffba00"/><stop offset="0.443" stop-color="#ffb100"/><stop offset="0.459" stop-color="#ffae00"/><stop offset="0.475" stop-color="#ffaa00"/><stop offset="0.491" stop-color="#ffa700"/><stop offset="0.506" stop-color="#ffa400"/><stop offset="0.522" stop-color="#ffa100"/><stop offset="0.538" stop-color="#ff9d00"/><stop offset="0.554" stop-color="#ff9a00"/><stop offset="0.570" stop-color="#ff9700"/><stop offset="0.585" stop-color="#ff9400"/><stop offset="0.601" stop-color="#ff9600"/><stop offset="0.617" stop-color="#ff9700"/><stop offset="0.633" stop-color="#ff9800"/><stop offset="0.649" stop-color="#ff9a00"/><stop offset="0.665" stop-color="#ff9b00"/><stop offset="0.680" stop-color="#ff9c00"/><stop offset="0.696" stop-color="#ff9e00"/><stop offset="0.712" stop-color="#ff9f00"/><stop offset="0.728" stop-color="#ff9f00"/><stop offset="0.744" stop-color="#ff9b00"/><stop offset="0.759" stop-color="#ff9800"/><stop offset="0.775" stop-color="#ff9500"/><stop offset="0.791" stop-color="#ff9200"/><stop offset="0.807" stop-color="#ff8f00"/><stop offset="0.823" stop-color="#ff8b00"/><stop offset="0.839" stop-color="#ff8800"/><stop offset="0.854" stop-color="#ff8500"/><stop offset="0.870" stop-color="#ff8200"/><stop offset="0.886" stop-color="#ff8100"/><stop offset="0.902" stop-color="#ff7f00"/><stop offset="0.918" stop-color="#ff7e00"/><stop offset="0.934" stop-color="#ff7c00"/><stop offset="0.949" stop-color="#ff7b00"/><stop offset="0.965" stop-color="#ff7900"/><stop offset="0.981" stop-color="#ff7800"/><stop offset="0.997" stop-color="#ff7700"/><stop offset="1.000" stop-color="#ff7600"/></linearGradient><linearGradient id="g54" gradientUnits="userSpaceOnUse" x1="59.3" x2="312.1" y1="0" y2="0"><stop offset="0.000" stop-color="#00acff"/><stop offset="0.016" stop-color="#00c3ff"/><stop offset="0.032" stop-color="#00ddff"/><stop offset="0.047" stop-color="#00f7ff"/><stop offset="0.063" stop-color="#12ffed"/><stop offset="0.079" stop-color="#2cffd3"/><stop offset="0.095" stop-color="#46ffb9"/><stop offset="0.111" stop-color="#60ff9f"/><stop offset="0.127" stop-color="#7aff85"/><stop offset="0.142" stop-color="#94ff6b"/><stop offset="0.158" stop-color="#aeff51"/><stop offset="0.174" stop-color="#b8ff47"/><stop offset="0.190" stop-color="#c1ff3e"/><stop offset="0.206" stop-color="#caff35"/><stop offset="0.222" stop-color="#d4ff2b"/><stop offset="0.237" stop-color="#dcff23"/><stop offset="0.253" stop-color="#e5ff1a"/><stop offset="0.269" stop-color="#edff12"/><stop offset="0.285" stop-color="#f6ff09"/><stop offset="0.301" stop-color="#feff01"/><stop offset="0.316" stop-color="#fff600"/><stop offset="0.332" stop-color="#ffec00"/><stop offset="0.348" stop-color="#ffe200"/><stop offset="0.364" stop-color="#ffd800"/><stop offset="0.380" stop-color="#ffce00"/><stop offset="0.396" stop-color="#ffc400"/><stop offset="0.411" stop-color="#ffbb00"/><stop offset="0.427" stop-color="#ffb100"/><stop offset="0.443" stop-color="#ffa800"/><stop offset="0.459" stop-color="#ffa500"/><stop offset="0.475" stop-color="#ffa200"/><stop offset="0.491" stop-color="#ff9e00"/><stop offset="0.506" stop-color="#ff9b00"/><stop offset="0.522" stop-color="#ff9800"/><stop offset="0.538" stop-color="#ff9500"/><stop offset="0.554" stop-color="#ff9100"/><stop offset="0.570" stop-color="#ff8e00"/><stop offset="0.585" stop-color="#ff8c00"/><stop offset="0.601" stop-color="#ff8d00"/><stop offset="0.617" stop-color="#ff8f00"/><stop offset="0.633" stop-color="#ff9000"/><stop offset="0.649" stop-color="#ff9100"/><stop offset="0.665" stop-color="#ff9300"/><stop offset="0.680" stop-color="#ff9400"/><stop offset="0.696" stop-color="#ff9500"/><stop offset="0.712" stop-color="#ff9700"/><stop offset="0.728" stop-color="#ff9600"/><stop offset="0.744" stop-color="#ff9300"/><stop offset="0.759" stop-color="#ff9000"/><stop offset="0.775" stop-color="#ff8d00"/><stop offset="0.791" stop-color="#ff8a00"/><stop offset="0.807" stop-color="#ff8600"/><stop offset="0.823" stop-color="#ff8300"/><stop offset="0.839" stop-color="#ff8000"/><stop offset="0.854" stop-color="#ff7d00"/><stop offset="0.870" stop-color="#ff7a00"/><stop offset="0.886" stop-color="#ff7900"/><stop offset="0.902" stop-color="#ff7800"/><stop offset="0.918" stop-color="#ff7600"/><stop offset="0.934" stop-color="#ff7500"/><stop offset="0.949" stop-color="#ff7300"/><stop offset="0.965" stop-color="#ff7200"/><stop offset="0.981" stop-color="#ff7100"/><stop offset="0.997" stop-color="#ff6f00"/><stop offset="1.000" stop-color="#ff6f00"/></linearGradient><linearGradient id="g56" gradientUnits="userSpaceOnUse" x1="59.3" x2="312.1" y1="0" y2="0"><stop offset="0.000" stop-color="#00c5ff"/><stop offset="0.016" stop-color="#00dbff"/><stop offset="0.032" stop-color="#00f4ff"/><stop offset="0.047" stop-color="#0efff1"/><stop offset="0.063" stop-color="#28ffd7"/><stop offset="0.079" stop-color="#41ffbe"/><stop offset="0.095" stop-color="#5affa5"/><stop offset="0.111" stop-color="#73ff8c"/><stop offset="0.127" stop-color="#8cff73"/><stop offset="0.142" stop-color="#a5ff5a"/><stop offset="0.158" stop-color="#bfff40"/><stop offset="0.174" stop-color="#c8ff37"/><stop offset="0.190" stop-color="#d1ff2e"/><stop offset="0.206" stop-color="#d9ff26"/><stop offset="0.222" stop-color="#e2ff1d"/><stop offset="0.237" stop-color="#eaff15"/><stop offset="0.253" stop-color="#f2ff0d"/><stop offset="0.269" stop-color="#faff05"/><stop offset="0.285" stop-color="#fffc00"/><stop offset="0.301" stop-color="#fff400"/><stop offset="0.316" stop-color="#ffea00"/><stop offset="0.332" stop-color="#ffe100"/><stop offset="0.348" stop-color="#ffd700"/><stop offset="0.364" stop-color="#ffce00"/><stop offset="0.380" stop-color="#ffc400"/><stop offset="0.396" stop-color="#ffbb00"/><stop offset="0.411" stop-color="#ffb100"/><stop offset="0.427" stop-color="#ffa700"/><stop offset="0.443" stop-color="#ff9f00"/><stop offset="0.459" stop-color="#ff9c00"/><stop offset="0.475" stop-color="#ff9900"/><stop offset="0.491" stop-color="#ff9600"/><stop offset="0.506" stop-color="#ff9200"/><stop offset="0.522" stop-color="#ff8f00"/><stop offset="0.538" stop-color="#ff8c00"/><stop offset="0.554" stop-color="#ff8900"/><stop offset="0.570" stop-color="#ff8600"/><stop offset="0.585" stop-color="#ff8400"/><stop offset="0.601" stop-color="#ff8500"/><stop offset="0.617" stop-color="#ff8600"/><stop offset="0.633" stop-color="#ff8800"/><stop offset="0.649" stop-color="#ff8900"/><stop offset="0.665" stop-color="#ff8a00"/><stop offset="0.680" stop-color="#ff8b00"/><stop offset="0.696" stop-color="#ff8d00"/><stop offset="0.712" stop-color="#ff8e00"/><stop offset="0.728" stop-color="#ff8d00"/><stop offset="0.744" stop-color="#ff8a00"/><stop offset="0.759" stop-color="#ff8700"/><stop offset="0.775" stop-color="#ff8400"/><stop offset="0.791" stop-color="#ff8100"/><stop offset="0.807" stop-color="#ff7e00"/><stop offset="0.823" stop-color="#ff7b00"/><stop offset="0.839" stop-color="#ff7800"/><stop offset="0.854" stop-color="#ff7500"/><stop offset="0.870" stop-color="#ff7300"/><stop offset="0.886" stop-color="#ff7100"/><stop offset="0.902" stop-color="#ff7000"/><stop offset="0.918" stop-color="#ff6f00"/><stop offset="0.934" stop-color="#ff6d00"/><stop offset="0.949" stop-color="#ff6c00"/><stop offset="0.965" stop-color="#ff6b00"/><stop offset="0.981" stop-color="#ff6900"/><stop offset="0.997" stop-color="#ff6800"/><stop offset="1.000" stop-color="#ff6800"/></linearGradient><linearGradient id="g58" gradientUnits="userSpaceOnUse" x1="59.3" x2="312.1" y1="0" y2="0"><stop offset="0.000" stop-color="#00deff"/><stop offset="0.016" stop-color="#00f3ff"/><stop offset="0.032" stop-color="#0cfff3"/><stop offset="0.047" stop-color="#25ffda"/><stop offset="0.063" stop-color="#3dffc2"/><stop offset="0.079" stop-color="#55ffaa"/><stop offset="0.095" stop-color="#6dff92"/><stop offset="0.111" stop-color="#86ff79"/><stop offset="0.127" stop-color="#9eff61"/><stop offset="0.142" stop-color="#b6ff49"/><stop offset="0.158" stop-color="#cfff30"/><stop offset="0.174" stop-color="#d8ff27"/><stop offset="0.190" stop-color="#e0ff1f"/><stop offset="0.206" stop-color="#e8ff17"/><stop offset="0.222" stop-color="#f0ff0f"/><stop offset="0.237" stop-color="#f8ff07"/><stop offset="0.253" stop-color="#ffff00"/><stop offset="0.269" stop-color="#fff700"/><stop offset="0.285" stop-color="#fff000"/><stop offset="0.301" stop-color="#ffe800"/><stop offset="0.316" stop-color="#ffdf00"/><stop offset="0.332" stop-color="#ffd600"/><stop offset="0.348" stop-color="#ffcc00"/><stop offset="0.364" stop-color="#ffc300"/><stop offset="0.380" stop-color="#ffba00"/><stop offset="0.396" stop-color="#ffb100"/><stop offset="0.411" stop-color="#ffa700"/><stop offset="0.427" stop-color="#ff9e00"/><stop offset="0.443" stop-color="#ff9600"/><stop offset="0.459" stop-color="#ff9300"/><stop offset="0.475" stop-color="#ff9000"/><stop offset="0.491" stop-color="#ff8d00"/><stop offset="0.506" stop-color="#ff8a00"/><stop offset="0.522" stop-color="#ff8700"/><stop offset="0.538" stop-color="#ff8400"/><stop offset="0.554" stop-color="#ff8100"/><stop offset="0.570" stop-color="#ff7e00"/><stop offset="0.585" stop-color="#ff7c00"/><stop offset="0.601" stop-color="#ff7d00"/><stop offset="0.617" stop-color="#ff7e00"/><stop offset="0.633" stop-color="#ff7f00"/><stop offset="0.649" stop-color="#ff8100"/><stop offset="0.665" stop-color="#ff8200"/><stop offset="0.680" stop-color="#ff8300"/><stop offset="0.696" stop-color="#ff8400"/><stop offset="0.712" stop-color="#ff8500"/><stop offset="0.728" stop-color="#ff8500"/><stop offset="0.744" stop-color="#ff8200"/><stop offset="0.759" stop-color="#ff7f00"/><stop offset="0.775" stop-color="#ff7c00"/><stop offset="0.791" stop-color="#ff7900"/><stop offset="0.807" stop-color="#ff7600"/><stop offset="0.823" stop-color="#ff7300"/><stop offset="0.839" stop-color="#ff7100"/><stop offset="0.854" stop-color="#ff6e00"/><stop offset="0.870" stop-color="#ff6b00"/><stop offset="0.886" stop-color="#ff6a00"/><stop offset="0.902" stop-color="#ff6800"/><stop offset="0.918" stop-color="#ff6700"/><stop offset="0.934" stop-color="#ff6600"/><stop offset="0.949" stop-color="#ff6400"/><stop offset="0.965" stop-color="#ff6300"/><stop offset="0.981" stop-color="#ff6200"/><stop offset="0.997" stop-color="#ff6100"/><stop offset="1.000" stop-color="#ff6000"/></linearGradient><linearGradient id="g60" gradientUnits="userSpaceOnUse" x1="59.3" x2="312.1" y1="0" y2="0"><stop offset="0.000" stop-color="#00fdff"/><stop offset="0.016" stop-color="#12ffed"/><stop offset="0.032" stop-color="#29ffd6"/><stop offset="0.047" stop-color="#3fffc0"/><stop offset="0.063" stop-color="#56ffa9"/><stop offset="0.079" stop-color="#6dff92"/><stop offset="0.095" stop-color="#84ff7b"/><stop offset="0.111" stop-color="#9bff64"/><stop offset="0.127" stop-color="#b1ff4e"/><stop offset="0.142" stop-color="#c8ff37"/><stop offset="0.158" stop-color="#dfff20"/><stop offset="0.174" stop-color="#e7ff18"/><stop offset="0.190" stop-color="#efff10"/><stop offset="0.206" stop-color="#f6ff09"/><stop offset="0.222" stop-color="#feff01"/><stop offset="0.237" stop-color="#fff900"/><stop offset="0.253" stop-color="#fff200"/><stop offset="0.269" stop-color="#ffea00"/><stop offset="0.285" stop-color="#ffe300"/><stop offset="0.301" stop-color="#ffdc00"/><stop offset="0.316" stop-color="#ffd300"/><stop offset="0.332" stop-color="#ffca00"/><stop offset="0.348" stop-color="#ffc100"/><stop offset="0.364" stop-color="#ffb800"/><stop offset="0.380" stop-color="#ffaf00"/><stop offset="0.396" stop-color="#ffa700"/><stop offset="0.411" stop-color="#ff9e00"/><stop offset="0.427" stop-color="#ff9500"/><stop offset="0.443" stop-color="#ff8d00"/><stop offset="0.459" stop-color="#ff8a00"/><stop offset="0.475" stop-color="#ff8700"/><stop offset="0.491" stop-color="#ff8400"/><stop offset="0.506" stop-color="#ff8100"/><stop offset="0.522" stop-color="#ff7e00"/><stop offset="0.538" stop-color="#ff7b00"/><stop offset="0.554" stop-color="#ff7800"/><stop offset="0.570" stop-color="#ff7500"/><stop offset="0.585" stop-color="#ff7300"/><stop offset="0.601" stop-color="#ff7500"/><stop offset="0.617" stop-color="#ff7600"/><stop offset="0.633" stop-color="#ff7700"/><stop offset="0.649" stop-color="#ff7800"/><stop offset="0.665" stop-color="#ff7900"/><stop offset="0.680" stop-color="#ff7b00"/><stop offset="0.696" stop-color="#ff7c00"/><stop offset="0.712" stop-color="#ff7d00"/><stop offset="0.728" stop-color="#ff7c00"/><stop offset="0.744" stop-color="#ff7a00"/><stop offset="0.759" stop-color="#ff7700"/><stop offset="0.775" stop-color="#ff7400"/><stop offset="0.791" stop-color="#ff7100"/><stop offset="0.807" stop-color="#ff6e00"/><stop offset="0.823" stop-color="#ff6c00"/><stop offset="0.839" stop-color="#ff6900"/><stop offset="0.854" stop-color="#ff6600"/><stop offset="0.870" stop-color="#ff6300"/><stop offset="0.886" stop-color="#ff6200"/><stop offset="0.902" stop-color="#ff6100"/><stop offset="0.918" stop-color="#ff6000"/><stop offset="0.934" stop-color="#ff5e00"/><stop offset="0.949" stop-color="#ff5d00"/><stop offset="0.965" stop-color="#ff5c00"/><stop offset="0.981" stop-color="#ff5a00"/><stop offset="0.997" stop-color="#ff5900"/><stop offset="1.000" stop-color="#ff5900"/></linearGradient><linearGradient id="g62" gradientUnits="userSpaceOnUse" x1="59.3" x2="312.1" y1="0" y2="0"><stop offset="0.000" stop-color="#1fffe0"/><stop offset="0.016" stop-color="#32ffcd"/><stop offset="0.032" stop-color="#47ffb8"/><stop offset="0.047" stop-color="#5cffa3"/><stop offset="0.063" stop-color="#71ff8e"/><stop offset="0.079" stop-color="#86ff79"/><stop offset="0.095" stop-color="#9bff64"/><stop offset="0.111" stop-color="#b0ff4f"/><stop offset="0.127" stop-color="#c5ff3a"/><stop offset="0.142" stop-color="#daff25"/><stop offset="0.158" stop-color="#efff10"/><stop offset="0.174" stop-color="#f7ff08"/><stop offset="0.190" stop-color="#feff01"/><stop offset="0.206" stop-color="#fff900"/><stop offset="0.222" stop-color="#fff200"/><stop offset="0.237" stop-color="#ffeb00"/><stop offset="0.253" stop-color="#ffe400"/><stop offset="0.269" stop-color="#ffde00"/><stop offset="0.285" stop-color="#ffd700"/><stop offset="0.301" stop-color="#ffd000"/><stop offset="0.316" stop-color="#ffc800"/><stop offset="0.332" stop-color="#ffbf00"/><stop offset="0.348" stop-color="#ffb600"/><stop offset="0.364" stop-color="#ffae00"/><stop offset="0.380" stop-color="#ffa500"/><stop offset="0.396" stop-color="#ff9d00"/><stop offset="0.411" stop-color="#ff9400"/><stop offset="0.427" stop-color="#ff8b00"/><stop offset="0.443" stop-color="#ff8400"/><stop offset="0.459" stop-color="#ff8100"/><stop offset="0.475" stop-color="#ff7e00"/><stop offset="0.491" stop-color="#ff7b00"/><stop offset="0.506" stop-color="#ff7800"/><stop offset="0.522" stop-color="#ff7600"/><stop offset="0.538" stop-color="#ff7300"/><stop offset="0.554" stop-color="#ff7000"/><stop offset="0.570" stop-color="#ff6d00"/><stop offset="0.585" stop-color="#ff6b00"/><stop offset="0.601" stop-color="#ff6c00"/><stop offset="0.617" stop-color="#ff6d00"/><stop offset="0.633" stop-color="#ff6f00"/><stop offset="0.649" stop-color="#ff7000"/><stop offset="0.665" stop-color="#ff7100"/><stop offset="0.680" stop-color="#ff7200"/><stop offset="0.696" stop-color="#ff7300"/><stop offset="0.712" stop-color="#ff7400"/><stop offset="0.728" stop-color="#ff7400"/><stop offset="0.744" stop-color="#ff7100"/><stop offset="0.759" stop-color="#ff6e00"/><stop offset="0.775" stop-color="#ff6c00"/><stop offset="0.791" stop-color="#ff6900"/><stop offset="0.807" stop-color="#ff6600"/><stop offset="0.823" stop-color="#ff6400"/><stop offset="0.839" stop-color="#ff6100"/><stop offset="0.854" stop-color="#ff5e00"/><stop offset="0.870" stop-color="#ff5c00"/><stop offset="0.886" stop-color="#ff5a00"/><stop offset="0.902" stop-color="#ff5900"/><stop offset="0.918" stop-color="#ff5800"/><stop offset="0.934" stop-color="#ff5700"/><stop offset="0.949" stop-color="#ff5600"/><stop offset="0.965" stop-color="#ff5400"/><stop offset="0.981" stop-color="#ff5300"/><stop offset="0.997" stop-color="#ff5200"/><stop offset="1.000" stop-color="#ff5200"/></linearGradient><linearGradient id="g64" gradientUnits="userSpaceOnUse" x1="59.3" x2="312.1" y1="0" y2="0"><stop offset="0.000" stop-color="#41ffbe"/><stop offset="0.016" stop-color="#52ffad"/><stop offset="0.032" stop-color="#65ff9a"/><stop offset="0.047" stop-color="#77ff88"/><stop offset="0.063" stop-color="#8aff75"/><stop offset="0.079" stop-color="#9dff62"/><stop offset="0.095" stop-color="#b0ff4f"/><stop offset="0.111" stop-color="#c3ff3c"/><stop offset="0.127" stop-color="#d6ff29"/><stop offset="0.142" stop-color="#e9ff16"/><stop offset="0.158" stop-color="#fcff03"/><stop offset="0.174" stop-color="#fffa00"/><stop offset="0.190" stop-color="#fff400"/><stop offset="0.206" stop-color="#ffed00"/><stop offset="0.222" stop-color="#ffe600"/><stop offset="0.237" stop-color="#ffdf00"/><stop offset="0.253" stop-color="#ffd800"/><stop offset="0.269" stop-color="#ffd200"/><stop offset="0.285" stop-color="#ffcb00"/><stop offset="0.301" stop-color="#ffc400"/><stop offset="0.316" stop-color="#ffbc00"/><stop offset="0.332" stop-color="#ffb400"/><stop offset="0.348" stop-color="#ffac00"/><stop offset="0.364" stop-color="#ffa300"/><stop offset="0.380" stop-color="#ff9b00"/><stop offset="0.396" stop-color="#ff9300"/><stop offset="0.411" stop-color="#ff8a00"/><stop offset="0.427" stop-color="#ff8200"/><stop offset="0.443" stop-color="#ff7b00"/><stop offset="0.459" stop-color="#ff7800"/><stop offset="0.475" stop-color="#ff7500"/><stop offset="0.491" stop-color="#ff7200"/><stop offset="0.506" stop-color="#ff7000"/><stop offset="0.522" stop-color="#ff6d00"/><stop offset="0.538" stop-color="#ff6a00"/><stop offset="0.554" stop-color="#ff6700"/><stop offset="0.570" stop-color="#ff6500"/><stop offset="0.585" stop-color="#ff6300"/><stop offset="0.601" stop-color="#ff6400"/><stop offset="0.617" stop-color="#ff6500"/><stop offset="0.633" stop-color="#ff6600"/><stop offset="0.649" stop-color="#ff6700"/><stop offset="0.665" stop-color="#ff6800"/><stop offset="0.680" stop-color="#ff6a00"/><stop offset="0.696" stop-color="#ff6b00"/><stop offset="0.712" stop-color="#ff6c00"/><stop offset="0.728" stop-color="#ff6b00"/><stop offset="0.744" stop-color="#ff6900"/><stop offset="0.759" stop-color="#ff6600"/><stop offset="0.775" stop-color="#ff6300"/><stop offset="0.791" stop-color="#ff6100"/><stop offset="0.807" stop-color="#ff5e00"/><stop offset="0.823" stop-color="#ff5c00"/><stop offset="0.839" stop-color="#ff5900"/><stop offset="0.854" stop-color="#ff5600"/><stop offset="0.870" stop-color="#ff5400"/><stop offset="0.886" stop-color="#ff5300"/><stop offset="0.902" stop-color="#ff5200"/><stop offset="0.918" stop-color="#ff5000"/><stop offset="0.934" stop-color="#ff4f00"/><stop offset="0.949" stop-color="#ff4e00"/><stop offset="0.965" stop-color="#ff4d00"/><stop offset="0.981" stop-color="#ff4c00"/><stop offset="0.997" stop-color="#ff4b00"/><stop offset="1.000" stop-color="#ff4a00"/></linearGradient><linearGradient id="g66" gradientUnits="userSpaceOnUse" x1="59.3" x2="312.1" y1="0" y2="0"><stop offset="0.000" stop-color="#63ff9c"/><stop offset="0.016" stop-color="#71ff8e"/><stop offset="0.032" stop-color="#82ff7d"/><stop offset="0.047" stop-color="#93ff6c"/><stop offset="0.063" stop-color="#a4ff5b"/><stop offset="0.079" stop-color="#b5ff4a"/><stop offset="0.095" stop-color="#c6ff39"/><stop offset="0.111" stop-color="#d6ff29"/><stop offset="0.127" stop-color="#e7ff18"/><stop offset="0.142" stop-color="#f8ff07"/><stop offset="0.158" stop-color="#fff500"/><stop offset="0.174" stop-color="#ffee00"/><stop offset="0.190" stop-color="#ffe700"/><stop offset="0.206" stop-color="#ffe000"/><stop offset="0.222" stop-color="#ffd900"/><stop offset="0.237" stop-color="#ffd300"/><stop offset="0.253" stop-color="#ffcc00"/><stop offset="0.269" stop-color="#ffc600"/><stop offset="0.285" stop-color="#ffbf00"/><stop offset="0.301" stop-color="#ffb900"/><stop offset="0.316" stop-color="#ffb100"/><stop offset="0.332" stop-color="#ffa900"/><stop offset="0.348" stop-color="#ffa100"/><stop offset="0.364" stop-color="#ff9900"/><stop offset="0.380" stop-color="#ff9100"/><stop offset="0.396" stop-color="#ff8900"/><stop offset="0.411" stop-color="#ff8100"/><stop offset="0.427" stop-color="#ff7900"/><stop offset="0.443" stop-color="#ff7200"/><stop offset="0.459" stop-color="#ff6f00"/><stop offset="0.475" stop-color="#ff6c00"/><stop offset="0.491" stop-color="#ff6a00"/><stop offset="0.506" stop-color="#ff6700"/><stop offset="0.522" stop-color="#ff6400"/><stop offset="0.538" stop-color="#ff6200"/><stop offset="0.554" stop-color="#ff5f00"/><stop offset="0.570" stop-color="#ff5d00"/><stop offset="0.585" stop-color="#ff5b00"/><stop offset="0.601" stop-color="#ff5c00"/><stop offset="0.617" stop-color="#ff5d00"/><stop offset="0.633" stop-color="#ff5e00"/><stop offset="0.649" stop-color="#ff5f00"/><stop offset="0.665" stop-color="#ff6000"/><stop offset="0.680" stop-color="#ff6100"/><stop offset="0.696" stop-color="#ff6200"/><stop offset="0.712" stop-color="#ff6300"/><stop offset="0.728" stop-color="#ff6300"/><stop offset="0.744" stop-color="#ff6000"/><stop offset="0.759" stop-color="#ff5e00"/><stop offset="0.775" stop-color="#ff5b00"/><stop offset="0.791" stop-color="#ff5900"/><stop offset="0.807" stop-color="#ff5600"/><stop offset="0.823" stop-color="#ff5400"/><stop offset="0.839" stop-color="#ff5100"/><stop offset="0.854" stop-color="#ff4f00"/><stop offset="0.870" stop-color="#ff4c00"/><stop offset="0.886" stop-color="#ff4b00"/><stop offset="0.902" stop-color="#ff4a00"/><stop offset="0.918" stop-color="#ff4900"/><stop offset="0.934" stop-color="#ff4800"/><stop offset="0.949" stop-color="#ff4700"/><stop offset="0.965" stop-color="#ff4500"/><stop offset="0.981" stop-color="#ff4400"/><stop offset="0.997" stop-color="#ff4300"/><stop offset="1.000" stop-color="#ff4300"/></linearGradient><linearGradient id="g68" gradientUnits="userSpaceOnUse" x1="59.3" x2="312.1" y1="0" y2="0"><stop offset="0.000" stop-color="#7fff80"/><stop offset="0.016" stop-color="#8dff72"/><stop offset="0.032" stop-color="#9cff63"/><stop offset="0.047" stop-color="#abff54"/><stop offset="0.063" stop-color="#bbff44"/><stop offset="0.079" stop-color="#caff35"/><stop offset="0.095" stop-color="#d9ff26"/><stop offset="0.111" stop-color="#e8ff17"/><stop offset="0.127" stop-color="#f8ff07"/><stop offset="0.142" stop-color="#fff700"/><stop offset="0.158" stop-color="#ffe800"/><stop offset="0.174" stop-color="#ffe100"/><stop offset="0.190" stop-color="#ffda00"/><stop offset="0.206" stop-color="#ffd400"/><stop offset="0.222" stop-color="#ffcd00"/><stop offset="0.237" stop-color="#ffc700"/><stop offset="0.253" stop-color="#ffc100"/><stop offset="0.269" stop-color="#ffba00"/><stop offset="0.285" stop-color="#ffb400"/><stop offset="0.301" stop-color="#ffae00"/><stop offset="0.316" stop-color="#ffa600"/><stop offset="0.332" stop-color="#ff9e00"/><stop offset="0.348" stop-color="#ff9700"/><stop offset="0.364" stop-color="#ff8f00"/><stop offset="0.380" stop-color="#ff8700"/><stop offset="0.396" stop-color="#ff7f00"/><stop offset="0.411" stop-color="#ff7700"/><stop offset="0.427" stop-color="#ff7000"/><stop offset="0.443" stop-color="#ff6900"/><stop offset="0.459" stop-color="#ff6600"/><stop offset="0.475" stop-color="#ff6400"/><stop offset="0.491" stop-color="#ff6100"/><stop offset="0.506" stop-color="#ff5f00"/><stop offset="0.522" stop-color="#ff5c00"/><stop offset="0.538" stop-color="#ff5a00"/><stop offset="0.554" stop-color="#ff5700"/><stop offset="0.570" stop-color="#ff5400"/><stop offset="0.585" stop-color="#ff5300"/><stop offset="0.601" stop-color="#ff5400"/><stop offset="0.617" stop-color="#ff5500"/><stop offset="0.633" stop-color="#ff5600"/><stop offset="0.649" stop-color="#ff5700"/><stop offset="0.665" stop-color="#ff5800"/><stop offset="0.680" stop-color="#ff5900"/><stop offset="0.696" stop-color="#ff5a00"/><stop offset="0.712" stop-color="#ff5b00"/><stop offset="0.728" stop-color="#ff5b00"/><stop offset="0.744" stop-color="#ff5800"/><stop offset="0.759" stop-color="#ff5600"/><stop offset="0.775" stop-color="#ff5300"/><stop offset="0.791" stop-color="#ff5100"/><stop offset="0.807" stop-color="#ff4e00"/><stop offset="0.823" stop-color="#ff4c00"/><stop offset="0.839" stop-color="#ff4900"/><stop offset="0.854" stop-color="#ff4700"/><stop offset="0.870" stop-color="#ff4500"/><stop offset="0.886" stop-color="#ff4400"/><stop offset="0.902" stop-color="#ff4200"/><stop offset="0.918" stop-color="#ff4100"/><stop offset="0.934" stop-color="#ff4000"/><stop offset="0.949" stop-color="#ff3f00"/><stop offset="0.965" stop-color="#ff3e00"/><stop offset="0.981" stop-color="#ff3d00"/><stop offset="0.997" stop-color="#ff3c00"/><stop offset="1.000" stop-color="#ff3c00"/></linearGradient><linearGradient id="g70" gradientUnits="userSpaceOnUse" x1="59.3" x2="312.1" y1="0" y2="0"><stop offset="0.000" stop-color="#9cff63"/><stop offset="0.016" stop-color="#a8ff57"/><stop offset="0.032" stop-color="#b6ff49"/><stop offset="0.047" stop-color="#c3ff3c"/><stop offset="0.063" stop-color="#d1ff2e"/><stop offset="0.079" stop-color="#dfff20"/><stop offset="0.095" stop-color="#ecff13"/><stop offset="0.111" stop-color="#faff05"/><stop offset="0.127" stop-color="#fff600"/><stop offset="0.142" stop-color="#ffe800"/><stop offset="0.158" stop-color="#ffdb00"/><stop offset="0.174" stop-color="#ffd400"/><stop offset="0.190" stop-color="#ffce00"/><stop offset="0.206" stop-color="#ffc700"/><stop offset="0.222" stop-color="#ffc100"/><stop offset="0.237" stop-color="#ffbb00"/><stop offset="0.253" stop-color="#ffb500"/><stop offset="0.269" stop-color="#ffaf00"/><stop offset="0.285" stop-color="#ffa900"/><stop offset="0.301" stop-color="#ffa300"/><stop offset="0.316" stop-color="#ff9b00"/><stop offset="0.332" stop-color="#ff9400"/><stop offset="0.348" stop-color="#ff8c00"/><stop offset="0.364" stop-color="#ff8500"/><stop offset="0.380" stop-color="#ff7d00"/><stop offset="0.396" stop-color="#ff7600"/><stop offset="0.411" stop-color="#ff6e00"/><stop offset="0.427" stop-color="#ff6700"/><stop offset="0.443" stop-color="#ff6000"/><stop offset="0.459" stop-color="#ff5e00"/><stop offset="0.475" stop-color="#ff5b00"/><stop offset="0.491" stop-color="#ff5900"/><stop offset="0.506" stop-color="#ff5600"/><stop offset="0.522" stop-color="#ff5400"/><stop offset="0.538" stop-color="#ff5100"/><stop offset="0.554" stop-color="#ff4f00"/><stop offset="0.570" stop-color="#ff4c00"/><stop offset="0.585" stop-color="#ff4b00"/><stop offset="0.601" stop-color="#ff4c00"/><stop offset="0.617" stop-color="#ff4d00"/><stop offset="0.633" stop-color="#ff4e00"/><stop offset="0.649" stop-color="#ff4f00"/><stop offset="0.665" stop-color="#ff5000"/><stop offset="0.680" stop-color="#ff5100"/><stop offset="0.696" stop-color="#ff5200"/><stop offset="0.712" stop-color="#ff5300"/><stop offset="0.728" stop-color="#ff5200"/><stop offset="0.744" stop-color="#ff5000"/><stop offset="0.759" stop-color="#ff4d00"/><stop offset="0.775" stop-color="#ff4b00"/><stop offset="0.791" stop-color="#ff4900"/><stop offset="0.807" stop-color="#ff4600"/><stop offset="0.823" stop-color="#ff4400"/><stop offset="0.839" stop-color="#ff4200"/><stop offset="0.854" stop-color="#ff3f00"/><stop offset="0.870" stop-color="#ff3d00"/><stop offset="0.886" stop-color="#ff3c00"/><stop offset="0.902" stop-color="#ff3b00"/><stop offset="0.918" stop-color="#ff3a00"/><stop offset="0.934" stop-color="#ff3900"/><stop offset="0.949" stop-color="#ff3800"/><stop offset="0.965" stop-color="#ff3700"/><stop offset="0.981" stop-color="#ff3600"/><stop offset="0.997" stop-color="#ff3500"/><stop offset="1.000" stop-color="#ff3400"/></linearGradient><linearGradient id="g72" gradientUnits="userSpaceOnUse" x1="59.3" x2="312.1" y1="0" y2="0"><stop offset="0.000" stop-color="#b8ff47"/><stop offset="0.016" stop-color="#c3ff3c"/><stop offset="0.032" stop-color="#cfff30"/><stop offset="0.047" stop-color="#dbff24"/><stop offset="0.063" stop-color="#e8ff17"/><stop offset="0.079" stop-color="#f4ff0b"/><stop offset="0.095" stop-color="#fffe00"/><stop offset="0.111" stop-color="#fff200"/><stop offset="0.127" stop-color="#ffe600"/><stop offset="0.142" stop-color="#ffda00"/><stop offset="0.158" stop-color="#ffcd00"/><stop offset="0.174" stop-color="#ffc700"/><stop offset="0.190" stop-color="#ffc100"/><stop offset="0.206" stop-color="#ffbb00"/><stop offset="0.222" stop-color="#ffb500"/><stop offset="0.237" stop-color="#ffaf00"/><stop offset="0.253" stop-color="#ffa900"/><stop offset="0.269" stop-color="#ffa300"/><stop offset="0.285" stop-color="#ff9e00"/><stop offset="0.301" stop-color="#ff9800"/><stop offset="0.316" stop-color="#ff9100"/><stop offset="0.332" stop-color="#ff8900"/><stop offset="0.348" stop-color="#ff8200"/><stop offset="0.364" stop-color="#ff7b00"/><stop offset="0.380" stop-color="#ff7300"/><stop offset="0.396" stop-color="#ff6c00"/><stop offset="0.411" stop-color="#ff6500"/><stop offset="0.427" stop-color="#ff5e00"/><stop offset="0.443" stop-color="#ff5700"/><stop offset="0.459" stop-color="#ff5500"/><stop offset="0.475" stop-color="#ff5200"/><stop offset="0.491" stop-color="#ff5000"/><stop offset="0.506" stop-color="#ff4e00"/><stop offset="0.522" stop-color="#ff4b00"/><stop offset="0.538" stop-color="#ff4900"/><stop offset="0.554" stop-color="#ff4700"/><stop offset="0.570" stop-color="#ff4400"/><stop offset="0.585" stop-color="#ff4300"/><stop offset="0.601" stop-color="#ff4400"/><stop offset="0.617" stop-color="#ff4500"/><stop offset="0.633" stop-color="#ff4500"/><stop offset="0.649" stop-color="#ff4600"/><stop offset="0.665" stop-color="#ff4700"/><stop offset="0.680" stop-color="#ff4800"/><stop offset="0.696" stop-color="#ff4900"/><stop offset="0.712" stop-color="#ff4a00"/><stop offset="0.728" stop-color="#ff4a00"/><stop offset="0.744" stop-color="#ff4800"/><stop offset="0.759" stop-color="#ff4500"/><stop offset="0.775" stop-color="#ff4300"/><stop offset="0.791" stop-color="#ff4100"/><stop offset="0.807" stop-color="#ff3e00"/><stop offset="0.823" stop-color="#ff3c00"/><stop offset="0.839" stop-color="#ff3a00"/><stop offset="0.854" stop-color="#ff3800"/><stop offset="0.870" stop-color="#ff3500"/><stop offset="0.886" stop-color="#ff3400"/><stop offset="0.902" stop-color="#ff3300"/><stop offset="0.918" stop-color="#ff3200"/><stop offset="0.934" stop-color="#ff3100"/><stop offset="0.949" stop-color="#ff3000"/><stop offset="0.965" stop-color="#ff2f00"/><stop offset="0.981" stop-color="#ff2e00"/><stop offset="0.997" stop-color="#ff2d00"/><stop offset="1.000" stop-color="#ff2d00"/></linearGradient><linearGradient id="g74" gradientUnits="userSpaceOnUse" x1="59.3" x2="312.1" y1="0" y2="0"><stop offset="0.000" stop-color="#d0ff2f"/><stop offset="0.016" stop-color="#daff25"/><stop offset="0.032" stop-color="#e5ff1a"/><stop offset="0.047" stop-color="#f0ff0f"/><stop offset="0.063" stop-color="#fbff04"/><stop offset="0.079" stop-color="#fff800"/><stop offset="0.095" stop-color="#ffed00"/><stop offset="0.111" stop-color="#ffe200"/><stop offset="0.127" stop-color="#ffd700"/><stop offset="0.142" stop-color="#ffcb00"/><stop offset="0.158" stop-color="#ffc000"/><stop offset="0.174" stop-color="#ffba00"/><stop offset="0.190" stop-color="#ffb400"/><stop offset="0.206" stop-color="#ffae00"/><stop offset="0.222" stop-color="#ffa900"/><stop offset="0.237" stop-color="#ffa300"/><stop offset="0.253" stop-color="#ff9d00"/><stop offset="0.269" stop-color="#ff9800"/><stop offset="0.285" stop-color="#ff9200"/><stop offset="0.301" stop-color="#ff8d00"/><stop offset="0.316" stop-color="#ff8600"/><stop offset="0.332" stop-color="#ff7f00"/><stop offset="0.348" stop-color="#ff7800"/><stop offset="0.364" stop-color="#ff7100"/><stop offset="0.380" stop-color="#ff6a00"/><stop offset="0.396" stop-color="#ff6300"/><stop offset="0.411" stop-color="#ff5c00"/><stop offset="0.427" stop-color="#ff5500"/><stop offset="0.443" stop-color="#ff4e00"/><stop offset="0.459" stop-color="#ff4c00"/><stop offset="0.475" stop-color="#ff4a00"/><stop offset="0.491" stop-color="#ff4700"/><stop offset="0.506" stop-color="#ff4500"/><stop offset="0.522" stop-color="#ff4300"/><stop offset="0.538" stop-color="#ff4100"/><stop offset="0.554" stop-color="#ff3e00"/><stop offset="0.570" stop-color="#ff3c00"/><stop offset="0.585" stop-color="#ff3a00"/><stop offset="0.601" stop-color="#ff3b00"/><stop offset="0.617" stop-color="#ff3c00"/><stop offset="0.633" stop-color="#ff3d00"/><stop offset="0.649" stop-color="#ff3e00"/><stop offset="0.665" stop-color="#ff3f00"/><stop offset="0.680" stop-color="#ff4000"/><stop offset="0.696" stop-color="#ff4100"/><stop offset="0.712" stop-color="#ff4200"/><stop offset="0.728" stop-color="#ff4200"/><stop offset="0.744" stop-color="#ff3f00"/><stop offset="0.759" stop-color="#ff3d00"/><stop offset="0.775" stop-color="#ff3b00"/><stop offset="0.791" stop-color="#ff3900"/><stop offset="0.807" stop-color="#ff3600"/><stop offset="0.823" stop-color="#ff3400"/><stop offset="0.839" stop-color="#ff3200"/><stop offset="0.854" stop-color="#ff3000"/><stop offset="0.870" stop-color="#ff2e00"/><stop offset="0.886" stop-color="#ff2d00"/><stop offset="0.902" stop-color="#ff2c00"/><stop offset="0.918" stop-color="#ff2b00"/><stop offset="0.934" stop-color="#ff2a00"/><stop offset="0.949" stop-color="#ff2900"/><stop offset="0.965" stop-color="#ff2800"/><stop offset="0.981" stop-color="#ff2700"/><stop offset="0.997" stop-color="#ff2600"/><stop offset="1.000" stop-color="#ff2600"/></linearGradient><linearGradient id="g76" gradientUnits="userSpaceOnUse" x1="59.3" x2="312.1" y1="0" y2="0"><stop offset="0.000" stop-color="#e6ff19"/><stop offset="0.016" stop-color="#efff10"/><stop offset="0.032" stop-color="#f9ff06"/><stop offset="0.047" stop-color="#fffa00"/><stop offset="0.063" stop-color="#fff000"/><stop offset="0.079" stop-color="#ffe600"/><stop offset="0.095" stop-color="#ffdc00"/><stop offset="0.111" stop-color="#ffd200"/><stop offset="0.127" stop-color="#ffc800"/><stop offset="0.142" stop-color="#ffbd00"/><stop offset="0.158" stop-color="#ffb300"/><stop offset="0.174" stop-color="#ffad00"/><stop offset="0.190" stop-color="#ffa800"/><stop offset="0.206" stop-color="#ffa200"/><stop offset="0.222" stop-color="#ff9c00"/><stop offset="0.237" stop-color="#ff9700"/><stop offset="0.253" stop-color="#ff9200"/><stop offset="0.269" stop-color="#ff8c00"/><stop offset="0.285" stop-color="#ff8700"/><stop offset="0.301" stop-color="#ff8200"/><stop offset="0.316" stop-color="#ff7b00"/><stop offset="0.332" stop-color="#ff7400"/><stop offset="0.348" stop-color="#ff6d00"/><stop offset="0.364" stop-color="#ff6700"/><stop offset="0.380" stop-color="#ff6000"/><stop offset="0.396" stop-color="#ff5900"/><stop offset="0.411" stop-color="#ff5200"/><stop offset="0.427" stop-color="#ff4c00"/><stop offset="0.443" stop-color="#ff4600"/><stop offset="0.459" stop-color="#ff4300"/><stop offset="0.475" stop-color="#ff4100"/><stop offset="0.491" stop-color="#ff3f00"/><stop offset="0.506" stop-color="#ff3d00"/><stop offset="0.522" stop-color="#ff3a00"/><stop offset="0.538" stop-color="#ff3800"/><stop offset="0.554" stop-color="#ff3600"/><stop offset="0.570" stop-color="#ff3400"/><stop offset="0.585" stop-color="#ff3200"/><stop offset="0.601" stop-color="#ff3300"/><stop offset="0.617" stop-color="#ff3400"/><stop offset="0.633" stop-color="#ff3500"/><stop offset="0.649" stop-color="#ff3600"/><stop offset="0.665" stop-color="#ff3700"/><stop offset="0.680" stop-color="#ff3800"/><stop offset="0.696" stop-color="#ff3900"/><stop offset="0.712" stop-color="#ff3a00"/><stop offset="0.728" stop-color="#ff3900"/><stop offset="0.744" stop-color="#ff3700"/><stop offset="0.759" stop-color="#ff3500"/><stop offset="0.775" stop-color="#ff3300"/><stop offset="0.791" stop-color="#ff3100"/><stop offset="0.807" stop-color="#ff2f00"/><stop offset="0.823" stop-color="#ff2c00"/><stop offset="0.839" stop-color="#ff2a00"/><stop offset="0.854" stop-color="#ff2800"/><stop offset="0.870" stop-color="#ff2600"/><stop offset="0.886" stop-color="#ff2500"/><stop offset="0.902" stop-color="#ff2400"/><stop offset="0.918" stop-color="#ff2300"/><stop offset="0.934" stop-color="#ff2200"/><stop offset="0.949" stop-color="#ff2100"/><stop offset="0.965" stop-color="#ff2000"/><stop offset="0.981" stop-color="#ff2000"/><stop offset="0.997" stop-color="#ff1f00"/><stop offset="1.000" stop-color="#ff1e00"/></linearGradient><linearGradient id="g78" gradientUnits="userSpaceOnUse" x1="59.3" x2="312.1" y1="0" y2="0"><stop offset="0.000" stop-color="#fdff02"/><stop offset="0.016" stop-color="#fffa00"/><stop offset="0.032" stop-color="#fff100"/><stop offset="0.047" stop-color="#ffe800"/><stop offset="0.063" stop-color="#ffdf00"/><stop offset="0.079" stop-color="#ffd600"/><stop offset="0.095" stop-color="#ffcd00"/><stop offset="0.111" stop-color="#ffc400"/><stop offset="0.127" stop-color="#ffbb00"/><stop offset="0.142" stop-color="#ffb200"/><stop offset="0.158" stop-color="#ffa900"/><stop offset="0.174" stop-color="#ffa300"/><stop offset="0.190" stop-color="#ff9e00"/><stop offset="0.206" stop-color="#ff9800"/><stop offset="0.222" stop-color="#ff9300"/><stop offset="0.237" stop-color="#ff8e00"/><stop offset="0.253" stop-color="#ff8900"/><stop offset="0.269" stop-color="#ff8400"/><stop offset="0.285" stop-color="#ff7f00"/><stop offset="0.301" stop-color="#ff7900"/><stop offset="0.316" stop-color="#ff7300"/><stop offset="0.332" stop-color="#ff6c00"/><stop offset="0.348" stop-color="#ff6500"/><stop offset="0.364" stop-color="#ff5f00"/><stop offset="0.380" stop-color="#ff5800"/><stop offset="0.396" stop-color="#ff5100"/><stop offset="0.411" stop-color="#ff4b00"/><stop offset="0.427" stop-color="#ff4400"/><stop offset="0.443" stop-color="#ff3e00"/><stop offset="0.459" stop-color="#ff3c00"/><stop offset="0.475" stop-color="#ff3a00"/><stop offset="0.491" stop-color="#ff3700"/><stop offset="0.506" stop-color="#ff3500"/><stop offset="0.522" stop-color="#ff3300"/><stop offset="0.538" stop-color="#ff3100"/><stop offset="0.554" stop-color="#ff2f00"/><stop offset="0.570" stop-color="#ff2c00"/><stop offset="0.585" stop-color="#ff2b00"/><stop offset="0.601" stop-color="#ff2c00"/><stop offset="0.617" stop-color="#ff2d00"/><stop offset="0.633" stop-color="#ff2e00"/><stop offset="0.649" stop-color="#ff2f00"/><stop offset="0.665" stop-color="#ff2f00"/><stop offset="0.680" stop-color="#ff3000"/><stop offset="0.696" stop-color="#ff3100"/><stop offset="0.712" stop-color="#ff3200"/><stop offset="0.728" stop-color="#ff3200"/><stop offset="0.744" stop-color="#ff3000"/><stop offset="0.759" stop-color="#ff2e00"/><stop offset="0.775" stop-color="#ff2b00"/><stop offset="0.791" stop-color="#ff2900"/><stop offset="0.807" stop-color="#ff2700"/><stop offset="0.823" stop-color="#ff2500"/><stop offset="0.839" stop-color="#ff2300"/><stop offset="0.854" stop-color="#ff2100"/><stop offset="0.870" stop-color="#ff1f00"/><stop offset="0.886" stop-color="#ff1e00"/><stop offset="0.902" stop-color="#ff1d00"/><stop offset="0.918" stop-color="#ff1c00"/><stop offset="0.934" stop-color="#ff1b00"/><stop offset="0.949" stop-color="#ff1a00"/><stop offset="0.965" stop-color="#ff1900"/><stop offset="0.981" stop-color="#ff1800"/><stop offset="0.997" stop-color="#ff1700"/><stop offset="1.000" stop-color="#ff1700"/></linearGradient><linearGradient id="g80" gradientUnits="userSpaceOnUse" x1="59.3" x2="312.1" y1="0" y2="0"><stop offset="0.000" stop-color="#ffeb00"/><stop offset="0.016" stop-color="#ffe400"/><stop offset="0.032" stop-color="#ffdd00"/><stop offset="0.047" stop-color="#ffd500"/><stop offset="0.063" stop-color="#ffce00"/><stop offset="0.079" stop-color="#ffc600"/><stop offset="0.095" stop-color="#ffbf00"/><stop offset="0.111" stop-color="#ffb700"/><stop offset="0.127" stop-color="#ffaf00"/><stop offset="0.142" stop-color="#ffa800"/><stop offset="0.158" stop-color="#ffa000"/><stop offset="0.174" stop-color="#ff9b00"/><stop offset="0.190" stop-color="#ff9600"/><stop offset="0.206" stop-color="#ff9100"/><stop offset="0.222" stop-color="#ff8c00"/><stop offset="0.237" stop-color="#ff8700"/><stop offset="0.253" stop-color="#ff8200"/><stop offset="0.269" stop-color="#ff7d00"/><stop offset="0.285" stop-color="#ff7900"/><stop offset="0.301" stop-color="#ff7400"/><stop offset="0.316" stop-color="#ff6d00"/><stop offset="0.332" stop-color="#ff6600"/><stop offset="0.348" stop-color="#ff6000"/><stop offset="0.364" stop-color="#ff5900"/><stop offset="0.380" stop-color="#ff5200"/><stop offset="0.396" stop-color="#ff4b00"/><stop offset="0.411" stop-color="#ff4400"/><stop offset="0.427" stop-color="#ff3d00"/><stop offset="0.443" stop-color="#ff3700"/><stop offset="0.459" stop-color="#ff3500"/><stop offset="0.475" stop-color="#ff3300"/><stop offset="0.491" stop-color="#ff3100"/><stop offset="0.506" stop-color="#ff2f00"/><stop offset="0.522" stop-color="#ff2c00"/><stop offset="0.538" stop-color="#ff2a00"/><stop offset="0.554" stop-color="#ff2800"/><stop offset="0.570" stop-color="#ff2600"/><stop offset="0.585" stop-color="#ff2400"/><stop offset="0.601" stop-color="#ff2500"/><stop offset="0.617" stop-color="#ff2600"/><stop offset="0.633" stop-color="#ff2700"/><stop offset="0.649" stop-color="#ff2800"/><stop offset="0.665" stop-color="#ff2900"/><stop offset="0.680" stop-color="#ff2a00"/><stop offset="0.696" stop-color="#ff2a00"/><stop offset="0.712" stop-color="#ff2b00"/><stop offset="0.728" stop-color="#ff2b00"/><stop offset="0.744" stop-color="#ff2900"/><stop offset="0.759" stop-color="#ff2700"/><stop offset="0.775" stop-color="#ff2500"/><stop offset="0.791" stop-color="#ff2200"/><stop offset="0.807" stop-color="#ff2000"/><stop offset="0.823" stop-color="#ff1e00"/><stop offset="0.839" stop-color="#ff1c00"/><stop offset="0.854" stop-color="#ff1a00"/><stop offset="0.870" stop-color="#ff1800"/><stop offset="0.886" stop-color="#ff1700"/><stop offset="0.902" stop-color="#ff1600"/><stop offset="0.918" stop-color="#ff1500"/><stop offset="0.934" stop-color="#ff1400"/><stop offset="0.949" stop-color="#ff1300"/><stop offset="0.965" stop-color="#ff1200"/><stop offset="0.981" stop-color="#ff1100"/><stop offset="0.997" stop-color="#ff1000"/><stop offset="1.000" stop-color="#ff1000"/></linearGradient><linearGradient id="g82" gradientUnits="userSpaceOnUse" x1="59.3" x2="312.1" y1="0" y2="0"><stop offset="0.000" stop-color="#ffd500"/><stop offset="0.016" stop-color="#ffcf00"/><stop offset="0.032" stop-color="#ffc900"/><stop offset="0.047" stop-color="#ffc300"/><stop offset="0.063" stop-color="#ffbd00"/><stop offset="0.079" stop-color="#ffb700"/><stop offset="0.095" stop-color="#ffb000"/><stop offset="0.111" stop-color="#ffaa00"/><stop offset="0.127" stop-color="#ffa400"/><stop offset="0.142" stop-color="#ff9e00"/><stop offset="0.158" stop-color="#ff9800"/><stop offset="0.174" stop-color="#ff9300"/><stop offset="0.190" stop-color="#ff8e00"/><stop offset="0.206" stop-color="#ff8900"/><stop offset="0.222" stop-color="#ff8500"/><stop offset="0.237" stop-color="#ff8000"/><stop offset="0.253" stop-color="#ff7c00"/><stop offset="0.269" stop-color="#ff7700"/><stop offset="0.285" stop-color="#ff7300"/><stop offset="0.301" stop-color="#ff6e00"/><stop offset="0.316" stop-color="#ff6700"/><stop offset="0.332" stop-color="#ff6000"/><stop offset="0.348" stop-color="#ff5a00"/><stop offset="0.364" stop-color="#ff5300"/><stop offset="0.380" stop-color="#ff4c00"/><stop offset="0.396" stop-color="#ff4500"/><stop offset="0.411" stop-color="#ff3e00"/><stop offset="0.427" stop-color="#ff3700"/><stop offset="0.443" stop-color="#ff3100"/><stop offset="0.459" stop-color="#ff2f00"/><stop offset="0.475" stop-color="#ff2c00"/><stop offset="0.491" stop-color="#ff2a00"/><stop offset="0.506" stop-color="#ff2800"/><stop offset="0.522" stop-color="#ff2600"/><stop offset="0.538" stop-color="#ff2300"/><stop offset="0.554" stop-color="#ff2100"/><stop offset="0.570" stop-color="#ff1f00"/><stop offset="0.585" stop-color="#ff1d00"/><stop offset="0.601" stop-color="#ff1e00"/><stop offset="0.617" stop-color="#ff1f00"/><stop offset="0.633" stop-color="#ff2000"/><stop offset="0.649" stop-color="#ff2100"/><stop offset="0.665" stop-color="#ff2200"/><stop offset="0.680" stop-color="#ff2300"/><stop offset="0.696" stop-color="#ff2400"/><stop offset="0.712" stop-color="#ff2500"/><stop offset="0.728" stop-color="#ff2400"/><stop offset="0.744" stop-color="#ff2200"/><stop offset="0.759" stop-color="#ff2000"/><stop offset="0.775" stop-color="#ff1e00"/><stop offset="0.791" stop-color="#ff1c00"/><stop offset="0.807" stop-color="#ff1900"/><stop offset="0.823" stop-color="#ff1700"/><stop offset="0.839" stop-color="#ff1500"/><stop offset="0.854" stop-color="#ff1300"/><stop offset="0.870" stop-color="#ff1100"/><stop offset="0.886" stop-color="#ff1000"/><stop offset="0.902" stop-color="#ff0f00"/><stop offset="0.918" stop-color="#ff0e00"/><stop offset="0.934" stop-color="#ff0d00"/><stop offset="0.949" stop-color="#ff0c00"/><stop offset="0.965" stop-color="#ff0b00"/><stop offset="0.981" stop-color="#ff0a00"/><stop offset="0.997" stop-color="#ff0900"/><stop offset="1.000" stop-color="#ff0900"/></linearGradient><linearGradient id="g84" gradientUnits="userSpaceOnUse" x1="59.3" x2="312.1" y1="0" y2="0"><stop offset="0.000" stop-color="#ffbd00"/><stop offset="0.016" stop-color="#ffb900"/><stop offset="0.032" stop-color="#ffb500"/><stop offset="0.047" stop-color="#ffb000"/><stop offset="0.063" stop-color="#ffab00"/><stop offset="0.079" stop-color="#ffa700"/><stop offset="0.095" stop-color="#ffa200"/><stop offset="0.111" stop-color="#ff9d00"/><stop offset="0.127" stop-color="#ff9900"/><stop offset="0.142" stop-color="#ff9400"/><stop offset="0.158" stop-color="#ff8f00"/><stop offset="0.174" stop-color="#ff8b00"/><stop offset="0.190" stop-color="#ff8600"/><stop offset="0.206" stop-color="#ff8200"/><stop offset="0.222" stop-color="#ff7d00"/><stop offset="0.237" stop-color="#ff7900"/><stop offset="0.253" stop-color="#ff7500"/><stop offset="0.269" stop-color="#ff7100"/><stop offset="0.285" stop-color="#ff6d00"/><stop offset="0.301" stop-color="#ff6800"/><stop offset="0.316" stop-color="#ff6200"/><stop offset="0.332" stop-color="#ff5b00"/><stop offset="0.348" stop-color="#ff5400"/><stop offset="0.364" stop-color="#ff4d00"/><stop offset="0.380" stop-color="#ff4600"/><stop offset="0.396" stop-color="#ff3f00"/><stop offset="0.411" stop-color="#ff3800"/><stop offset="0.427" stop-color="#ff3100"/><stop offset="0.443" stop-color="#ff2a00"/><stop offset="0.459" stop-color="#ff2800"/><stop offset="0.475" stop-color="#ff2600"/><stop offset="0.491" stop-color="#ff2400"/><stop offset="0.506" stop-color="#ff2100"/><stop offset="0.522" stop-color="#ff1f00"/><stop offset="0.538" stop-color="#ff1d00"/><stop offset="0.554" stop-color="#ff1a00"/><stop offset="0.570" stop-color="#ff1800"/><stop offset="0.585" stop-color="#ff1700"/><stop offset="0.601" stop-color="#ff1700"/><stop offset="0.617" stop-color="#ff1800"/><stop offset="0.633" stop-color="#ff1900"/><stop offset="0.649" stop-color="#ff1a00"/><stop offset="0.665" stop-color="#ff1b00"/><stop offset="0.680" stop-color="#ff1c00"/><stop offset="0.696" stop-color="#ff1d00"/><stop offset="0.712" stop-color="#ff1e00"/><stop offset="0.728" stop-color="#ff1e00"/><stop offset="0.744" stop-color="#ff1b00"/><stop offset="0.759" stop-color="#ff1900"/><stop offset="0.775" stop-color="#ff1700"/><stop offset="0.791" stop-color="#ff1500"/><stop offset="0.807" stop-color="#ff1300"/><stop offset="0.823" stop-color="#ff1000"/><stop offset="0.839" stop-color="#ff0e00"/><stop offset="0.854" stop-color="#ff0c00"/><stop offset="0.870" stop-color="#ff0a00"/><stop offset="0.886" stop-color="#ff0900"/><stop offset="0.902" stop-color="#ff0800"/><stop offset="0.918" stop-color="#ff0700"/><stop offset="0.934" stop-color="#ff0600"/><stop offset="0.949" stop-color="#ff0500"/><stop offset="0.965" stop-color="#ff0400"/><stop offset="0.981" stop-color="#ff0300"/><stop offset="0.997" stop-color="#ff0200"/><stop offset="1.000" stop-color="#ff0200"/></linearGradient><linearGradient id="g86" gradientUnits="userSpaceOnUse" x1="59.3" x2="312.1" y1="0" y2="0"><stop offset="0.000" stop-color="#ffa500"/><stop offset="0.016" stop-color="#ffa200"/><stop offset="0.032" stop-color="#ff9f00"/><stop offset="0.047" stop-color="#ff9c00"/><stop offset="0.063" stop-color="#ff9900"/><stop offset="0.079" stop-color="#ff9600"/><stop offset="0.095" stop-color="#ff9300"/><stop offset="0.111" stop-color="#ff9000"/><stop offset="0.127" stop-color="#ff8d00"/><stop offset="0.142" stop-color="#ff8a00"/><stop offset="0.158" stop-color="#ff8700"/><stop offset="0.174" stop-color="#ff8300"/><stop offset="0.190" stop-color="#ff7e00"/><stop offset="0.206" stop-color="#ff7a00"/><stop offset="0.222" stop-color="#ff7600"/><stop offset="0.237" stop-color="#ff7200"/><stop offset="0.253" stop-color="#ff6e00"/><stop offset="0.269" stop-color="#ff6b00"/><stop offset="0.285" stop-color="#ff6700"/><stop offset="0.301" stop-color="#ff6300"/><stop offset="0.316" stop-color="#ff5c00"/><stop offset="0.332" stop-color="#ff5500"/><stop offset="0.348" stop-color="#ff4e00"/><stop offset="0.364" stop-color="#ff4700"/><stop offset="0.380" stop-color="#ff3f00"/><stop offset="0.396" stop-color="#ff3800"/><stop offset="0.411" stop-color="#ff3100"/><stop offset="0.427" stop-color="#ff2a00"/><stop offset="0.443" stop-color="#ff2400"/><stop offset="0.459" stop-color="#ff2200"/><stop offset="0.475" stop-color="#ff1f00"/><stop offset="0.491" stop-color="#ff1d00"/><stop offset="0.506" stop-color="#ff1b00"/><stop offset="0.522" stop-color="#ff1800"/><stop offset="0.538" stop-color="#ff1600"/><stop offset="0.554" stop-color="#ff1400"/><stop offset="0.570" stop-color="#ff1100"/><stop offset="0.585" stop-color="#ff1000"/><stop offset="0.601" stop-color="#ff1100"/><stop offset="0.617" stop-color="#ff1200"/><stop offset="0.633" stop-color="#ff1300"/><stop offset="0.649" stop-color="#ff1300"/><stop offset="0.665" stop-color="#ff1400"/><stop offset="0.680" stop-color="#ff1500"/><stop offset="0.696" stop-color="#ff1600"/><stop offset="0.712" stop-color="#ff1700"/><stop offset="0.728" stop-color="#ff1700"/><stop offset="0.744" stop-color="#ff1500"/><stop offset="0.759" stop-color="#ff1200"/><stop offset="0.775" stop-color="#ff1000"/><stop offset="0.791" stop-color="#ff0e00"/><stop offset="0.807" stop-color="#ff0c00"/><stop offset="0.823" stop-color="#ff0900"/><stop offset="0.839" stop-color="#ff0700"/><stop offset="0.854" stop-color="#ff0500"/><stop offset="0.870" stop-color="#ff0300"/><stop offset="0.886" stop-color="#ff0200"/><stop offset="0.902" stop-color="#ff0100"/><stop offset="0.918" stop-color="#ff0000"/><stop offset="0.934" stop-color="#fe0000"/><stop offset="0.949" stop-color="#fd0000"/><stop offset="0.965" stop-color="#fc0000"/><stop offset="0.981" stop-color="#fb0000"/><stop offset="0.997" stop-color="#fa0000"/><stop offset="1.000" stop-color="#fa0000"/></linearGradient><linearGradient id="g88" gradientUnits="userSpaceOnUse" x1="59.3" x2="312.1" y1="0" y2="0"><stop offset="0.000" stop-color="#ff8c00"/><stop offset="0.016" stop-color="#ff8b00"/><stop offset="0.032" stop-color="#ff8a00"/><stop offset="0.047" stop-color="#ff8800"/><stop offset="0.063" stop-color="#ff8700"/><stop offset="0.079" stop-color="#ff8500"/><stop offset="0.095" stop-color="#ff8400"/><stop offset="0.111" stop-color="#ff8200"/><stop offset="0.127" stop-color="#ff8100"/><stop offset="0.142" stop-color="#ff7f00"/><stop offset="0.158" stop-color="#ff7e00"/><stop offset="0.174" stop-color="#ff7a00"/><stop offset="0.190" stop-color="#ff7600"/><stop offset="0.206" stop-color="#ff7200"/><stop offset="0.222" stop-color="#ff6d00"/><stop offset="0.237" stop-color="#ff6a00"/><stop offset="0.253" stop-color="#ff6600"/><stop offset="0.269" stop-color="#ff6200"/><stop offset="0.285" stop-color="#ff5e00"/><stop offset="0.301" stop-color="#ff5a00"/><stop offset="0.316" stop-color="#ff5400"/><stop offset="0.332" stop-color="#ff4d00"/><stop offset="0.348" stop-color="#ff4600"/><stop offset="0.364" stop-color="#ff3f00"/><stop offset="0.380" stop-color="#ff3800"/><stop offset="0.396" stop-color="#ff3100"/><stop offset="0.411" stop-color="#ff2a00"/><stop offset="0.427" stop-color="#ff2300"/><stop offset="0.443" stop-color="#ff1d00"/><stop offset="0.459" stop-color="#ff1b00"/><stop offset="0.475" stop-color="#ff1800"/><stop offset="0.491" stop-color="#ff1600"/><stop offset="0.506" stop-color="#ff1400"/><stop offset="0.522" stop-color="#ff1200"/><stop offset="0.538" stop-color="#ff0f00"/><stop offset="0.554" stop-color="#ff0d00"/><stop offset="0.570" stop-color="#ff0b00"/><stop offset="0.585" stop-color="#ff0900"/><stop offset="0.601" stop-color="#ff0a00"/><stop offset="0.617" stop-color="#ff0b00"/><stop offset="0.633" stop-color="#ff0c00"/><stop offset="0.649" stop-color="#ff0d00"/><stop offset="0.665" stop-color="#ff0e00"/><stop offset="0.680" stop-color="#ff0f00"/><stop offset="0.696" stop-color="#ff1000"/><stop offset="0.712" stop-color="#ff1100"/><stop offset="0.728" stop-color="#ff1000"/><stop offset="0.744" stop-color="#ff0e00"/><stop offset="0.759" stop-color="#ff0c00"/><stop offset="0.775" stop-color="#ff0a00"/><stop offset="0.791" stop-color="#ff0700"/><stop offset="0.807" stop-color="#ff0500"/><stop offset="0.823" stop-color="#ff0300"/><stop offset="0.839" stop-color="#ff0100"/><stop offset="0.854" stop-color="#fe0000"/><stop offset="0.870" stop-color="#fc0000"/><stop offset="0.886" stop-color="#fb0000"/><stop offset="0.902" stop-color="#fa0000"/><stop offset="0.918" stop-color="#f90000"/><stop offset="0.934" stop-color="#f80000"/><stop offset="0.949" stop-color="#f70000"/><stop offset="0.965" stop-color="#f60000"/><stop offset="0.981" stop-color="#f50000"/><stop offset="0.997" stop-color="#f40000"/><stop offset="1.000" stop-color="#f40000"/></linearGradient><linearGradient id="g90" gradientUnits="userSpaceOnUse" x1="59.3" x2="312.1" y1="0" y2="0"><stop offset="0.000" stop-color="#ff7400"/><stop offset="0.016" stop-color="#ff7400"/><stop offset="0.032" stop-color="#ff7400"/><stop offset="0.047" stop-color="#ff7400"/><stop offset="0.063" stop-color="#ff7400"/><stop offset="0.079" stop-color="#ff7400"/><stop offset="0.095" stop-color="#ff7400"/><stop offset="0.111" stop-color="#ff7400"/><stop offset="0.127" stop-color="#ff7400"/><stop offset="0.142" stop-color="#ff7400"/><stop offset="0.158" stop-color="#ff7400"/><stop offset="0.174" stop-color="#ff7000"/><stop offset="0.190" stop-color="#ff6c00"/><stop offset="0.206" stop-color="#ff6800"/><stop offset="0.222" stop-color="#ff6400"/><stop offset="0.237" stop-color="#ff6000"/><stop offset="0.253" stop-color="#ff5c00"/><stop offset="0.269" stop-color="#ff5800"/><stop offset="0.285" stop-color="#ff5400"/><stop offset="0.301" stop-color="#ff5000"/><stop offset="0.316" stop-color="#ff4a00"/><stop offset="0.332" stop-color="#ff4300"/><stop offset="0.348" stop-color="#ff3d00"/><stop offset="0.364" stop-color="#ff3600"/><stop offset="0.380" stop-color="#ff2f00"/><stop offset="0.396" stop-color="#ff2900"/><stop offset="0.411" stop-color="#ff2200"/><stop offset="0.427" stop-color="#ff1c00"/><stop offset="0.443" stop-color="#ff1600"/><stop offset="0.459" stop-color="#ff1400"/><stop offset="0.475" stop-color="#ff1100"/><stop offset="0.491" stop-color="#ff0f00"/><stop offset="0.506" stop-color="#ff0d00"/><stop offset="0.522" stop-color="#ff0b00"/><stop offset="0.538" stop-color="#ff0900"/><stop offset="0.554" stop-color="#ff0700"/><stop offset="0.570" stop-color="#ff0400"/><stop offset="0.585" stop-color="#ff0300"/><stop offset="0.601" stop-color="#ff0400"/><stop offset="0.617" stop-color="#ff0500"/><stop offset="0.633" stop-color="#ff0600"/><stop offset="0.649" stop-color="#ff0700"/><stop offset="0.665" stop-color="#ff0700"/><stop offset="0.680" stop-color="#ff0800"/><stop offset="0.696" stop-color="#ff0900"/><stop offset="0.712" stop-color="#ff0a00"/><stop offset="0.728" stop-color="#ff0a00"/><stop offset="0.744" stop-color="#ff0800"/><stop offset="0.759" stop-color="#ff0500"/><stop offset="0.775" stop-color="#ff0300"/><stop offset="0.791" stop-color="#ff0100"/><stop offset="0.807" stop-color="#fe0000"/><stop offset="0.823" stop-color="#fc0000"/><stop offset="0.839" stop-color="#fa0000"/><stop offset="0.854" stop-color="#f80000"/><stop offset="0.870" stop-color="#f60000"/><stop offset="0.886" stop-color="#f50000"/><stop offset="0.902" stop-color="#f40000"/><stop offset="0.918" stop-color="#f30000"/><stop offset="0.934" stop-color="#f20000"/><stop offset="0.949" stop-color="#f10000"/><stop offset="0.965" stop-color="#f00000"/><stop offset="0.981" stop-color="#f00000"/><stop offset="0.997" stop-color="#ef0000"/><stop offset="1.000" stop-color="#ef0000"/></linearGradient><linearGradient id="g92" gradientUnits="userSpaceOnUse" x1="59.3" x2="312.1" y1="0" y2="0"><stop offset="0.000" stop-color="#ff5a00"/><stop offset="0.016" stop-color="#ff5b00"/><stop offset="0.032" stop-color="#ff5d00"/><stop offset="0.047" stop-color="#ff5f00"/><stop offset="0.063" stop-color="#ff6000"/><stop offset="0.079" stop-color="#ff6200"/><stop offset="0.095" stop-color="#ff6400"/><stop offset="0.111" stop-color="#ff6500"/><stop offset="0.127" stop-color="#ff6700"/><stop offset="0.142" stop-color="#ff6900"/><stop offset="0.158" stop-color="#ff6a00"/><stop offset="0.174" stop-color="#ff6600"/><stop offset="0.190" stop-color="#ff6200"/><stop offset="0.206" stop-color="#ff5e00"/><stop offset="0.222" stop-color="#ff5a00"/><stop offset="0.237" stop-color="#ff5600"/><stop offset="0.253" stop-color="#ff5200"/><stop offset="0.269" stop-color="#ff4e00"/><stop offset="0.285" stop-color="#ff4a00"/><stop offset="0.301" stop-color="#ff4600"/><stop offset="0.316" stop-color="#ff4000"/><stop offset="0.332" stop-color="#ff3a00"/><stop offset="0.348" stop-color="#ff3300"/><stop offset="0.364" stop-color="#ff2d00"/><stop offset="0.380" stop-color="#ff2700"/><stop offset="0.396" stop-color="#ff2100"/><stop offset="0.411" stop-color="#ff1a00"/><stop offset="0.427" stop-color="#ff1400"/><stop offset="0.443" stop-color="#ff0e00"/><stop offset="0.459" stop-color="#ff0c00"/><stop offset="0.475" stop-color="#ff0a00"/><stop offset="0.491" stop-color="#ff0800"/><stop offset="0.506" stop-color="#ff0600"/><stop offset="0.522" stop-color="#ff0400"/><stop offset="0.538" stop-color="#ff0200"/><stop offset="0.554" stop-color="#ff0000"/><stop offset="0.570" stop-color="#fd0000"/><stop offset="0.585" stop-color="#fc0000"/><stop offset="0.601" stop-color="#fd0000"/><stop offset="0.617" stop-color="#fd0000"/><stop offset="0.633" stop-color="#fe0000"/><stop offset="0.649" stop-color="#ff0000"/><stop offset="0.665" stop-color="#ff0100"/><stop offset="0.680" stop-color="#ff0200"/><stop offset="0.696" stop-color="#ff0300"/><stop offset="0.712" stop-color="#ff0300"/><stop offset="0.728" stop-color="#ff0300"/><stop offset="0.744" stop-color="#ff0100"/><stop offset="0.759" stop-color="#fe0000"/><stop offset="0.775" stop-color="#fc0000"/><stop offset="0.791" stop-color="#fa0000"/><stop offset="0.807" stop-color="#f80000"/><stop offset="0.823" stop-color="#f60000"/><stop offset="0.839" stop-color="#f40000"/><stop offset="0.854" stop-color="#f20000"/><stop offset="0.870" stop-color="#f00000"/><stop offset="0.886" stop-color="#f00000"/><stop offset="0.902" stop-color="#ef0000"/><stop offset="0.918" stop-color="#ee0000"/><stop offset="0.934" stop-color="#ed0000"/><stop offset="0.949" stop-color="#ec0000"/><stop offset="0.965" stop-color="#eb0000"/><stop offset="0.981" stop-color="#ea0000"/><stop offset="0.997" stop-color="#e90000"/><stop offset="1.000" stop-color="#e90000"/></linearGradient><linearGradient id="g94" gradientUnits="userSpaceOnUse" x1="59.3" x2="312.1" y1="0" y2="0"><stop offset="0.000" stop-color="#ff4000"/><stop offset="0.016" stop-color="#ff4300"/><stop offset="0.032" stop-color="#ff4600"/><stop offset="0.047" stop-color="#ff4900"/><stop offset="0.063" stop-color="#ff4d00"/><stop offset="0.079" stop-color="#ff5000"/><stop offset="0.095" stop-color="#ff5300"/><stop offset="0.111" stop-color="#ff5700"/><stop offset="0.127" stop-color="#ff5a00"/><stop offset="0.142" stop-color="#ff5d00"/><stop offset="0.158" stop-color="#ff6100"/><stop offset="0.174" stop-color="#ff5d00"/><stop offset="0.190" stop-color="#ff5900"/><stop offset="0.206" stop-color="#ff5400"/><stop offset="0.222" stop-color="#ff5000"/><stop offset="0.237" stop-color="#ff4c00"/><stop offset="0.253" stop-color="#ff4800"/><stop offset="0.269" stop-color="#ff4400"/><stop offset="0.285" stop-color="#ff4000"/><stop offset="0.301" stop-color="#ff3c00"/><stop offset="0.316" stop-color="#ff3600"/><stop offset="0.332" stop-color="#ff3000"/><stop offset="0.348" stop-color="#ff2a00"/><stop offset="0.364" stop-color="#ff2400"/><stop offset="0.380" stop-color="#ff1e00"/><stop offset="0.396" stop-color="#ff1800"/><stop offset="0.411" stop-color="#ff1200"/><stop offset="0.427" stop-color="#ff0d00"/><stop offset="0.443" stop-color="#ff0700"/><stop offset="0.459" stop-color="#ff0500"/><stop offset="0.475" stop-color="#ff0300"/><stop offset="0.491" stop-color="#ff0100"/><stop offset="0.506" stop-color="#ff0000"/><stop offset="0.522" stop-color="#fd0000"/><stop offset="0.538" stop-color="#fb0000"/><stop offset="0.554" stop-color="#f90000"/><stop offset="0.570" stop-color="#f70000"/><stop offset="0.585" stop-color="#f50000"/><stop offset="0.601" stop-color="#f60000"/><stop offset="0.617" stop-color="#f70000"/><stop offset="0.633" stop-color="#f80000"/><stop offset="0.649" stop-color="#f90000"/><stop offset="0.665" stop-color="#f90000"/><stop offset="0.680" stop-color="#fa0000"/><stop offset="0.696" stop-color="#fb0000"/><stop offset="0.712" stop-color="#fc0000"/><stop offset="0.728" stop-color="#fb0000"/><stop offset="0.744" stop-color="#fa0000"/><stop offset="0.759" stop-color="#f80000"/><stop offset="0.775" stop-color="#f60000"/><stop offset="0.791" stop-color="#f40000"/><stop offset="0.807" stop-color="#f20000"/><stop offset="0.823" stop-color="#f00000"/><stop offset="0.839" stop-color="#ee0000"/><stop offset="0.854" stop-color="#ec0000"/><stop offset="0.870" stop-color="#eb0000"/><stop offset="0.886" stop-color="#ea0000"/><stop offset="0.902" stop-color="#e90000"/><stop offset="0.918" stop-color="#e80000"/><stop offset="0.934" stop-color="#e70000"/><stop offset="0.949" stop-color="#e70000"/><stop offset="0.965" stop-color="#e60000"/><stop offset="0.981" stop-color="#e50000"/><stop offset="0.997" stop-color="#e40000"/><stop offset="1.000" stop-color="#e40000"/></linearGradient><linearGradient id="g96" gradientUnits="userSpaceOnUse" x1="59.3" x2="312.1" y1="0" y2="0"><stop offset="0.000" stop-color="#ff3000"/><stop offset="0.016" stop-color="#ff3400"/><stop offset="0.032" stop-color="#ff3800"/><stop offset="0.047" stop-color="#ff3d00"/><stop offset="0.063" stop-color="#ff4100"/><stop offset="0.079" stop-color="#ff4500"/><stop offset="0.095" stop-color="#ff4a00"/><stop offset="0.111" stop-color="#ff4e00"/><stop offset="0.127" stop-color="#ff5300"/><stop offset="0.142" stop-color="#ff5700"/><stop offset="0.158" stop-color="#ff5c00"/><stop offset="0.174" stop-color="#ff5800"/><stop offset="0.190" stop-color="#ff5400"/><stop offset="0.206" stop-color="#ff5000"/><stop offset="0.222" stop-color="#ff4b00"/><stop offset="0.237" stop-color="#ff4800"/><stop offset="0.253" stop-color="#ff4400"/><stop offset="0.269" stop-color="#ff4000"/><stop offset="0.285" stop-color="#ff3c00"/><stop offset="0.301" stop-color="#ff3800"/><stop offset="0.316" stop-color="#ff3200"/><stop offset="0.332" stop-color="#ff2c00"/><stop offset="0.348" stop-color="#ff2600"/><stop offset="0.364" stop-color="#ff2000"/><stop offset="0.380" stop-color="#ff1a00"/><stop offset="0.396" stop-color="#ff1400"/><stop offset="0.411" stop-color="#ff0e00"/><stop offset="0.427" stop-color="#ff0800"/><stop offset="0.443" stop-color="#ff0300"/><stop offset="0.459" stop-color="#ff0100"/><stop offset="0.475" stop-color="#fe0000"/><stop offset="0.491" stop-color="#fc0000"/><stop offset="0.506" stop-color="#fa0000"/><stop offset="0.522" stop-color="#f80000"/><stop offset="0.538" stop-color="#f60000"/><stop offset="0.554" stop-color="#f40000"/><stop offset="0.570" stop-color="#f20000"/><stop offset="0.585" stop-color="#f10000"/><stop offset="0.601" stop-color="#f10000"/><stop offset="0.617" stop-color="#f20000"/><stop offset="0.633" stop-color="#f30000"/><stop offset="0.649" stop-color="#f40000"/><stop offset="0.665" stop-color="#f50000"/><stop offset="0.680" stop-color="#f50000"/><stop offset="0.696" stop-color="#f60000"/><stop offset="0.712" stop-color="#f70000"/><stop offset="0.728" stop-color="#f70000"/><stop offset="0.744" stop-color="#f50000"/><stop offset="0.759" stop-color="#f30000"/><stop offset="0.775" stop-color="#f10000"/><stop offset="0.791" stop-color="#ef0000"/><stop offset="0.807" stop-color="#ed0000"/><stop offset="0.823" stop-color="#eb0000"/><stop offset="0.839" stop-color="#e90000"/><stop offset="0.854" stop-color="#e70000"/><stop offset="0.870" stop-color="#e60000"/><stop offset="0.886" stop-color="#e50000"/><stop offset="0.902" stop-color="#e40000"/><stop offset="0.918" stop-color="#e30000"/><stop offset="0.934" stop-color="#e20000"/><stop offset="0.949" stop-color="#e10000"/><stop offset="0.965" stop-color="#e10000"/><stop offset="0.981" stop-color="#e00000"/><stop offset="0.997" stop-color="#df0000"/><stop offset="1.000" stop-color="#df0000"/></linearGradient><linearGradient id="g98" gradientUnits="userSpaceOnUse" x1="59.3" x2="312.1" y1="0" y2="0"><stop offset="0.000" stop-color="#ff2500"/><stop offset="0.016" stop-color="#ff2a00"/><stop offset="0.032" stop-color="#ff2f00"/><stop offset="0.047" stop-color="#ff3400"/><stop offset="0.063" stop-color="#ff3900"/><stop offset="0.079" stop-color="#ff3e00"/><stop offset="0.095" stop-color="#ff4300"/><stop offset="0.111" stop-color="#ff4800"/><stop offset="0.127" stop-color="#ff4d00"/><stop offset="0.142" stop-color="#ff5200"/><stop offset="0.158" stop-color="#ff5700"/><stop offset="0.174" stop-color="#ff5300"/><stop offset="0.190" stop-color="#ff4f00"/><stop offset="0.206" stop-color="#ff4b00"/><stop offset="0.222" stop-color="#ff4700"/><stop offset="0.237" stop-color="#ff4300"/><stop offset="0.253" stop-color="#ff4000"/><stop offset="0.269" stop-color="#ff3c00"/><stop offset="0.285" stop-color="#ff3800"/><stop offset="0.301" stop-color="#ff3500"/><stop offset="0.316" stop-color="#ff2f00"/><stop offset="0.332" stop-color="#ff2900"/><stop offset="0.348" stop-color="#ff2300"/><stop offset="0.364" stop-color="#ff1c00"/><stop offset="0.380" stop-color="#ff1600"/><stop offset="0.396" stop-color="#ff1000"/><stop offset="0.411" stop-color="#ff0a00"/><stop offset="0.427" stop-color="#ff0400"/><stop offset="0.443" stop-color="#fe0000"/><stop offset="0.459" stop-color="#fc0000"/><stop offset="0.475" stop-color="#fa0000"/><stop offset="0.491" stop-color="#f80000"/><stop offset="0.506" stop-color="#f60000"/><stop offset="0.522" stop-color="#f40000"/><stop offset="0.538" stop-color="#f20000"/><stop offset="0.554" stop-color="#f00000"/><stop offset="0.570" stop-color="#ee0000"/><stop offset="0.585" stop-color="#ec0000"/><stop offset="0.601" stop-color="#ed0000"/><stop offset="0.617" stop-color="#ee0000"/><stop offset="0.633" stop-color="#ef0000"/><stop offset="0.649" stop-color="#f00000"/><stop offset="0.665" stop-color="#f00000"/><stop offset="0.680" stop-color="#f10000"/><stop offset="0.696" stop-color="#f20000"/><stop offset="0.712" stop-color="#f30000"/><stop offset="0.728" stop-color="#f30000"/><stop offset="0.744" stop-color="#f10000"/><stop offset="0.759" stop-color="#ef0000"/><stop offset="0.775" stop-color="#ed0000"/><stop offset="0.791" stop-color="#eb0000"/><stop offset="0.807" stop-color="#e90000"/><stop offset="0.823" stop-color="#e70000"/><stop offset="0.839" stop-color="#e50000"/><stop offset="0.854" stop-color="#e30000"/><stop offset="0.870" stop-color="#e10000"/><stop offset="0.886" stop-color="#e10000"/><stop offset="0.902" stop-color="#e00000"/><stop offset="0.918" stop-color="#df0000"/><stop offset="0.934" stop-color="#de0000"/><stop offset="0.949" stop-color="#dd0000"/><stop offset="0.965" stop-color="#dc0000"/><stop offset="0.981" stop-color="#db0000"/><stop offset="0.997" stop-color="#db0000"/><stop offset="1.000" stop-color="#da0000"/></linearGradient><linearGradient id="g100" gradientUnits="userSpaceOnUse" x1="59.3" x2="312.1" y1="0" y2="0"><stop offset="0.000" stop-color="#ff1f00"/><stop offset="0.016" stop-color="#ff2300"/><stop offset="0.032" stop-color="#ff2900"/><stop offset="0.047" stop-color="#ff2e00"/><stop offset="0.063" stop-color="#ff3300"/><stop offset="0.079" stop-color="#ff3800"/><stop offset="0.095" stop-color="#ff3d00"/><stop offset="0.111" stop-color="#ff4200"/><stop offset="0.127" stop-color="#ff4700"/><stop offset="0.142" stop-color="#ff4d00"/><stop offset="0.158" stop-color="#ff5200"/><stop offset="0.174" stop-color="#ff4e00"/><stop offset="0.190" stop-color="#ff4b00"/><stop offset="0.206" stop-color="#ff4700"/><stop offset="0.222" stop-color="#ff4300"/><stop offset="0.237" stop-color="#ff3f00"/><stop offset="0.253" stop-color="#ff3c00"/><stop offset="0.269" stop-color="#ff3800"/><stop offset="0.285" stop-color="#ff3500"/><stop offset="0.301" stop-color="#ff3100"/><stop offset="0.316" stop-color="#ff2b00"/><stop offset="0.332" stop-color="#ff2500"/><stop offset="0.348" stop-color="#ff1f00"/><stop offset="0.364" stop-color="#ff1900"/><stop offset="0.380" stop-color="#ff1300"/><stop offset="0.396" stop-color="#ff0d00"/><stop offset="0.411" stop-color="#ff0700"/><stop offset="0.427" stop-color="#ff0100"/><stop offset="0.443" stop-color="#fb0000"/><stop offset="0.459" stop-color="#f90000"/><stop offset="0.475" stop-color="#f70000"/><stop offset="0.491" stop-color="#f50000"/><stop offset="0.506" stop-color="#f30000"/><stop offset="0.522" stop-color="#f10000"/><stop offset="0.538" stop-color="#ef0000"/><stop offset="0.554" stop-color="#ed0000"/><stop offset="0.570" stop-color="#eb0000"/><stop offset="0.585" stop-color="#ea0000"/><stop offset="0.601" stop-color="#eb0000"/><stop offset="0.617" stop-color="#ec0000"/><stop offset="0.633" stop-color="#ec0000"/><stop offset="0.649" stop-color="#ed0000"/><stop offset="0.665" stop-color="#ee0000"/><stop offset="0.680" stop-color="#ef0000"/><stop offset="0.696" stop-color="#f00000"/><stop offset="0.712" stop-color="#f00000"/><stop offset="0.728" stop-color="#f00000"/><stop offset="0.744" stop-color="#ee0000"/><stop offset="0.759" stop-color="#ec0000"/><stop offset="0.775" stop-color="#ea0000"/><stop offset="0.791" stop-color="#e80000"/><stop offset="0.807" stop-color="#e70000"/><stop offset="0.823" stop-color="#e50000"/><stop offset="0.839" stop-color="#e30000"/><stop offset="0.854" stop-color="#e10000"/><stop offset="0.870" stop-color="#df0000"/><stop offset="0.886" stop-color="#de0000"/><stop offset="0.902" stop-color="#de0000"/><stop offset="0.918" stop-color="#dd0000"/><stop offset="0.934" stop-color="#dc0000"/><stop offset="0.949" stop-color="#db0000"/><stop offset="0.965" stop-color="#da0000"/><stop offset="0.981" stop-color="#da0000"/><stop offset="0.997" stop-color="#d90000"/><stop offset="1.000" stop-color="#d90000"/></linearGradient><linearGradient id="g102" gradientUnits="userSpaceOnUse" x1="59.3" x2="312.1" y1="0" y2="0"><stop offset="0.000" stop-color="#ff2400"/><stop offset="0.016" stop-color="#ff2800"/><stop offset="0.032" stop-color="#ff2c00"/><stop offset="0.047" stop-color="#ff3000"/><stop offset="0.063" stop-color="#ff3400"/><stop offset="0.079" stop-color="#ff3800"/><stop offset="0.095" stop-color="#ff3c00"/><stop offset="0.111" stop-color="#ff4000"/><stop offset="0.127" stop-color="#ff4500"/><stop offset="0.142" stop-color="#ff4900"/><stop offset="0.158" stop-color="#ff4d00"/><stop offset="0.174" stop-color="#ff4a00"/><stop offset="0.190" stop-color="#ff4600"/><stop offset="0.206" stop-color="#ff4200"/><stop offset="0.222" stop-color="#ff3f00"/><stop offset="0.237" stop-color="#ff3b00"/><stop offset="0.253" stop-color="#ff3800"/><stop offset="0.269" stop-color="#ff3500"/><stop offset="0.285" stop-color="#ff3100"/><stop offset="0.301" stop-color="#ff2e00"/><stop offset="0.316" stop-color="#ff2800"/><stop offset="0.332" stop-color="#ff2200"/><stop offset="0.348" stop-color="#ff1c00"/><stop offset="0.364" stop-color="#ff1600"/><stop offset="0.380" stop-color="#ff1000"/><stop offset="0.396" stop-color="#ff0a00"/><stop offset="0.411" stop-color="#ff0400"/><stop offset="0.427" stop-color="#fe0000"/><stop offset="0.443" stop-color="#f80000"/><stop offset="0.459" stop-color="#f60000"/><stop offset="0.475" stop-color="#f40000"/><stop offset="0.491" stop-color="#f20000"/><stop offset="0.506" stop-color="#f10000"/><stop offset="0.522" stop-color="#ef0000"/><stop offset="0.538" stop-color="#ed0000"/><stop offset="0.554" stop-color="#eb0000"/><stop offset="0.570" stop-color="#e90000"/><stop offset="0.585" stop-color="#e70000"/><stop offset="0.601" stop-color="#e80000"/><stop offset="0.617" stop-color="#e90000"/><stop offset="0.633" stop-color="#ea0000"/><stop offset="0.649" stop-color="#eb0000"/><stop offset="0.665" stop-color="#eb0000"/><stop offset="0.680" stop-color="#ec0000"/><stop offset="0.696" stop-color="#ed0000"/><stop offset="0.712" stop-color="#ee0000"/><stop offset="0.728" stop-color="#ed0000"/><stop offset="0.744" stop-color="#ec0000"/><stop offset="0.759" stop-color="#ea0000"/><stop offset="0.775" stop-color="#e80000"/><stop offset="0.791" stop-color="#e60000"/><stop offset="0.807" stop-color="#e40000"/><stop offset="0.823" stop-color="#e20000"/><stop offset="0.839" stop-color="#e00000"/><stop offset="0.854" stop-color="#de0000"/><stop offset="0.870" stop-color="#dd0000"/><stop offset="0.886" stop-color="#dc0000"/><stop offset="0.902" stop-color="#db0000"/><stop offset="0.918" stop-color="#db0000"/><stop offset="0.934" stop-color="#da0000"/><stop offset="0.949" stop-color="#d90000"/><stop offset="0.965" stop-color="#d90000"/><stop offset="0.981" stop-color="#d80000"/><stop offset="0.997" stop-color="#d70000"/><stop offset="1.000" stop-color="#d70000"/></linearGradient><linearGradient id="g104" gradientUnits="userSpaceOnUse" x1="59.3" x2="312.1" y1="0" y2="0"><stop offset="0.000" stop-color="#ff2900"/><stop offset="0.016" stop-color="#ff2c00"/><stop offset="0.032" stop-color="#ff2f00"/><stop offset="0.047" stop-color="#ff3300"/><stop offset="0.063" stop-color="#ff3600"/><stop offset="0.079" stop-color="#ff3900"/><stop offset="0.095" stop-color="#ff3c00"/><stop offset="0.111" stop-color="#ff4000"/><stop offset="0.127" stop-color="#ff4300"/><stop offset="0.142" stop-color="#ff4600"/><stop offset="0.158" stop-color="#ff4900"/><stop offset="0.174" stop-color="#ff4700"/><stop offset="0.190" stop-color="#ff4300"/><stop offset="0.206" stop-color="#ff4000"/><stop offset="0.222" stop-color="#ff3d00"/><stop offset="0.237" stop-color="#ff3a00"/><stop offset="0.253" stop-color="#ff3700"/><stop offset="0.269" stop-color="#ff3400"/><stop offset="0.285" stop-color="#ff3100"/><stop offset="0.301" stop-color="#ff2e00"/><stop offset="0.316" stop-color="#ff2800"/><stop offset="0.332" stop-color="#ff2200"/><stop offset="0.348" stop-color="#ff1c00"/><stop offset="0.364" stop-color="#ff1600"/><stop offset="0.380" stop-color="#ff1000"/><stop offset="0.396" stop-color="#ff0a00"/><stop offset="0.411" stop-color="#ff0400"/><stop offset="0.427" stop-color="#fc0000"/><stop offset="0.443" stop-color="#f70000"/><stop offset="0.459" stop-color="#f50000"/><stop offset="0.475" stop-color="#f30000"/><stop offset="0.491" stop-color="#f10000"/><stop offset="0.506" stop-color="#ef0000"/><stop offset="0.522" stop-color="#ed0000"/><stop offset="0.538" stop-color="#eb0000"/><stop offset="0.554" stop-color="#e90000"/><stop offset="0.570" stop-color="#e70000"/><stop offset="0.585" stop-color="#e60000"/><stop offset="0.601" stop-color="#e70000"/><stop offset="0.617" stop-color="#e70000"/><stop offset="0.633" stop-color="#e80000"/><stop offset="0.649" stop-color="#e90000"/><stop offset="0.665" stop-color="#ea0000"/><stop offset="0.680" stop-color="#eb0000"/><stop offset="0.696" stop-color="#eb0000"/><stop offset="0.712" stop-color="#ec0000"/><stop offset="0.728" stop-color="#ec0000"/><stop offset="0.744" stop-color="#ea0000"/><stop offset="0.759" stop-color="#e80000"/><stop offset="0.775" stop-color="#e60000"/><stop offset="0.791" stop-color="#e40000"/><stop offset="0.807" stop-color="#e20000"/><stop offset="0.823" stop-color="#e00000"/><stop offset="0.839" stop-color="#de0000"/><stop offset="0.854" stop-color="#dc0000"/><stop offset="0.870" stop-color="#db0000"/><stop offset="0.886" stop-color="#da0000"/><stop offset="0.902" stop-color="#da0000"/><stop offset="0.918" stop-color="#d90000"/><stop offset="0.934" stop-color="#d80000"/><stop offset="0.949" stop-color="#d80000"/><stop offset="0.965" stop-color="#d70000"/><stop offset="0.981" stop-color="#d60000"/><stop offset="0.997" stop-color="#d60000"/><stop offset="1.000" stop-color="#d60000"/></linearGradient><linearGradient id="g106" gradientUnits="userSpaceOnUse" x1="59.3" x2="312.1" y1="0" y2="0"><stop offset="0.000" stop-color="#ff2e00"/><stop offset="0.016" stop-color="#ff3000"/><stop offset="0.032" stop-color="#ff3200"/><stop offset="0.047" stop-color="#ff3500"/><stop offset="0.063" stop-color="#ff3700"/><stop offset="0.079" stop-color="#ff3a00"/><stop offset="0.095" stop-color="#ff3c00"/><stop offset="0.111" stop-color="#ff3f00"/><stop offset="0.127" stop-color="#ff4100"/><stop offset="0.142" stop-color="#ff4400"/><stop offset="0.158" stop-color="#ff4600"/><stop offset="0.174" stop-color="#ff4400"/><stop offset="0.190" stop-color="#ff4200"/><stop offset="0.206" stop-color="#ff3f00"/><stop offset="0.222" stop-color="#ff3c00"/><stop offset="0.237" stop-color="#ff3a00"/><stop offset="0.253" stop-color="#ff3700"/><stop offset="0.269" stop-color="#ff3500"/><stop offset="0.285" stop-color="#ff3200"/><stop offset="0.301" stop-color="#ff3000"/><stop offset="0.316" stop-color="#ff2a00"/><stop offset="0.332" stop-color="#ff2300"/><stop offset="0.348" stop-color="#ff1d00"/><stop offset="0.364" stop-color="#ff1700"/><stop offset="0.380" stop-color="#ff1000"/><stop offset="0.396" stop-color="#ff0a00"/><stop offset="0.411" stop-color="#ff0300"/><stop offset="0.427" stop-color="#fc0000"/><stop offset="0.443" stop-color="#f60000"/><stop offset="0.459" stop-color="#f40000"/><stop offset="0.475" stop-color="#f20000"/><stop offset="0.491" stop-color="#f00000"/><stop offset="0.506" stop-color="#ee0000"/><stop offset="0.522" stop-color="#ec0000"/><stop offset="0.538" stop-color="#ea0000"/><stop offset="0.554" stop-color="#e80000"/><stop offset="0.570" stop-color="#e60000"/><stop offset="0.585" stop-color="#e40000"/><stop offset="0.601" stop-color="#e50000"/><stop offset="0.617" stop-color="#e60000"/><stop offset="0.633" stop-color="#e70000"/><stop offset="0.649" stop-color="#e80000"/><stop offset="0.665" stop-color="#e90000"/><stop offset="0.680" stop-color="#e90000"/><stop offset="0.696" stop-color="#ea0000"/><stop offset="0.712" stop-color="#eb0000"/><stop offset="0.728" stop-color="#eb0000"/><stop offset="0.744" stop-color="#e90000"/><stop offset="0.759" stop-color="#e70000"/><stop offset="0.775" stop-color="#e50000"/><stop offset="0.791" stop-color="#e30000"/><stop offset="0.807" stop-color="#e10000"/><stop offset="0.823" stop-color="#df0000"/><stop offset="0.839" stop-color="#dd0000"/><stop offset="0.854" stop-color="#db0000"/><stop offset="0.870" stop-color="#d90000"/><stop offset="0.886" stop-color="#d90000"/><stop offset="0.902" stop-color="#d80000"/><stop offset="0.918" stop-color="#d70000"/><stop offset="0.934" stop-color="#d70000"/><stop offset="0.949" stop-color="#d60000"/><stop offset="0.965" stop-color="#d60000"/><stop offset="0.981" stop-color="#d50000"/><stop offset="0.997" stop-color="#d40000"/><stop offset="1.000" stop-color="#d40000"/></linearGradient><linearGradient id="g108" gradientUnits="userSpaceOnUse" x1="59.3" x2="312.1" y1="0" y2="0"><stop offset="0.000" stop-color="#ff3200"/><stop offset="0.016" stop-color="#ff3400"/><stop offset="0.032" stop-color="#ff3500"/><stop offset="0.047" stop-color="#ff3700"/><stop offset="0.063" stop-color="#ff3900"/><stop offset="0.079" stop-color="#ff3b00"/><stop offset="0.095" stop-color="#ff3d00"/><stop offset="0.111" stop-color="#ff3e00"/><stop offset="0.127" stop-color="#ff4000"/><stop offset="0.142" stop-color="#ff4200"/><stop offset="0.158" stop-color="#ff4400"/><stop offset="0.174" stop-color="#ff4200"/><stop offset="0.190" stop-color="#ff4000"/><stop offset="0.206" stop-color="#ff3e00"/><stop offset="0.222" stop-color="#ff3c00"/><stop offset="0.237" stop-color="#ff3a00"/><stop offset="0.253" stop-color="#ff3800"/><stop offset="0.269" stop-color="#ff3600"/><stop offset="0.285" stop-color="#ff3400"/><stop offset="0.301" stop-color="#ff3200"/><stop offset="0.316" stop-color="#ff2c00"/><stop offset="0.332" stop-color="#ff2500"/><stop offset="0.348" stop-color="#ff1e00"/><stop offset="0.364" stop-color="#ff1700"/><stop offset="0.380" stop-color="#ff1100"/><stop offset="0.396" stop-color="#ff0a00"/><stop offset="0.411" stop-color="#ff0300"/><stop offset="0.427" stop-color="#fc0000"/><stop offset="0.443" stop-color="#f60000"/><stop offset="0.459" stop-color="#f40000"/><stop offset="0.475" stop-color="#f10000"/><stop offset="0.491" stop-color="#ef0000"/><stop offset="0.506" stop-color="#ed0000"/><stop offset="0.522" stop-color="#eb0000"/><stop offset="0.538" stop-color="#e90000"/><stop offset="0.554" stop-color="#e70000"/><stop offset="0.570" stop-color="#e40000"/><stop offset="0.585" stop-color="#e30000"/><stop offset="0.601" stop-color="#e40000"/><stop offset="0.617" stop-color="#e50000"/><stop offset="0.633" stop-color="#e60000"/><stop offset="0.649" stop-color="#e60000"/><stop offset="0.665" stop-color="#e70000"/><stop offset="0.680" stop-color="#e80000"/><stop offset="0.696" stop-color="#e90000"/><stop offset="0.712" stop-color="#ea0000"/><stop offset="0.728" stop-color="#ea0000"/><stop offset="0.744" stop-color="#e80000"/><stop offset="0.759" stop-color="#e60000"/><stop offset="0.775" stop-color="#e40000"/><stop offset="0.791" stop-color="#e20000"/><stop offset="0.807" stop-color="#e00000"/><stop offset="0.823" stop-color="#de0000"/><stop offset="0.839" stop-color="#dc0000"/><stop offset="0.854" stop-color="#da0000"/><stop offset="0.870" stop-color="#d80000"/><stop offset="0.886" stop-color="#d70000"/><stop offset="0.902" stop-color="#d70000"/><stop offset="0.918" stop-color="#d60000"/><stop offset="0.934" stop-color="#d50000"/><stop offset="0.949" stop-color="#d50000"/><stop offset="0.965" stop-color="#d40000"/><stop offset="0.981" stop-color="#d30000"/><stop offset="0.997" stop-color="#d30000"/><stop offset="1.000" stop-color="#d30000"/></linearGradient><linearGradient id="g110" gradientUnits="userSpaceOnUse" x1="59.3" x2="312.1" y1="0" y2="0"><stop offset="0.000" stop-color="#ff3700"/><stop offset="0.016" stop-color="#ff3700"/><stop offset="0.032" stop-color="#ff3900"/><stop offset="0.047" stop-color="#ff3a00"/><stop offset="0.063" stop-color="#ff3b00"/><stop offset="0.079" stop-color="#ff3c00"/><stop offset="0.095" stop-color="#ff3d00"/><stop offset="0.111" stop-color="#ff3e00"/><stop offset="0.127" stop-color="#ff3f00"/><stop offset="0.142" stop-color="#ff4000"/><stop offset="0.158" stop-color="#ff4100"/><stop offset="0.174" stop-color="#ff3f00"/><stop offset="0.190" stop-color="#ff3e00"/><stop offset="0.206" stop-color="#ff3c00"/><stop offset="0.222" stop-color="#ff3b00"/><stop offset="0.237" stop-color="#ff3900"/><stop offset="0.253" stop-color="#ff3800"/><stop offset="0.269" stop-color="#ff3700"/><stop offset="0.285" stop-color="#ff3500"/><stop offset="0.301" stop-color="#ff3400"/><stop offset="0.316" stop-color="#ff2d00"/><stop offset="0.332" stop-color="#ff2600"/><stop offset="0.348" stop-color="#ff1f00"/><stop offset="0.364" stop-color="#ff1800"/><stop offset="0.380" stop-color="#ff1100"/><stop offset="0.396" stop-color="#ff0a00"/><stop offset="0.411" stop-color="#ff0300"/><stop offset="0.427" stop-color="#fb0000"/><stop offset="0.443" stop-color="#f50000"/><stop offset="0.459" stop-color="#f30000"/><stop offset="0.475" stop-color="#f10000"/><stop offset="0.491" stop-color="#ee0000"/><stop offset="0.506" stop-color="#ec0000"/><stop offset="0.522" stop-color="#ea0000"/><stop offset="0.538" stop-color="#e80000"/><stop offset="0.554" stop-color="#e50000"/><stop offset="0.570" stop-color="#e30000"/><stop offset="0.585" stop-color="#e20000"/><stop offset="0.601" stop-color="#e20000"/><stop offset="0.617" stop-color="#e30000"/><stop offset="0.633" stop-color="#e40000"/><stop offset="0.649" stop-color="#e50000"/><stop offset="0.665" stop-color="#e60000"/><stop offset="0.680" stop-color="#e70000"/><stop offset="0.696" stop-color="#e80000"/><stop offset="0.712" stop-color="#e90000"/><stop offset="0.728" stop-color="#e90000"/><stop offset="0.744" stop-color="#e70000"/><stop offset="0.759" stop-color="#e50000"/><stop offset="0.775" stop-color="#e30000"/><stop offset="0.791" stop-color="#e10000"/><stop offset="0.807" stop-color="#df0000"/><stop offset="0.823" stop-color="#dd0000"/><stop offset="0.839" stop-color="#da0000"/><stop offset="0.854" stop-color="#d80000"/><stop offset="0.870" stop-color="#d70000"/><stop offset="0.886" stop-color="#d60000"/><stop offset="0.902" stop-color="#d50000"/><stop offset="0.918" stop-color="#d50000"/><stop offset="0.934" stop-color="#d40000"/><stop offset="0.949" stop-color="#d30000"/><stop offset="0.965" stop-color="#d30000"/><stop offset="0.981" stop-color="#d20000"/><stop offset="0.997" stop-color="#d10000"/><stop offset="1.000" stop-color="#d10000"/></linearGradient><linearGradient id="g112" gradientUnits="userSpaceOnUse" x1="59.3" x2="312.1" y1="0" y2="0"><stop offset="0.000" stop-color="#ff3700"/><stop offset="0.016" stop-color="#ff3700"/><stop offset="0.032" stop-color="#ff3800"/><stop offset="0.047" stop-color="#ff3900"/><stop offset="0.063" stop-color="#ff3900"/><stop offset="0.079" stop-color="#ff3a00"/><stop offset="0.095" stop-color="#ff3a00"/><stop offset="0.111" stop-color="#ff3b00"/><stop offset="0.127" stop-color="#ff3b00"/><stop offset="0.142" stop-color="#ff3c00"/><stop offset="0.158" stop-color="#ff3c00"/><stop offset="0.174" stop-color="#ff3c00"/><stop offset="0.190" stop-color="#ff3b00"/><stop offset="0.206" stop-color="#ff3a00"/><stop offset="0.222" stop-color="#ff3900"/><stop offset="0.237" stop-color="#ff3800"/><stop offset="0.253" stop-color="#ff3700"/><stop offset="0.269" stop-color="#ff3600"/><stop offset="0.285" stop-color="#ff3500"/><stop offset="0.301" stop-color="#ff3400"/><stop offset="0.316" stop-color="#ff2e00"/><stop offset="0.332" stop-color="#ff2700"/><stop offset="0.348" stop-color="#ff1f00"/><stop offset="0.364" stop-color="#ff1800"/><stop offset="0.380" stop-color="#ff1100"/><stop offset="0.396" stop-color="#ff0a00"/><stop offset="0.411" stop-color="#ff0300"/><stop offset="0.427" stop-color="#fb0000"/><stop offset="0.443" stop-color="#f40000"/><stop offset="0.459" stop-color="#f20000"/><stop offset="0.475" stop-color="#f00000"/><stop offset="0.491" stop-color="#ed0000"/><stop offset="0.506" stop-color="#eb0000"/><stop offset="0.522" stop-color="#e80000"/><stop offset="0.538" stop-color="#e60000"/><stop offset="0.554" stop-color="#e40000"/><stop offset="0.570" stop-color="#e10000"/><stop offset="0.585" stop-color="#e00000"/><stop offset="0.601" stop-color="#e10000"/><stop offset="0.617" stop-color="#e20000"/><stop offset="0.633" stop-color="#e30000"/><stop offset="0.649" stop-color="#e40000"/><stop offset="0.665" stop-color="#e50000"/><stop offset="0.680" stop-color="#e60000"/><stop offset="0.696" stop-color="#e70000"/><stop offset="0.712" stop-color="#e80000"/><stop offset="0.728" stop-color="#e70000"/><stop offset="0.744" stop-color="#e50000"/><stop offset="0.759" stop-color="#e30000"/><stop offset="0.775" stop-color="#e10000"/><stop offset="0.791" stop-color="#df0000"/><stop offset="0.807" stop-color="#dd0000"/><stop offset="0.823" stop-color="#db0000"/><stop offset="0.839" stop-color="#d90000"/><stop offset="0.854" stop-color="#d70000"/><stop offset="0.870" stop-color="#d50000"/><stop offset="0.886" stop-color="#d50000"/><stop offset="0.902" stop-color="#d40000"/><stop offset="0.918" stop-color="#d30000"/><stop offset="0.934" stop-color="#d30000"/><stop offset="0.949" stop-color="#d20000"/><stop offset="0.965" stop-color="#d10000"/><stop offset="0.981" stop-color="#d10000"/><stop offset="0.997" stop-color="#d00000"/><stop offset="1.000" stop-color="#d00000"/></linearGradient><linearGradient id="g114" gradientUnits="userSpaceOnUse" x1="59.3" x2="312.1" y1="0" y2="0"><stop offset="0.000" stop-color="#ff3700"/><stop offset="0.016" stop-color="#ff3700"/><stop offset="0.032" stop-color="#ff3700"/><stop offset="0.047" stop-color="#ff3700"/><stop offset="0.063" stop-color="#ff3700"/><stop offset="0.079" stop-color="#ff3800"/><stop offset="0.095" stop-color="#ff3800"/><stop offset="0.111" stop-color="#ff3800"/><stop offset="0.127" stop-color="#ff3800"/><stop offset="0.142" stop-color="#ff3800"/><stop offset="0.158" stop-color="#ff3800"/><stop offset="0.174" stop-color="#ff3800"/><stop offset="0.190" stop-color="#ff3700"/><stop offset="0.206" stop-color="#ff3700"/><stop offset="0.222" stop-color="#ff3700"/><stop offset="0.237" stop-color="#ff3600"/><stop offset="0.253" stop-color="#ff3600"/><stop offset="0.269" stop-color="#ff3600"/><stop offset="0.285" stop-color="#ff3500"/><stop offset="0.301" stop-color="#ff3500"/><stop offset="0.316" stop-color="#ff2e00"/><stop offset="0.332" stop-color="#ff2700"/><stop offset="0.348" stop-color="#ff1f00"/><stop offset="0.364" stop-color="#ff1800"/><stop offset="0.380" stop-color="#ff1100"/><stop offset="0.396" stop-color="#ff0900"/><stop offset="0.411" stop-color="#ff0200"/><stop offset="0.427" stop-color="#fa0000"/><stop offset="0.443" stop-color="#f30000"/><stop offset="0.459" stop-color="#f10000"/><stop offset="0.475" stop-color="#ee0000"/><stop offset="0.491" stop-color="#ec0000"/><stop offset="0.506" stop-color="#e90000"/><stop offset="0.522" stop-color="#e70000"/><stop offset="0.538" stop-color="#e50000"/><stop offset="0.554" stop-color="#e20000"/><stop offset="0.570" stop-color="#e00000"/><stop offset="0.585" stop-color="#de0000"/><stop offset="0.601" stop-color="#df0000"/><stop offset="0.617" stop-color="#e00000"/><stop offset="0.633" stop-color="#e10000"/><stop offset="0.649" stop-color="#e20000"/><stop offset="0.665" stop-color="#e30000"/><stop offset="0.680" stop-color="#e40000"/><stop offset="0.696" stop-color="#e50000"/><stop offset="0.712" stop-color="#e60000"/><stop offset="0.728" stop-color="#e60000"/><stop offset="0.744" stop-color="#e40000"/><stop offset="0.759" stop-color="#e20000"/><stop offset="0.775" stop-color="#e00000"/><stop offset="0.791" stop-color="#de0000"/><stop offset="0.807" stop-color="#dc0000"/><stop offset="0.823" stop-color="#da0000"/><stop offset="0.839" stop-color="#d80000"/><stop offset="0.854" stop-color="#d60000"/><stop offset="0.870" stop-color="#d40000"/><stop offset="0.886" stop-color="#d30000"/><stop offset="0.902" stop-color="#d30000"/><stop offset="0.918" stop-color="#d20000"/><stop offset="0.934" stop-color="#d10000"/><stop offset="0.949" stop-color="#d00000"/><stop offset="0.965" stop-color="#d00000"/><stop offset="0.981" stop-color="#cf0000"/><stop offset="0.997" stop-color="#ce0000"/><stop offset="1.000" stop-color="#ce0000"/></linearGradient><linearGradient id="g116" gradientUnits="userSpaceOnUse" x1="59.3" x2="312.1" y1="0" y2="0"><stop offset="0.000" stop-color="#ff3800"/><stop offset="0.016" stop-color="#ff3800"/><stop offset="0.032" stop-color="#ff3800"/><stop offset="0.047" stop-color="#ff3700"/><stop offset="0.063" stop-color="#ff3700"/><stop offset="0.079" stop-color="#ff3600"/><stop offset="0.095" stop-color="#ff3600"/><stop offset="0.111" stop-color="#ff3500"/><stop offset="0.127" stop-color="#ff3500"/><stop offset="0.142" stop-color="#ff3400"/><stop offset="0.158" stop-color="#ff3400"/><stop offset="0.174" stop-color="#ff3400"/><stop offset="0.190" stop-color="#ff3400"/><stop offset="0.206" stop-color="#ff3400"/><stop offset="0.222" stop-color="#ff3500"/><stop offset="0.237" stop-color="#ff3500"/><stop offset="0.253" stop-color="#ff3500"/><stop offset="0.269" stop-color="#ff3500"/><stop offset="0.285" stop-color="#ff3500"/><stop offset="0.301" stop-color="#ff3600"/><stop offset="0.316" stop-color="#ff2f00"/><stop offset="0.332" stop-color="#ff2700"/><stop offset="0.348" stop-color="#ff2000"/><stop offset="0.364" stop-color="#ff1800"/><stop offset="0.380" stop-color="#ff1000"/><stop offset="0.396" stop-color="#ff0900"/><stop offset="0.411" stop-color="#ff0100"/><stop offset="0.427" stop-color="#f90000"/><stop offset="0.443" stop-color="#f20000"/><stop offset="0.459" stop-color="#f00000"/><stop offset="0.475" stop-color="#ed0000"/><stop offset="0.491" stop-color="#eb0000"/><stop offset="0.506" stop-color="#e80000"/><stop offset="0.522" stop-color="#e60000"/><stop offset="0.538" stop-color="#e30000"/><stop offset="0.554" stop-color="#e10000"/><stop offset="0.570" stop-color="#de0000"/><stop offset="0.585" stop-color="#dd0000"/><stop offset="0.601" stop-color="#de0000"/><stop offset="0.617" stop-color="#df0000"/><stop offset="0.633" stop-color="#e00000"/><stop offset="0.649" stop-color="#e10000"/><stop offset="0.665" stop-color="#e20000"/><stop offset="0.680" stop-color="#e30000"/><stop offset="0.696" stop-color="#e40000"/><stop offset="0.712" stop-color="#e50000"/><stop offset="0.728" stop-color="#e40000"/><stop offset="0.744" stop-color="#e20000"/><stop offset="0.759" stop-color="#e00000"/><stop offset="0.775" stop-color="#de0000"/><stop offset="0.791" stop-color="#dc0000"/><stop offset="0.807" stop-color="#da0000"/><stop offset="0.823" stop-color="#d80000"/><stop offset="0.839" stop-color="#d60000"/><stop offset="0.854" stop-color="#d40000"/><stop offset="0.870" stop-color="#d30000"/><stop offset="0.886" stop-color="#d20000"/><stop offset="0.902" stop-color="#d10000"/><stop offset="0.918" stop-color="#d00000"/><stop offset="0.934" stop-color="#d00000"/><stop offset="0.949" stop-color="#cf0000"/><stop offset="0.965" stop-color="#ce0000"/><stop offset="0.981" stop-color="#ce0000"/><stop offset="0.997" stop-color="#cd0000"/><stop offset="1.000" stop-color="#cd0000"/></linearGradient><linearGradient id="g118" gradientUnits="userSpaceOnUse" x1="59.3" x2="312.1" y1="0" y2="0"><stop offset="0.000" stop-color="#ff4500"/><stop offset="0.016" stop-color="#ff4300"/><stop offset="0.032" stop-color="#ff4100"/><stop offset="0.047" stop-color="#ff3f00"/><stop offset="0.063" stop-color="#ff3c00"/><stop offset="0.079" stop-color="#ff3a00"/><stop offset="0.095" stop-color="#ff3800"/><stop offset="0.111" stop-color="#ff3600"/><stop offset="0.127" stop-color="#ff3400"/><stop offset="0.142" stop-color="#ff3200"/><stop offset="0.158" stop-color="#ff3000"/><stop offset="0.174" stop-color="#ff3100"/><stop offset="0.190" stop-color="#ff3100"/><stop offset="0.206" stop-color="#ff3200"/><stop offset="0.222" stop-color="#ff3300"/><stop offset="0.237" stop-color="#ff3300"/><stop offset="0.253" stop-color="#ff3400"/><stop offset="0.269" stop-color="#ff3500"/><stop offset="0.285" stop-color="#ff3600"/><stop offset="0.301" stop-color="#ff3600"/><stop offset="0.316" stop-color="#ff2f00"/><stop offset="0.332" stop-color="#ff2700"/><stop offset="0.348" stop-color="#ff2000"/><stop offset="0.364" stop-color="#ff1800"/><stop offset="0.380" stop-color="#ff1000"/><stop offset="0.396" stop-color="#ff0800"/><stop offset="0.411" stop-color="#ff0100"/><stop offset="0.427" stop-color="#f80000"/><stop offset="0.443" stop-color="#f10000"/><stop offset="0.459" stop-color="#ee0000"/><stop offset="0.475" stop-color="#ec0000"/><stop offset="0.491" stop-color="#e90000"/><stop offset="0.506" stop-color="#e70000"/><stop offset="0.522" stop-color="#e40000"/><stop offset="0.538" stop-color="#e20000"/><stop offset="0.554" stop-color="#df0000"/><stop offset="0.570" stop-color="#dd0000"/><stop offset="0.585" stop-color="#db0000"/><stop offset="0.601" stop-color="#dc0000"/><stop offset="0.617" stop-color="#dd0000"/><stop offset="0.633" stop-color="#de0000"/><stop offset="0.649" stop-color="#df0000"/><stop offset="0.665" stop-color="#e00000"/><stop offset="0.680" stop-color="#e10000"/><stop offset="0.696" stop-color="#e20000"/><stop offset="0.712" stop-color="#e30000"/><stop offset="0.728" stop-color="#e30000"/><stop offset="0.744" stop-color="#e10000"/><stop offset="0.759" stop-color="#df0000"/><stop offset="0.775" stop-color="#dd0000"/><stop offset="0.791" stop-color="#db0000"/><stop offset="0.807" stop-color="#d90000"/><stop offset="0.823" stop-color="#d70000"/><stop offset="0.839" stop-color="#d50000"/><stop offset="0.854" stop-color="#d30000"/><stop offset="0.870" stop-color="#d10000"/><stop offset="0.886" stop-color="#d10000"/><stop offset="0.902" stop-color="#d00000"/><stop offset="0.918" stop-color="#cf0000"/><stop offset="0.934" stop-color="#ce0000"/><stop offset="0.949" stop-color="#ce0000"/><stop offset="0.965" stop-color="#cd0000"/><stop offset="0.981" stop-color="#cc0000"/><stop offset="0.997" stop-color="#cb0000"/><stop offset="1.000" stop-color="#cb0000"/></linearGradient><linearGradient id="g120" gradientUnits="userSpaceOnUse" x1="59.3" x2="312.1" y1="0" y2="0"><stop offset="0.000" stop-color="#ff5100"/><stop offset="0.016" stop-color="#ff4e00"/><stop offset="0.032" stop-color="#ff4b00"/><stop offset="0.047" stop-color="#ff4800"/><stop offset="0.063" stop-color="#ff4500"/><stop offset="0.079" stop-color="#ff4100"/><stop offset="0.095" stop-color="#ff3e00"/><stop offset="0.111" stop-color="#ff3b00"/><stop offset="0.127" stop-color="#ff3800"/><stop offset="0.142" stop-color="#ff3500"/><stop offset="0.158" stop-color="#ff3200"/><stop offset="0.174" stop-color="#ff3200"/><stop offset="0.190" stop-color="#ff3300"/><stop offset="0.206" stop-color="#ff3400"/><stop offset="0.222" stop-color="#ff3400"/><stop offset="0.237" stop-color="#ff3500"/><stop offset="0.253" stop-color="#ff3500"/><stop offset="0.269" stop-color="#ff3600"/><stop offset="0.285" stop-color="#ff3600"/><stop offset="0.301" stop-color="#ff3700"/><stop offset="0.316" stop-color="#ff3000"/><stop offset="0.332" stop-color="#ff2800"/><stop offset="0.348" stop-color="#ff2000"/><stop offset="0.364" stop-color="#ff1800"/><stop offset="0.380" stop-color="#ff1000"/><stop offset="0.396" stop-color="#ff0800"/><stop offset="0.411" stop-color="#ff0000"/><stop offset="0.427" stop-color="#f70000"/><stop offset="0.443" stop-color="#f00000"/><stop offset="0.459" stop-color="#ed0000"/><stop offset="0.475" stop-color="#eb0000"/><stop offset="0.491" stop-color="#e80000"/><stop offset="0.506" stop-color="#e60000"/><stop offset="0.522" stop-color="#e30000"/><stop offset="0.538" stop-color="#e10000"/><stop offset="0.554" stop-color="#de0000"/><stop offset="0.570" stop-color="#db0000"/><stop offset="0.585" stop-color="#da0000"/><stop offset="0.601" stop-color="#db0000"/><stop offset="0.617" stop-color="#dc0000"/><stop offset="0.633" stop-color="#dd0000"/><stop offset="0.649" stop-color="#de0000"/><stop offset="0.665" stop-color="#df0000"/><stop offset="0.680" stop-color="#e00000"/><stop offset="0.696" stop-color="#e10000"/><stop offset="0.712" stop-color="#e20000"/><stop offset="0.728" stop-color="#e20000"/><stop offset="0.744" stop-color="#e00000"/><stop offset="0.759" stop-color="#de0000"/><stop offset="0.775" stop-color="#dc0000"/><stop offset="0.791" stop-color="#da0000"/><stop offset="0.807" stop-color="#d80000"/><stop offset="0.823" stop-color="#d60000"/><stop offset="0.839" stop-color="#d40000"/><stop offset="0.854" stop-color="#d20000"/><stop offset="0.870" stop-color="#d00000"/><stop offset="0.886" stop-color="#cf0000"/><stop offset="0.902" stop-color="#ce0000"/><stop offset="0.918" stop-color="#ce0000"/><stop offset="0.934" stop-color="#cd0000"/><stop offset="0.949" stop-color="#cc0000"/><stop offset="0.965" stop-color="#cb0000"/><stop offset="0.981" stop-color="#cb0000"/><stop offset="0.997" stop-color="#ca0000"/><stop offset="1.000" stop-color="#ca0000"/></linearGradient><linearGradient id="g122" gradientUnits="userSpaceOnUse" x1="59.3" x2="312.1" y1="0" y2="0"><stop offset="0.000" stop-color="#ff5d00"/><stop offset="0.016" stop-color="#ff5900"/><stop offset="0.032" stop-color="#ff5500"/><stop offset="0.047" stop-color="#ff5100"/><stop offset="0.063" stop-color="#ff4d00"/><stop offset="0.079" stop-color="#ff4900"/><stop offset="0.095" stop-color="#ff4400"/><stop offset="0.111" stop-color="#ff4000"/><stop offset="0.127" stop-color="#ff3c00"/><stop offset="0.142" stop-color="#ff3800"/><stop offset="0.158" stop-color="#ff3400"/><stop offset="0.174" stop-color="#ff3400"/><stop offset="0.190" stop-color="#ff3400"/><stop offset="0.206" stop-color="#ff3400"/><stop offset="0.222" stop-color="#ff3400"/><stop offset="0.237" stop-color="#ff3400"/><stop offset="0.253" stop-color="#ff3400"/><stop offset="0.269" stop-color="#ff3400"/><stop offset="0.285" stop-color="#ff3400"/><stop offset="0.301" stop-color="#ff3400"/><stop offset="0.316" stop-color="#ff2d00"/><stop offset="0.332" stop-color="#ff2500"/><stop offset="0.348" stop-color="#ff1d00"/><stop offset="0.364" stop-color="#ff1500"/><stop offset="0.380" stop-color="#ff0d00"/><stop offset="0.396" stop-color="#ff0500"/><stop offset="0.411" stop-color="#fc0000"/><stop offset="0.427" stop-color="#f40000"/><stop offset="0.443" stop-color="#ed0000"/><stop offset="0.459" stop-color="#eb0000"/><stop offset="0.475" stop-color="#e90000"/><stop offset="0.491" stop-color="#e60000"/><stop offset="0.506" stop-color="#e40000"/><stop offset="0.522" stop-color="#e10000"/><stop offset="0.538" stop-color="#df0000"/><stop offset="0.554" stop-color="#dc0000"/><stop offset="0.570" stop-color="#da0000"/><stop offset="0.585" stop-color="#d80000"/><stop offset="0.601" stop-color="#d90000"/><stop offset="0.617" stop-color="#da0000"/><stop offset="0.633" stop-color="#db0000"/><stop offset="0.649" stop-color="#dc0000"/><stop offset="0.665" stop-color="#dd0000"/><stop offset="0.680" stop-color="#de0000"/><stop offset="0.696" stop-color="#df0000"/><stop offset="0.712" stop-color="#e00000"/><stop offset="0.728" stop-color="#df0000"/><stop offset="0.744" stop-color="#dd0000"/><stop offset="0.759" stop-color="#db0000"/><stop offset="0.775" stop-color="#da0000"/><stop offset="0.791" stop-color="#d80000"/><stop offset="0.807" stop-color="#d60000"/><stop offset="0.823" stop-color="#d40000"/><stop offset="0.839" stop-color="#d20000"/><stop offset="0.854" stop-color="#d00000"/><stop offset="0.870" stop-color="#ce0000"/><stop offset="0.886" stop-color="#ce0000"/><stop offset="0.902" stop-color="#cd0000"/><stop offset="0.918" stop-color="#cc0000"/><stop offset="0.934" stop-color="#cb0000"/><stop offset="0.949" stop-color="#cb0000"/><stop offset="0.965" stop-color="#ca0000"/><stop offset="0.981" stop-color="#c90000"/><stop offset="0.997" stop-color="#c80000"/><stop offset="1.000" stop-color="#c80000"/></linearGradient><linearGradient id="g124" gradientUnits="userSpaceOnUse" x1="59.3" x2="312.1" y1="0" y2="0"><stop offset="0.000" stop-color="#ff5b00"/><stop offset="0.016" stop-color="#ff5800"/><stop offset="0.032" stop-color="#ff5400"/><stop offset="0.047" stop-color="#ff5000"/><stop offset="0.063" stop-color="#ff4d00"/><stop offset="0.079" stop-color="#ff4900"/><stop offset="0.095" stop-color="#ff4500"/><stop offset="0.111" stop-color="#ff4100"/><stop offset="0.127" stop-color="#ff3d00"/><stop offset="0.142" stop-color="#ff3a00"/><stop offset="0.158" stop-color="#ff3600"/><stop offset="0.174" stop-color="#ff3500"/><stop offset="0.190" stop-color="#ff3500"/><stop offset="0.206" stop-color="#ff3400"/><stop offset="0.222" stop-color="#ff3400"/><stop offset="0.237" stop-color="#ff3300"/><stop offset="0.253" stop-color="#ff3300"/><stop offset="0.269" stop-color="#ff3200"/><stop offset="0.285" stop-color="#ff3200"/><stop offset="0.301" stop-color="#ff3200"/><stop offset="0.316" stop-color="#ff2a00"/><stop offset="0.332" stop-color="#ff2200"/><stop offset="0.348" stop-color="#ff1a00"/><stop offset="0.364" stop-color="#ff1300"/><stop offset="0.380" stop-color="#ff0b00"/><stop offset="0.396" stop-color="#ff0300"/><stop offset="0.411" stop-color="#fa0000"/><stop offset="0.427" stop-color="#f20000"/><stop offset="0.443" stop-color="#eb0000"/><stop offset="0.459" stop-color="#e90000"/><stop offset="0.475" stop-color="#e60000"/><stop offset="0.491" stop-color="#e40000"/><stop offset="0.506" stop-color="#e20000"/><stop offset="0.522" stop-color="#df0000"/><stop offset="0.538" stop-color="#dd0000"/><stop offset="0.554" stop-color="#da0000"/><stop offset="0.570" stop-color="#d80000"/><stop offset="0.585" stop-color="#d70000"/><stop offset="0.601" stop-color="#d70000"/><stop offset="0.617" stop-color="#d80000"/><stop offset="0.633" stop-color="#d90000"/><stop offset="0.649" stop-color="#da0000"/><stop offset="0.665" stop-color="#db0000"/><stop offset="0.680" stop-color="#dc0000"/><stop offset="0.696" stop-color="#dc0000"/><stop offset="0.712" stop-color="#dd0000"/><stop offset="0.728" stop-color="#dd0000"/><stop offset="0.744" stop-color="#db0000"/><stop offset="0.759" stop-color="#d90000"/><stop offset="0.775" stop-color="#d80000"/><stop offset="0.791" stop-color="#d60000"/><stop offset="0.807" stop-color="#d40000"/><stop offset="0.823" stop-color="#d20000"/><stop offset="0.839" stop-color="#d00000"/><stop offset="0.854" stop-color="#cf0000"/><stop offset="0.870" stop-color="#cd0000"/><stop offset="0.886" stop-color="#cc0000"/><stop offset="0.902" stop-color="#cb0000"/><stop offset="0.918" stop-color="#cb0000"/><stop offset="0.934" stop-color="#ca0000"/><stop offset="0.949" stop-color="#c90000"/><stop offset="0.965" stop-color="#c80000"/><stop offset="0.981" stop-color="#c80000"/><stop offset="0.997" stop-color="#c70000"/><stop offset="1.000" stop-color="#c70000"/></linearGradient><linearGradient id="g126" gradientUnits="userSpaceOnUse" x1="59.3" x2="312.1" y1="0" y2="0"><stop offset="0.000" stop-color="#ff5400"/><stop offset="0.016" stop-color="#ff5200"/><stop offset="0.032" stop-color="#ff4f00"/><stop offset="0.047" stop-color="#ff4c00"/><stop offset="0.063" stop-color="#ff4900"/><stop offset="0.079" stop-color="#ff4600"/><stop offset="0.095" stop-color="#ff4300"/><stop offset="0.111" stop-color="#ff4100"/><stop offset="0.127" stop-color="#ff3e00"/><stop offset="0.142" stop-color="#ff3b00"/><stop offset="0.158" stop-color="#ff3800"/><stop offset="0.174" stop-color="#ff3700"/><stop offset="0.190" stop-color="#ff3600"/><stop offset="0.206" stop-color="#ff3500"/><stop offset="0.222" stop-color="#ff3400"/><stop offset="0.237" stop-color="#ff3300"/><stop offset="0.253" stop-color="#ff3200"/><stop offset="0.269" stop-color="#ff3100"/><stop offset="0.285" stop-color="#ff3000"/><stop offset="0.301" stop-color="#ff2f00"/><stop offset="0.316" stop-color="#ff2800"/><stop offset="0.332" stop-color="#ff2000"/><stop offset="0.348" stop-color="#ff1800"/><stop offset="0.364" stop-color="#ff1000"/><stop offset="0.380" stop-color="#ff0800"/><stop offset="0.396" stop-color="#ff0000"/><stop offset="0.411" stop-color="#f80000"/><stop offset="0.427" stop-color="#f00000"/><stop offset="0.443" stop-color="#e90000"/><stop offset="0.459" stop-color="#e70000"/><stop offset="0.475" stop-color="#e40000"/><stop offset="0.491" stop-color="#e20000"/><stop offset="0.506" stop-color="#e00000"/><stop offset="0.522" stop-color="#dd0000"/><stop offset="0.538" stop-color="#db0000"/><stop offset="0.554" stop-color="#d90000"/><stop offset="0.570" stop-color="#d70000"/><stop offset="0.585" stop-color="#d50000"/><stop offset="0.601" stop-color="#d60000"/><stop offset="0.617" stop-color="#d70000"/><stop offset="0.633" stop-color="#d70000"/><stop offset="0.649" stop-color="#d80000"/><stop offset="0.665" stop-color="#d90000"/><stop offset="0.680" stop-color="#da0000"/><stop offset="0.696" stop-color="#da0000"/><stop offset="0.712" stop-color="#db0000"/><stop offset="0.728" stop-color="#db0000"/><stop offset="0.744" stop-color="#d90000"/><stop offset="0.759" stop-color="#d70000"/><stop offset="0.775" stop-color="#d60000"/><stop offset="0.791" stop-color="#d40000"/><stop offset="0.807" stop-color="#d20000"/><stop offset="0.823" stop-color="#d00000"/><stop offset="0.839" stop-color="#cf0000"/><stop offset="0.854" stop-color="#cd0000"/><stop offset="0.870" stop-color="#cb0000"/><stop offset="0.886" stop-color="#cb0000"/><stop offset="0.902" stop-color="#ca0000"/><stop offset="0.918" stop-color="#c90000"/><stop offset="0.934" stop-color="#c80000"/><stop offset="0.949" stop-color="#c80000"/><stop offset="0.965" stop-color="#c70000"/><stop offset="0.981" stop-color="#c60000"/><stop offset="0.997" stop-color="#c50000"/><stop offset="1.000" stop-color="#c50000"/></linearGradient><linearGradient id="g128" gradientUnits="userSpaceOnUse" x1="59.3" x2="312.1" y1="0" y2="0"><stop offset="0.000" stop-color="#ff6100"/><stop offset="0.016" stop-color="#ff5e00"/><stop offset="0.032" stop-color="#ff5a00"/><stop offset="0.047" stop-color="#ff5600"/><stop offset="0.063" stop-color="#ff5200"/><stop offset="0.079" stop-color="#ff4e00"/><stop offset="0.095" stop-color="#ff4b00"/><stop offset="0.111" stop-color="#ff4700"/><stop offset="0.127" stop-color="#ff4300"/><stop offset="0.142" stop-color="#ff3f00"/><stop offset="0.158" stop-color="#ff3b00"/><stop offset="0.174" stop-color="#ff3a00"/><stop offset="0.190" stop-color="#ff3800"/><stop offset="0.206" stop-color="#ff3600"/><stop offset="0.222" stop-color="#ff3400"/><stop offset="0.237" stop-color="#ff3300"/><stop offset="0.253" stop-color="#ff3100"/><stop offset="0.269" stop-color="#ff2f00"/><stop offset="0.285" stop-color="#ff2e00"/><stop offset="0.301" stop-color="#ff2c00"/><stop offset="0.316" stop-color="#ff2500"/><stop offset="0.332" stop-color="#ff1d00"/><stop offset="0.348" stop-color="#ff1500"/><stop offset="0.364" stop-color="#ff0e00"/><stop offset="0.380" stop-color="#ff0600"/><stop offset="0.396" stop-color="#fd0000"/><stop offset="0.411" stop-color="#f50000"/><stop offset="0.427" stop-color="#ee0000"/><stop offset="0.443" stop-color="#e70000"/><stop offset="0.459" stop-color="#e50000"/><stop offset="0.475" stop-color="#e20000"/><stop offset="0.491" stop-color="#e00000"/><stop offset="0.506" stop-color="#de0000"/><stop offset="0.522" stop-color="#dc0000"/><stop offset="0.538" stop-color="#da0000"/><stop offset="0.554" stop-color="#d70000"/><stop offset="0.570" stop-color="#d50000"/><stop offset="0.585" stop-color="#d40000"/><stop offset="0.601" stop-color="#d40000"/><stop offset="0.617" stop-color="#d50000"/><stop offset="0.633" stop-color="#d60000"/><stop offset="0.649" stop-color="#d70000"/><stop offset="0.665" stop-color="#d70000"/><stop offset="0.680" stop-color="#d80000"/><stop offset="0.696" stop-color="#d90000"/><stop offset="0.712" stop-color="#d90000"/><stop offset="0.728" stop-color="#d90000"/><stop offset="0.744" stop-color="#d70000"/><stop offset="0.759" stop-color="#d60000"/><stop offset="0.775" stop-color="#d40000"/><stop offset="0.791" stop-color="#d20000"/><stop offset="0.807" stop-color="#d10000"/><stop offset="0.823" stop-color="#cf0000"/><stop offset="0.839" stop-color="#cd0000"/><stop offset="0.854" stop-color="#cc0000"/><stop offset="0.870" stop-color="#ca0000"/><stop offset="0.886" stop-color="#ca0000"/><stop offset="0.902" stop-color="#c90000"/><stop offset="0.918" stop-color="#c80000"/><stop offset="0.934" stop-color="#c70000"/><stop offset="0.949" stop-color="#c70000"/><stop offset="0.965" stop-color="#c60000"/><stop offset="0.981" stop-color="#c50000"/><stop offset="0.997" stop-color="#c40000"/><stop offset="1.000" stop-color="#c40000"/></linearGradient><linearGradient id="g130" gradientUnits="userSpaceOnUse" x1="59.3" x2="312.1" y1="0" y2="0"><stop offset="0.000" stop-color="#ff7200"/><stop offset="0.016" stop-color="#ff6d00"/><stop offset="0.032" stop-color="#ff6800"/><stop offset="0.047" stop-color="#ff6300"/><stop offset="0.063" stop-color="#ff5e00"/><stop offset="0.079" stop-color="#ff5900"/><stop offset="0.095" stop-color="#ff5300"/><stop offset="0.111" stop-color="#ff4e00"/><stop offset="0.127" stop-color="#ff4900"/><stop offset="0.142" stop-color="#ff4400"/><stop offset="0.158" stop-color="#ff3f00"/><stop offset="0.174" stop-color="#ff3c00"/><stop offset="0.190" stop-color="#ff3a00"/><stop offset="0.206" stop-color="#ff3700"/><stop offset="0.222" stop-color="#ff3500"/><stop offset="0.237" stop-color="#ff3300"/><stop offset="0.253" stop-color="#ff3000"/><stop offset="0.269" stop-color="#ff2e00"/><stop offset="0.285" stop-color="#ff2c00"/><stop offset="0.301" stop-color="#ff2a00"/><stop offset="0.316" stop-color="#ff2200"/><stop offset="0.332" stop-color="#ff1b00"/><stop offset="0.348" stop-color="#ff1300"/><stop offset="0.364" stop-color="#ff0b00"/><stop offset="0.380" stop-color="#ff0300"/><stop offset="0.396" stop-color="#fb0000"/><stop offset="0.411" stop-color="#f30000"/><stop offset="0.427" stop-color="#eb0000"/><stop offset="0.443" stop-color="#e50000"/><stop offset="0.459" stop-color="#e30000"/><stop offset="0.475" stop-color="#e00000"/><stop offset="0.491" stop-color="#de0000"/><stop offset="0.506" stop-color="#dc0000"/><stop offset="0.522" stop-color="#da0000"/><stop offset="0.538" stop-color="#d80000"/><stop offset="0.554" stop-color="#d60000"/><stop offset="0.570" stop-color="#d40000"/><stop offset="0.585" stop-color="#d20000"/><stop offset="0.601" stop-color="#d30000"/><stop offset="0.617" stop-color="#d40000"/><stop offset="0.633" stop-color="#d50000"/><stop offset="0.649" stop-color="#d50000"/><stop offset="0.665" stop-color="#d60000"/><stop offset="0.680" stop-color="#d70000"/><stop offset="0.696" stop-color="#d70000"/><stop offset="0.712" stop-color="#d80000"/><stop offset="0.728" stop-color="#d80000"/><stop offset="0.744" stop-color="#d60000"/><stop offset="0.759" stop-color="#d40000"/><stop offset="0.775" stop-color="#d30000"/><stop offset="0.791" stop-color="#d10000"/><stop offset="0.807" stop-color="#d00000"/><stop offset="0.823" stop-color="#ce0000"/><stop offset="0.839" stop-color="#cc0000"/><stop offset="0.854" stop-color="#cb0000"/><stop offset="0.870" stop-color="#c90000"/><stop offset="0.886" stop-color="#c80000"/><stop offset="0.902" stop-color="#c80000"/><stop offset="0.918" stop-color="#c70000"/><stop offset="0.934" stop-color="#c60000"/><stop offset="0.949" stop-color="#c50000"/><stop offset="0.965" stop-color="#c50000"/><stop offset="0.981" stop-color="#c40000"/><stop offset="0.997" stop-color="#c30000"/><stop offset="1.000" stop-color="#c30000"/></linearGradient><linearGradient id="g132" gradientUnits="userSpaceOnUse" x1="59.3" x2="312.1" y1="0" y2="0"><stop offset="0.000" stop-color="#ff8300"/><stop offset="0.016" stop-color="#ff7d00"/><stop offset="0.032" stop-color="#ff7600"/><stop offset="0.047" stop-color="#ff7000"/><stop offset="0.063" stop-color="#ff6900"/><stop offset="0.079" stop-color="#ff6300"/><stop offset="0.095" stop-color="#ff5c00"/><stop offset="0.111" stop-color="#ff5600"/><stop offset="0.127" stop-color="#ff4f00"/><stop offset="0.142" stop-color="#ff4800"/><stop offset="0.158" stop-color="#ff4200"/><stop offset="0.174" stop-color="#ff3f00"/><stop offset="0.190" stop-color="#ff3c00"/><stop offset="0.206" stop-color="#ff3900"/><stop offset="0.222" stop-color="#ff3600"/><stop offset="0.237" stop-color="#ff3300"/><stop offset="0.253" stop-color="#ff3000"/><stop offset="0.269" stop-color="#ff2e00"/><stop offset="0.285" stop-color="#ff2b00"/><stop offset="0.301" stop-color="#ff2800"/><stop offset="0.316" stop-color="#ff2100"/><stop offset="0.332" stop-color="#ff1900"/><stop offset="0.348" stop-color="#ff1100"/><stop offset="0.364" stop-color="#ff0a00"/><stop offset="0.380" stop-color="#ff0200"/><stop offset="0.396" stop-color="#f90000"/><stop offset="0.411" stop-color="#f10000"/><stop offset="0.427" stop-color="#ea0000"/><stop offset="0.443" stop-color="#e30000"/><stop offset="0.459" stop-color="#e10000"/><stop offset="0.475" stop-color="#df0000"/><stop offset="0.491" stop-color="#dd0000"/><stop offset="0.506" stop-color="#db0000"/><stop offset="0.522" stop-color="#d90000"/><stop offset="0.538" stop-color="#d70000"/><stop offset="0.554" stop-color="#d50000"/><stop offset="0.570" stop-color="#d30000"/><stop offset="0.585" stop-color="#d10000"/><stop offset="0.601" stop-color="#d20000"/><stop offset="0.617" stop-color="#d30000"/><stop offset="0.633" stop-color="#d30000"/><stop offset="0.649" stop-color="#d40000"/><stop offset="0.665" stop-color="#d50000"/><stop offset="0.680" stop-color="#d60000"/><stop offset="0.696" stop-color="#d60000"/><stop offset="0.712" stop-color="#d70000"/><stop offset="0.728" stop-color="#d70000"/><stop offset="0.744" stop-color="#d50000"/><stop offset="0.759" stop-color="#d30000"/><stop offset="0.775" stop-color="#d20000"/><stop offset="0.791" stop-color="#d00000"/><stop offset="0.807" stop-color="#ce0000"/><stop offset="0.823" stop-color="#cd0000"/><stop offset="0.839" stop-color="#cb0000"/><stop offset="0.854" stop-color="#c90000"/><stop offset="0.870" stop-color="#c80000"/><stop offset="0.886" stop-color="#c70000"/><stop offset="0.902" stop-color="#c60000"/><stop offset="0.918" stop-color="#c60000"/><stop offset="0.934" stop-color="#c50000"/><stop offset="0.949" stop-color="#c40000"/><stop offset="0.965" stop-color="#c40000"/><stop offset="0.981" stop-color="#c30000"/><stop offset="0.997" stop-color="#c20000"/><stop offset="1.000" stop-color="#c20000"/></linearGradient><linearGradient id="g134" gradientUnits="userSpaceOnUse" x1="59.3" x2="312.1" y1="0" y2="0"><stop offset="0.000" stop-color="#ff9200"/><stop offset="0.016" stop-color="#ff8b00"/><stop offset="0.032" stop-color="#ff8300"/><stop offset="0.047" stop-color="#ff7b00"/><stop offset="0.063" stop-color="#ff7400"/><stop offset="0.079" stop-color="#ff6c00"/><stop offset="0.095" stop-color="#ff6400"/><stop offset="0.111" stop-color="#ff5c00"/><stop offset="0.127" stop-color="#ff5500"/><stop offset="0.142" stop-color="#ff4d00"/><stop offset="0.158" stop-color="#ff4500"/><stop offset="0.174" stop-color="#ff4100"/><stop offset="0.190" stop-color="#ff3e00"/><stop offset="0.206" stop-color="#ff3b00"/><stop offset="0.222" stop-color="#ff3700"/><stop offset="0.237" stop-color="#ff3400"/><stop offset="0.253" stop-color="#ff3100"/><stop offset="0.269" stop-color="#ff2d00"/><stop offset="0.285" stop-color="#ff2a00"/><stop offset="0.301" stop-color="#ff2700"/><stop offset="0.316" stop-color="#ff2000"/><stop offset="0.332" stop-color="#ff1800"/><stop offset="0.348" stop-color="#ff1000"/><stop offset="0.364" stop-color="#ff0800"/><stop offset="0.380" stop-color="#ff0100"/><stop offset="0.396" stop-color="#f80000"/><stop offset="0.411" stop-color="#f00000"/><stop offset="0.427" stop-color="#e80000"/><stop offset="0.443" stop-color="#e20000"/><stop offset="0.459" stop-color="#e00000"/><stop offset="0.475" stop-color="#de0000"/><stop offset="0.491" stop-color="#dc0000"/><stop offset="0.506" stop-color="#da0000"/><stop offset="0.522" stop-color="#d80000"/><stop offset="0.538" stop-color="#d60000"/><stop offset="0.554" stop-color="#d40000"/><stop offset="0.570" stop-color="#d20000"/><stop offset="0.585" stop-color="#d00000"/><stop offset="0.601" stop-color="#d10000"/><stop offset="0.617" stop-color="#d20000"/><stop offset="0.633" stop-color="#d20000"/><stop offset="0.649" stop-color="#d30000"/><stop offset="0.665" stop-color="#d40000"/><stop offset="0.680" stop-color="#d40000"/><stop offset="0.696" stop-color="#d50000"/><stop offset="0.712" stop-color="#d60000"/><stop offset="0.728" stop-color="#d60000"/><stop offset="0.744" stop-color="#d40000"/><stop offset="0.759" stop-color="#d20000"/><stop offset="0.775" stop-color="#d10000"/><stop offset="0.791" stop-color="#cf0000"/><stop offset="0.807" stop-color="#cd0000"/><stop offset="0.823" stop-color="#cc0000"/><stop offset="0.839" stop-color="#ca0000"/><stop offset="0.854" stop-color="#c80000"/><stop offset="0.870" stop-color="#c70000"/><stop offset="0.886" stop-color="#c60000"/><stop offset="0.902" stop-color="#c50000"/><stop offset="0.918" stop-color="#c50000"/><stop offset="0.934" stop-color="#c40000"/><stop offset="0.949" stop-color="#c30000"/><stop offset="0.965" stop-color="#c20000"/><stop offset="0.981" stop-color="#c20000"/><stop offset="0.997" stop-color="#c10000"/><stop offset="1.000" stop-color="#c10000"/></linearGradient><linearGradient id="g136" gradientUnits="userSpaceOnUse" x1="59.3" x2="312.1" y1="0" y2="0"><stop offset="0.000" stop-color="#ff9700"/><stop offset="0.016" stop-color="#ff9000"/><stop offset="0.032" stop-color="#ff8800"/><stop offset="0.047" stop-color="#ff8000"/><stop offset="0.063" stop-color="#ff7800"/><stop offset="0.079" stop-color="#ff7000"/><stop offset="0.095" stop-color="#ff6800"/><stop offset="0.111" stop-color="#ff6000"/><stop offset="0.127" stop-color="#ff5800"/><stop offset="0.142" stop-color="#ff5000"/><stop offset="0.158" stop-color="#ff4800"/><stop offset="0.174" stop-color="#ff4400"/><stop offset="0.190" stop-color="#ff4000"/><stop offset="0.206" stop-color="#ff3c00"/><stop offset="0.222" stop-color="#ff3800"/><stop offset="0.237" stop-color="#ff3400"/><stop offset="0.253" stop-color="#ff3100"/><stop offset="0.269" stop-color="#ff2d00"/><stop offset="0.285" stop-color="#ff2900"/><stop offset="0.301" stop-color="#ff2600"/><stop offset="0.316" stop-color="#ff1e00"/><stop offset="0.332" stop-color="#ff1700"/><stop offset="0.348" stop-color="#ff0f00"/><stop offset="0.364" stop-color="#ff0700"/><stop offset="0.380" stop-color="#fe0000"/><stop offset="0.396" stop-color="#f60000"/><stop offset="0.411" stop-color="#ef0000"/><stop offset="0.427" stop-color="#e70000"/><stop offset="0.443" stop-color="#e00000"/><stop offset="0.459" stop-color="#de0000"/><stop offset="0.475" stop-color="#dc0000"/><stop offset="0.491" stop-color="#da0000"/><stop offset="0.506" stop-color="#d80000"/><stop offset="0.522" stop-color="#d60000"/><stop offset="0.538" stop-color="#d40000"/><stop offset="0.554" stop-color="#d30000"/><stop offset="0.570" stop-color="#d10000"/><stop offset="0.585" stop-color="#cf0000"/><stop offset="0.601" stop-color="#d00000"/><stop offset="0.617" stop-color="#d10000"/><stop offset="0.633" stop-color="#d10000"/><stop offset="0.649" stop-color="#d20000"/><stop offset="0.665" stop-color="#d30000"/><stop offset="0.680" stop-color="#d30000"/><stop offset="0.696" stop-color="#d40000"/><stop offset="0.712" stop-color="#d50000"/><stop offset="0.728" stop-color="#d50000"/><stop offset="0.744" stop-color="#d30000"/><stop offset="0.759" stop-color="#d10000"/><stop offset="0.775" stop-color="#d00000"/><stop offset="0.791" stop-color="#ce0000"/><stop offset="0.807" stop-color="#cc0000"/><stop offset="0.823" stop-color="#cb0000"/><stop offset="0.839" stop-color="#c90000"/><stop offset="0.854" stop-color="#c70000"/><stop offset="0.870" stop-color="#c60000"/><stop offset="0.886" stop-color="#c50000"/><stop offset="0.902" stop-color="#c40000"/><stop offset="0.918" stop-color="#c40000"/><stop offset="0.934" stop-color="#c30000"/><stop offset="0.949" stop-color="#c20000"/><stop offset="0.965" stop-color="#c10000"/><stop offset="0.981" stop-color="#c10000"/><stop offset="0.997" stop-color="#c00000"/><stop offset="1.000" stop-color="#c00000"/></linearGradient><linearGradient id="g138" gradientUnits="userSpaceOnUse" x1="59.3" x2="312.1" y1="0" y2="0"><stop offset="0.000" stop-color="#ff9c00"/><stop offset="0.016" stop-color="#ff9400"/><stop offset="0.032" stop-color="#ff8c00"/><stop offset="0.047" stop-color="#ff8300"/><stop offset="0.063" stop-color="#ff7a00"/><stop offset="0.079" stop-color="#ff7100"/><stop offset="0.095" stop-color="#ff6800"/><stop offset="0.111" stop-color="#ff6000"/><stop offset="0.127" stop-color="#ff5700"/><stop offset="0.142" stop-color="#ff4e00"/><stop offset="0.158" stop-color="#ff4500"/><stop offset="0.174" stop-color="#ff4100"/><stop offset="0.190" stop-color="#ff3d00"/><stop offset="0.206" stop-color="#ff3a00"/><stop offset="0.222" stop-color="#ff3600"/><stop offset="0.237" stop-color="#ff3300"/><stop offset="0.253" stop-color="#ff2f00"/><stop offset="0.269" stop-color="#ff2c00"/><stop offset="0.285" stop-color="#ff2800"/><stop offset="0.301" stop-color="#ff2500"/><stop offset="0.316" stop-color="#ff1d00"/><stop offset="0.332" stop-color="#ff1500"/><stop offset="0.348" stop-color="#ff0e00"/><stop offset="0.364" stop-color="#ff0600"/><stop offset="0.380" stop-color="#fd0000"/><stop offset="0.396" stop-color="#f50000"/><stop offset="0.411" stop-color="#ed0000"/><stop offset="0.427" stop-color="#e60000"/><stop offset="0.443" stop-color="#df0000"/><stop offset="0.459" stop-color="#dd0000"/><stop offset="0.475" stop-color="#db0000"/><stop offset="0.491" stop-color="#d90000"/><stop offset="0.506" stop-color="#d70000"/><stop offset="0.522" stop-color="#d50000"/><stop offset="0.538" stop-color="#d30000"/><stop offset="0.554" stop-color="#d10000"/><stop offset="0.570" stop-color="#cf0000"/><stop offset="0.585" stop-color="#ce0000"/><stop offset="0.601" stop-color="#cf0000"/><stop offset="0.617" stop-color="#d00000"/><stop offset="0.633" stop-color="#d00000"/><stop offset="0.649" stop-color="#d10000"/><stop offset="0.665" stop-color="#d20000"/><stop offset="0.680" stop-color="#d20000"/><stop offset="0.696" stop-color="#d30000"/><stop offset="0.712" stop-color="#d40000"/><stop offset="0.728" stop-color="#d40000"/><stop offset="0.744" stop-color="#d20000"/><stop offset="0.759" stop-color="#d00000"/><stop offset="0.775" stop-color="#cf0000"/><stop offset="0.791" stop-color="#cd0000"/><stop offset="0.807" stop-color="#cb0000"/><stop offset="0.823" stop-color="#ca0000"/><stop offset="0.839" stop-color="#c80000"/><stop offset="0.854" stop-color="#c60000"/><stop offset="0.870" stop-color="#c50000"/><stop offset="0.886" stop-color="#c40000"/><stop offset="0.902" stop-color="#c30000"/><stop offset="0.918" stop-color="#c20000"/><stop offset="0.934" stop-color="#c20000"/><stop offset="0.949" stop-color="#c10000"/><stop offset="0.965" stop-color="#c00000"/><stop offset="0.981" stop-color="#bf0000"/><stop offset="0.997" stop-color="#bf0000"/><stop offset="1.000" stop-color="#bf0000"/></linearGradient><linearGradient id="g140" gradientUnits="userSpaceOnUse" x1="59.3" x2="312.1" y1="0" y2="0"><stop offset="0.000" stop-color="#ffa100"/><stop offset="0.016" stop-color="#ff9900"/><stop offset="0.032" stop-color="#ff8f00"/><stop offset="0.047" stop-color="#ff8600"/><stop offset="0.063" stop-color="#ff7c00"/><stop offset="0.079" stop-color="#ff7300"/><stop offset="0.095" stop-color="#ff6900"/><stop offset="0.111" stop-color="#ff5f00"/><stop offset="0.127" stop-color="#ff5600"/><stop offset="0.142" stop-color="#ff4c00"/><stop offset="0.158" stop-color="#ff4200"/><stop offset="0.174" stop-color="#ff3f00"/><stop offset="0.190" stop-color="#ff3b00"/><stop offset="0.206" stop-color="#ff3800"/><stop offset="0.222" stop-color="#ff3400"/><stop offset="0.237" stop-color="#ff3100"/><stop offset="0.253" stop-color="#ff2d00"/><stop offset="0.269" stop-color="#ff2a00"/><stop offset="0.285" stop-color="#ff2700"/><stop offset="0.301" stop-color="#ff2400"/><stop offset="0.316" stop-color="#ff1c00"/><stop offset="0.332" stop-color="#ff1400"/><stop offset="0.348" stop-color="#ff0c00"/><stop offset="0.364" stop-color="#ff0400"/><stop offset="0.380" stop-color="#fc0000"/><stop offset="0.396" stop-color="#f40000"/><stop offset="0.411" stop-color="#ec0000"/><stop offset="0.427" stop-color="#e40000"/><stop offset="0.443" stop-color="#dd0000"/><stop offset="0.459" stop-color="#db0000"/><stop offset="0.475" stop-color="#da0000"/><stop offset="0.491" stop-color="#d80000"/><stop offset="0.506" stop-color="#d60000"/><stop offset="0.522" stop-color="#d40000"/><stop offset="0.538" stop-color="#d20000"/><stop offset="0.554" stop-color="#d00000"/><stop offset="0.570" stop-color="#ce0000"/><stop offset="0.585" stop-color="#cd0000"/><stop offset="0.601" stop-color="#ce0000"/><stop offset="0.617" stop-color="#cf0000"/><stop offset="0.633" stop-color="#cf0000"/><stop offset="0.649" stop-color="#d00000"/><stop offset="0.665" stop-color="#d10000"/><stop offset="0.680" stop-color="#d10000"/><stop offset="0.696" stop-color="#d20000"/><stop offset="0.712" stop-color="#d30000"/><stop offset="0.728" stop-color="#d20000"/><stop offset="0.744" stop-color="#d10000"/><stop offset="0.759" stop-color="#cf0000"/><stop offset="0.775" stop-color="#cd0000"/><stop offset="0.791" stop-color="#cc0000"/><stop offset="0.807" stop-color="#ca0000"/><stop offset="0.823" stop-color="#c80000"/><stop offset="0.839" stop-color="#c70000"/><stop offset="0.854" stop-color="#c50000"/><stop offset="0.870" stop-color="#c40000"/><stop offset="0.886" stop-color="#c30000"/><stop offset="0.902" stop-color="#c20000"/><stop offset="0.918" stop-color="#c10000"/><stop offset="0.934" stop-color="#c10000"/><stop offset="0.949" stop-color="#c00000"/><stop offset="0.965" stop-color="#bf0000"/><stop offset="0.981" stop-color="#be0000"/><stop offset="0.997" stop-color="#be0000"/><stop offset="1.000" stop-color="#bd0000"/></linearGradient><linearGradient id="g142" gradientUnits="userSpaceOnUse" x1="59.3" x2="312.1" y1="0" y2="0"><stop offset="0.000" stop-color="#ffa800"/><stop offset="0.016" stop-color="#ff9f00"/><stop offset="0.032" stop-color="#ff9400"/><stop offset="0.047" stop-color="#ff8a00"/><stop offset="0.063" stop-color="#ff7f00"/><stop offset="0.079" stop-color="#ff7500"/><stop offset="0.095" stop-color="#ff6a00"/><stop offset="0.111" stop-color="#ff5f00"/><stop offset="0.127" stop-color="#ff5500"/><stop offset="0.142" stop-color="#ff4a00"/><stop offset="0.158" stop-color="#ff4000"/><stop offset="0.174" stop-color="#ff3c00"/><stop offset="0.190" stop-color="#ff3900"/><stop offset="0.206" stop-color="#ff3500"/><stop offset="0.222" stop-color="#ff3200"/><stop offset="0.237" stop-color="#ff2f00"/><stop offset="0.253" stop-color="#ff2c00"/><stop offset="0.269" stop-color="#ff2900"/><stop offset="0.285" stop-color="#ff2600"/><stop offset="0.301" stop-color="#ff2200"/><stop offset="0.316" stop-color="#ff1b00"/><stop offset="0.332" stop-color="#ff1300"/><stop offset="0.348" stop-color="#ff0b00"/><stop offset="0.364" stop-color="#ff0300"/><stop offset="0.380" stop-color="#fa0000"/><stop offset="0.396" stop-color="#f20000"/><stop offset="0.411" stop-color="#eb0000"/><stop offset="0.427" stop-color="#e30000"/><stop offset="0.443" stop-color="#dc0000"/><stop offset="0.459" stop-color="#da0000"/><stop offset="0.475" stop-color="#d80000"/><stop offset="0.491" stop-color="#d60000"/><stop offset="0.506" stop-color="#d50000"/><stop offset="0.522" stop-color="#d30000"/><stop offset="0.538" stop-color="#d10000"/><stop offset="0.554" stop-color="#cf0000"/><stop offset="0.570" stop-color="#cd0000"/><stop offset="0.585" stop-color="#cc0000"/><stop offset="0.601" stop-color="#cd0000"/><stop offset="0.617" stop-color="#ce0000"/><stop offset="0.633" stop-color="#ce0000"/><stop offset="0.649" stop-color="#cf0000"/><stop offset="0.665" stop-color="#d00000"/><stop offset="0.680" stop-color="#d00000"/><stop offset="0.696" stop-color="#d10000"/><stop offset="0.712" stop-color="#d20000"/><stop offset="0.728" stop-color="#d10000"/><stop offset="0.744" stop-color="#d00000"/><stop offset="0.759" stop-color="#ce0000"/><stop offset="0.775" stop-color="#cc0000"/><stop offset="0.791" stop-color="#cb0000"/><stop offset="0.807" stop-color="#c90000"/><stop offset="0.823" stop-color="#c70000"/><stop offset="0.839" stop-color="#c60000"/><stop offset="0.854" stop-color="#c40000"/><stop offset="0.870" stop-color="#c20000"/><stop offset="0.886" stop-color="#c20000"/><stop offset="0.902" stop-color="#c10000"/><stop offset="0.918" stop-color="#c00000"/><stop offset="0.934" stop-color="#bf0000"/><stop offset="0.949" stop-color="#bf0000"/><stop offset="0.965" stop-color="#be0000"/><stop offset="0.981" stop-color="#bd0000"/><stop offset="0.997" stop-color="#bc0000"/><stop offset="1.000" stop-color="#bc0000"/></linearGradient><linearGradient id="g144" gradientUnits="userSpaceOnUse" x1="59.3" x2="312.1" y1="0" y2="0"><stop offset="0.000" stop-color="#ffb000"/><stop offset="0.016" stop-color="#ffa600"/><stop offset="0.032" stop-color="#ff9a00"/><stop offset="0.047" stop-color="#ff8f00"/><stop offset="0.063" stop-color="#ff8400"/><stop offset="0.079" stop-color="#ff7800"/><stop offset="0.095" stop-color="#ff6d00"/><stop offset="0.111" stop-color="#ff6100"/><stop offset="0.127" stop-color="#ff5600"/><stop offset="0.142" stop-color="#ff4a00"/><stop offset="0.158" stop-color="#ff3f00"/><stop offset="0.174" stop-color="#ff3b00"/><stop offset="0.190" stop-color="#ff3800"/><stop offset="0.206" stop-color="#ff3400"/><stop offset="0.222" stop-color="#ff3100"/><stop offset="0.237" stop-color="#ff2d00"/><stop offset="0.253" stop-color="#ff2a00"/><stop offset="0.269" stop-color="#ff2700"/><stop offset="0.285" stop-color="#ff2400"/><stop offset="0.301" stop-color="#ff2000"/><stop offset="0.316" stop-color="#ff1900"/><stop offset="0.332" stop-color="#ff1100"/><stop offset="0.348" stop-color="#ff0900"/><stop offset="0.364" stop-color="#ff0100"/><stop offset="0.380" stop-color="#f90000"/><stop offset="0.396" stop-color="#f10000"/><stop offset="0.411" stop-color="#e90000"/><stop offset="0.427" stop-color="#e10000"/><stop offset="0.443" stop-color="#da0000"/><stop offset="0.459" stop-color="#d80000"/><stop offset="0.475" stop-color="#d70000"/><stop offset="0.491" stop-color="#d50000"/><stop offset="0.506" stop-color="#d30000"/><stop offset="0.522" stop-color="#d10000"/><stop offset="0.538" stop-color="#d00000"/><stop offset="0.554" stop-color="#ce0000"/><stop offset="0.570" stop-color="#cc0000"/><stop offset="0.585" stop-color="#cb0000"/><stop offset="0.601" stop-color="#cc0000"/><stop offset="0.617" stop-color="#cc0000"/><stop offset="0.633" stop-color="#cd0000"/><stop offset="0.649" stop-color="#ce0000"/><stop offset="0.665" stop-color="#cf0000"/><stop offset="0.680" stop-color="#cf0000"/><stop offset="0.696" stop-color="#d00000"/><stop offset="0.712" stop-color="#d10000"/><stop offset="0.728" stop-color="#d00000"/><stop offset="0.744" stop-color="#cf0000"/><stop offset="0.759" stop-color="#cd0000"/><stop offset="0.775" stop-color="#cb0000"/><stop offset="0.791" stop-color="#ca0000"/><stop offset="0.807" stop-color="#c80000"/><stop offset="0.823" stop-color="#c60000"/><stop offset="0.839" stop-color="#c50000"/><stop offset="0.854" stop-color="#c30000"/><stop offset="0.870" stop-color="#c10000"/><stop offset="0.886" stop-color="#c10000"/><stop offset="0.902" stop-color="#c00000"/><stop offset="0.918" stop-color="#bf0000"/><stop offset="0.934" stop-color="#be0000"/><stop offset="0.949" stop-color="#be0000"/><stop offset="0.965" stop-color="#bd0000"/><stop offset="0.981" stop-color="#bc0000"/><stop offset="0.997" stop-color="#bb0000"/><stop offset="1.000" stop-color="#bb0000"/></linearGradient><linearGradient id="g146" gradientUnits="userSpaceOnUse" x1="59.3" x2="312.1" y1="0" y2="0"><stop offset="0.000" stop-color="#ffb900"/><stop offset="0.016" stop-color="#ffaf00"/><stop offset="0.032" stop-color="#ffa300"/><stop offset="0.047" stop-color="#ff9700"/><stop offset="0.063" stop-color="#ff8b00"/><stop offset="0.079" stop-color="#ff7f00"/><stop offset="0.095" stop-color="#ff7300"/><stop offset="0.111" stop-color="#ff6700"/><stop offset="0.127" stop-color="#ff5b00"/><stop offset="0.142" stop-color="#ff4f00"/><stop offset="0.158" stop-color="#ff4300"/><stop offset="0.174" stop-color="#ff3e00"/><stop offset="0.190" stop-color="#ff3a00"/><stop offset="0.206" stop-color="#ff3500"/><stop offset="0.222" stop-color="#ff3100"/><stop offset="0.237" stop-color="#ff2d00"/><stop offset="0.253" stop-color="#ff2900"/><stop offset="0.269" stop-color="#ff2500"/><stop offset="0.285" stop-color="#ff2100"/><stop offset="0.301" stop-color="#ff1d00"/><stop offset="0.316" stop-color="#ff1500"/><stop offset="0.332" stop-color="#ff0e00"/><stop offset="0.348" stop-color="#ff0600"/><stop offset="0.364" stop-color="#fe0000"/><stop offset="0.380" stop-color="#f60000"/><stop offset="0.396" stop-color="#ee0000"/><stop offset="0.411" stop-color="#e70000"/><stop offset="0.427" stop-color="#df0000"/><stop offset="0.443" stop-color="#d90000"/><stop offset="0.459" stop-color="#d70000"/><stop offset="0.475" stop-color="#d50000"/><stop offset="0.491" stop-color="#d30000"/><stop offset="0.506" stop-color="#d20000"/><stop offset="0.522" stop-color="#d00000"/><stop offset="0.538" stop-color="#ce0000"/><stop offset="0.554" stop-color="#cd0000"/><stop offset="0.570" stop-color="#cb0000"/><stop offset="0.585" stop-color="#ca0000"/><stop offset="0.601" stop-color="#ca0000"/><stop offset="0.617" stop-color="#cb0000"/><stop offset="0.633" stop-color="#cc0000"/><stop offset="0.649" stop-color="#cd0000"/><stop offset="0.665" stop-color="#cd0000"/><stop offset="0.680" stop-color="#ce0000"/><stop offset="0.696" stop-color="#cf0000"/><stop offset="0.712" stop-color="#cf0000"/><stop offset="0.728" stop-color="#cf0000"/><stop offset="0.744" stop-color="#cd0000"/><stop offset="0.759" stop-color="#cc0000"/><stop offset="0.775" stop-color="#ca0000"/><stop offset="0.791" stop-color="#c80000"/><stop offset="0.807" stop-color="#c70000"/><stop offset="0.823" stop-color="#c50000"/><stop offset="0.839" stop-color="#c40000"/><stop offset="0.854" stop-color="#c20000"/><stop offset="0.870" stop-color="#c00000"/><stop offset="0.886" stop-color="#c00000"/><stop offset="0.902" stop-color="#bf0000"/><stop offset="0.918" stop-color="#be0000"/><stop offset="0.934" stop-color="#bd0000"/><stop offset="0.949" stop-color="#bd0000"/><stop offset="0.965" stop-color="#bc0000"/><stop offset="0.981" stop-color="#bb0000"/><stop offset="0.997" stop-color="#ba0000"/><stop offset="1.000" stop-color="#ba0000"/></linearGradient><linearGradient id="g148" gradientUnits="userSpaceOnUse" x1="59.3" x2="312.1" y1="0" y2="0"><stop offset="0.000" stop-color="#ffc300"/><stop offset="0.016" stop-color="#ffb800"/><stop offset="0.032" stop-color="#ffab00"/><stop offset="0.047" stop-color="#ff9e00"/><stop offset="0.063" stop-color="#ff9200"/><stop offset="0.079" stop-color="#ff8500"/><stop offset="0.095" stop-color="#ff7900"/><stop offset="0.111" stop-color="#ff6c00"/><stop offset="0.127" stop-color="#ff6000"/><stop offset="0.142" stop-color="#ff5300"/><stop offset="0.158" stop-color="#ff4700"/><stop offset="0.174" stop-color="#ff4100"/><stop offset="0.190" stop-color="#ff3c00"/><stop offset="0.206" stop-color="#ff3700"/><stop offset="0.222" stop-color="#ff3100"/><stop offset="0.237" stop-color="#ff2c00"/><stop offset="0.253" stop-color="#ff2800"/><stop offset="0.269" stop-color="#ff2300"/><stop offset="0.285" stop-color="#ff1e00"/><stop offset="0.301" stop-color="#ff1900"/><stop offset="0.316" stop-color="#ff1200"/><stop offset="0.332" stop-color="#ff0a00"/><stop offset="0.348" stop-color="#ff0300"/><stop offset="0.364" stop-color="#fb0000"/><stop offset="0.380" stop-color="#f30000"/><stop offset="0.396" stop-color="#ec0000"/><stop offset="0.411" stop-color="#e50000"/><stop offset="0.427" stop-color="#dd0000"/><stop offset="0.443" stop-color="#d70000"/><stop offset="0.459" stop-color="#d50000"/><stop offset="0.475" stop-color="#d40000"/><stop offset="0.491" stop-color="#d20000"/><stop offset="0.506" stop-color="#d00000"/><stop offset="0.522" stop-color="#cf0000"/><stop offset="0.538" stop-color="#cd0000"/><stop offset="0.554" stop-color="#cb0000"/><stop offset="0.570" stop-color="#ca0000"/><stop offset="0.585" stop-color="#c90000"/><stop offset="0.601" stop-color="#c90000"/><stop offset="0.617" stop-color="#ca0000"/><stop offset="0.633" stop-color="#cb0000"/><stop offset="0.649" stop-color="#cb0000"/><stop offset="0.665" stop-color="#cc0000"/><stop offset="0.680" stop-color="#cd0000"/><stop offset="0.696" stop-color="#cd0000"/><stop offset="0.712" stop-color="#ce0000"/><stop offset="0.728" stop-color="#ce0000"/><stop offset="0.744" stop-color="#cc0000"/><stop offset="0.759" stop-color="#ca0000"/><stop offset="0.775" stop-color="#c90000"/><stop offset="0.791" stop-color="#c70000"/><stop offset="0.807" stop-color="#c60000"/><stop offset="0.823" stop-color="#c40000"/><stop offset="0.839" stop-color="#c20000"/><stop offset="0.854" stop-color="#c10000"/><stop offset="0.870" stop-color="#bf0000"/><stop offset="0.886" stop-color="#bf0000"/><stop offset="0.902" stop-color="#be0000"/><stop offset="0.918" stop-color="#bd0000"/><stop offset="0.934" stop-color="#bd0000"/><stop offset="0.949" stop-color="#bc0000"/><stop offset="0.965" stop-color="#bb0000"/><stop offset="0.981" stop-color="#ba0000"/><stop offset="0.997" stop-color="#ba0000"/><stop offset="1.000" stop-color="#ba0000"/></linearGradient><linearGradient id="g150" gradientUnits="userSpaceOnUse" x1="59.3" x2="312.1" y1="0" y2="0"><stop offset="0.000" stop-color="#ffc900"/><stop offset="0.016" stop-color="#ffbe00"/><stop offset="0.032" stop-color="#ffb100"/><stop offset="0.047" stop-color="#ffa400"/><stop offset="0.063" stop-color="#ff9700"/><stop offset="0.079" stop-color="#ff8a00"/><stop offset="0.095" stop-color="#ff7e00"/><stop offset="0.111" stop-color="#ff7100"/><stop offset="0.127" stop-color="#ff6400"/><stop offset="0.142" stop-color="#ff5700"/><stop offset="0.158" stop-color="#ff4a00"/><stop offset="0.174" stop-color="#ff4400"/><stop offset="0.190" stop-color="#ff3e00"/><stop offset="0.206" stop-color="#ff3800"/><stop offset="0.222" stop-color="#ff3200"/><stop offset="0.237" stop-color="#ff2c00"/><stop offset="0.253" stop-color="#ff2600"/><stop offset="0.269" stop-color="#ff2100"/><stop offset="0.285" stop-color="#ff1b00"/><stop offset="0.301" stop-color="#ff1500"/><stop offset="0.316" stop-color="#ff0e00"/><stop offset="0.332" stop-color="#ff0700"/><stop offset="0.348" stop-color="#ff0000"/><stop offset="0.364" stop-color="#f80000"/><stop offset="0.380" stop-color="#f10000"/><stop offset="0.396" stop-color="#ea0000"/><stop offset="0.411" stop-color="#e30000"/><stop offset="0.427" stop-color="#dc0000"/><stop offset="0.443" stop-color="#d50000"/><stop offset="0.459" stop-color="#d40000"/><stop offset="0.475" stop-color="#d20000"/><stop offset="0.491" stop-color="#d10000"/><stop offset="0.506" stop-color="#cf0000"/><stop offset="0.522" stop-color="#cd0000"/><stop offset="0.538" stop-color="#cc0000"/><stop offset="0.554" stop-color="#ca0000"/><stop offset="0.570" stop-color="#c80000"/><stop offset="0.585" stop-color="#c70000"/><stop offset="0.601" stop-color="#c80000"/><stop offset="0.617" stop-color="#c90000"/><stop offset="0.633" stop-color="#c90000"/><stop offset="0.649" stop-color="#ca0000"/><stop offset="0.665" stop-color="#cb0000"/><stop offset="0.680" stop-color="#cb0000"/><stop offset="0.696" stop-color="#cc0000"/><stop offset="0.712" stop-color="#cd0000"/><stop offset="0.728" stop-color="#cc0000"/><stop offset="0.744" stop-color="#cb0000"/><stop offset="0.759" stop-color="#c90000"/><stop offset="0.775" stop-color="#c80000"/><stop offset="0.791" stop-color="#c60000"/><stop offset="0.807" stop-color="#c50000"/><stop offset="0.823" stop-color="#c30000"/><stop offset="0.839" stop-color="#c10000"/><stop offset="0.854" stop-color="#c00000"/><stop offset="0.870" stop-color="#be0000"/><stop offset="0.886" stop-color="#be0000"/><stop offset="0.902" stop-color="#bd0000"/><stop offset="0.918" stop-color="#bc0000"/><stop offset="0.934" stop-color="#bc0000"/><stop offset="0.949" stop-color="#bb0000"/><stop offset="0.965" stop-color="#ba0000"/><stop offset="0.981" stop-color="#b90000"/><stop offset="0.997" stop-color="#b90000"/><stop offset="1.000" stop-color="#b90000"/></linearGradient><linearGradient id="g152" gradientUnits="userSpaceOnUse" x1="59.3" x2="312.1" y1="0" y2="0"><stop offset="0.000" stop-color="#ffcf00"/><stop offset="0.016" stop-color="#ffc300"/><stop offset="0.032" stop-color="#ffb600"/><stop offset="0.047" stop-color="#ffa800"/><stop offset="0.063" stop-color="#ff9b00"/><stop offset="0.079" stop-color="#ff8d00"/><stop offset="0.095" stop-color="#ff8000"/><stop offset="0.111" stop-color="#ff7200"/><stop offset="0.127" stop-color="#ff6500"/><stop offset="0.142" stop-color="#ff5700"/><stop offset="0.158" stop-color="#ff4a00"/><stop offset="0.174" stop-color="#ff4300"/><stop offset="0.190" stop-color="#ff3c00"/><stop offset="0.206" stop-color="#ff3600"/><stop offset="0.222" stop-color="#ff3000"/><stop offset="0.237" stop-color="#ff2900"/><stop offset="0.253" stop-color="#ff2300"/><stop offset="0.269" stop-color="#ff1d00"/><stop offset="0.285" stop-color="#ff1700"/><stop offset="0.301" stop-color="#ff1100"/><stop offset="0.316" stop-color="#ff0b00"/><stop offset="0.332" stop-color="#ff0400"/><stop offset="0.348" stop-color="#fc0000"/><stop offset="0.364" stop-color="#f50000"/><stop offset="0.380" stop-color="#ee0000"/><stop offset="0.396" stop-color="#e70000"/><stop offset="0.411" stop-color="#e10000"/><stop offset="0.427" stop-color="#da0000"/><stop offset="0.443" stop-color="#d40000"/><stop offset="0.459" stop-color="#d20000"/><stop offset="0.475" stop-color="#d10000"/><stop offset="0.491" stop-color="#cf0000"/><stop offset="0.506" stop-color="#ce0000"/><stop offset="0.522" stop-color="#cc0000"/><stop offset="0.538" stop-color="#ca0000"/><stop offset="0.554" stop-color="#c90000"/><stop offset="0.570" stop-color="#c70000"/><stop offset="0.585" stop-color="#c60000"/><stop offset="0.601" stop-color="#c70000"/><stop offset="0.617" stop-color="#c70000"/><stop offset="0.633" stop-color="#c80000"/><stop offset="0.649" stop-color="#c90000"/><stop offset="0.665" stop-color="#c90000"/><stop offset="0.680" stop-color="#ca0000"/><stop offset="0.696" stop-color="#cb0000"/><stop offset="0.712" stop-color="#cb0000"/><stop offset="0.728" stop-color="#cb0000"/><stop offset="0.744" stop-color="#c90000"/><stop offset="0.759" stop-color="#c80000"/><stop offset="0.775" stop-color="#c60000"/><stop offset="0.791" stop-color="#c50000"/><stop offset="0.807" stop-color="#c30000"/><stop offset="0.823" stop-color="#c20000"/><stop offset="0.839" stop-color="#c00000"/><stop offset="0.854" stop-color="#bf0000"/><stop offset="0.870" stop-color="#bd0000"/><stop offset="0.886" stop-color="#bd0000"/><stop offset="0.902" stop-color="#bc0000"/><stop offset="0.918" stop-color="#bb0000"/><stop offset="0.934" stop-color="#bb0000"/><stop offset="0.949" stop-color="#ba0000"/><stop offset="0.965" stop-color="#b90000"/><stop offset="0.981" stop-color="#b90000"/><stop offset="0.997" stop-color="#b80000"/><stop offset="1.000" stop-color="#b80000"/></linearGradient><linearGradient id="g154" gradientUnits="userSpaceOnUse" x1="59.3" x2="312.1" y1="0" y2="0"><stop offset="0.000" stop-color="#ffce00"/><stop offset="0.016" stop-color="#ffc200"/><stop offset="0.032" stop-color="#ffb400"/><stop offset="0.047" stop-color="#ffa600"/><stop offset="0.063" stop-color="#ff9800"/><stop offset="0.079" stop-color="#ff8a00"/><stop offset="0.095" stop-color="#ff7c00"/><stop offset="0.111" stop-color="#ff6e00"/><stop offset="0.127" stop-color="#ff6000"/><stop offset="0.142" stop-color="#ff5200"/><stop offset="0.158" stop-color="#ff4400"/><stop offset="0.174" stop-color="#ff3e00"/><stop offset="0.190" stop-color="#ff3800"/><stop offset="0.206" stop-color="#ff3300"/><stop offset="0.222" stop-color="#ff2d00"/><stop offset="0.237" stop-color="#ff2800"/><stop offset="0.253" stop-color="#ff2300"/><stop offset="0.269" stop-color="#ff1e00"/><stop offset="0.285" stop-color="#ff1800"/><stop offset="0.301" stop-color="#ff1300"/><stop offset="0.316" stop-color="#ff0c00"/><stop offset="0.332" stop-color="#ff0500"/><stop offset="0.348" stop-color="#fd0000"/><stop offset="0.364" stop-color="#f60000"/><stop offset="0.380" stop-color="#ef0000"/><stop offset="0.396" stop-color="#e80000"/><stop offset="0.411" stop-color="#e10000"/><stop offset="0.427" stop-color="#da0000"/><stop offset="0.443" stop-color="#d40000"/><stop offset="0.459" stop-color="#d20000"/><stop offset="0.475" stop-color="#d10000"/><stop offset="0.491" stop-color="#cf0000"/><stop offset="0.506" stop-color="#cd0000"/><stop offset="0.522" stop-color="#cc0000"/><stop offset="0.538" stop-color="#ca0000"/><stop offset="0.554" stop-color="#c80000"/><stop offset="0.570" stop-color="#c70000"/><stop offset="0.585" stop-color="#c60000"/><stop offset="0.601" stop-color="#c60000"/><stop offset="0.617" stop-color="#c70000"/><stop offset="0.633" stop-color="#c80000"/><stop offset="0.649" stop-color="#c80000"/><stop offset="0.665" stop-color="#c90000"/><stop offset="0.680" stop-color="#ca0000"/><stop offset="0.696" stop-color="#ca0000"/><stop offset="0.712" stop-color="#cb0000"/><stop offset="0.728" stop-color="#cb0000"/><stop offset="0.744" stop-color="#c90000"/><stop offset="0.759" stop-color="#c80000"/><stop offset="0.775" stop-color="#c60000"/><stop offset="0.791" stop-color="#c40000"/><stop offset="0.807" stop-color="#c30000"/><stop offset="0.823" stop-color="#c10000"/><stop offset="0.839" stop-color="#c00000"/><stop offset="0.854" stop-color="#be0000"/><stop offset="0.870" stop-color="#bd0000"/><stop offset="0.886" stop-color="#bc0000"/><stop offset="0.902" stop-color="#bb0000"/><stop offset="0.918" stop-color="#bb0000"/><stop offset="0.934" stop-color="#ba0000"/><stop offset="0.949" stop-color="#b90000"/><stop offset="0.965" stop-color="#b80000"/><stop offset="0.981" stop-color="#b80000"/><stop offset="0.997" stop-color="#b70000"/><stop offset="1.000" stop-color="#b70000"/></linearGradient><linearGradient id="g156" gradientUnits="userSpaceOnUse" x1="59.3" x2="312.1" y1="0" y2="0"><stop offset="0.000" stop-color="#ffcd00"/><stop offset="0.016" stop-color="#ffc000"/><stop offset="0.032" stop-color="#ffb200"/><stop offset="0.047" stop-color="#ffa300"/><stop offset="0.063" stop-color="#ff9500"/><stop offset="0.079" stop-color="#ff8600"/><stop offset="0.095" stop-color="#ff7800"/><stop offset="0.111" stop-color="#ff6900"/><stop offset="0.127" stop-color="#ff5b00"/><stop offset="0.142" stop-color="#ff4c00"/><stop offset="0.158" stop-color="#ff3e00"/><stop offset="0.174" stop-color="#ff3900"/><stop offset="0.190" stop-color="#ff3400"/><stop offset="0.206" stop-color="#ff2f00"/><stop offset="0.222" stop-color="#ff2b00"/><stop offset="0.237" stop-color="#ff2700"/><stop offset="0.253" stop-color="#ff2200"/><stop offset="0.269" stop-color="#ff1e00"/><stop offset="0.285" stop-color="#ff1a00"/><stop offset="0.301" stop-color="#ff1500"/><stop offset="0.316" stop-color="#ff0e00"/><stop offset="0.332" stop-color="#ff0700"/><stop offset="0.348" stop-color="#ff0000"/><stop offset="0.364" stop-color="#f70000"/><stop offset="0.380" stop-color="#f00000"/><stop offset="0.396" stop-color="#e90000"/><stop offset="0.411" stop-color="#e20000"/><stop offset="0.427" stop-color="#da0000"/><stop offset="0.443" stop-color="#d40000"/><stop offset="0.459" stop-color="#d20000"/><stop offset="0.475" stop-color="#d10000"/><stop offset="0.491" stop-color="#cf0000"/><stop offset="0.506" stop-color="#cd0000"/><stop offset="0.522" stop-color="#cc0000"/><stop offset="0.538" stop-color="#ca0000"/><stop offset="0.554" stop-color="#c80000"/><stop offset="0.570" stop-color="#c60000"/><stop offset="0.585" stop-color="#c50000"/><stop offset="0.601" stop-color="#c60000"/><stop offset="0.617" stop-color="#c70000"/><stop offset="0.633" stop-color="#c70000"/><stop offset="0.649" stop-color="#c80000"/><stop offset="0.665" stop-color="#c90000"/><stop offset="0.680" stop-color="#c90000"/><stop offset="0.696" stop-color="#ca0000"/><stop offset="0.712" stop-color="#cb0000"/><stop offset="0.728" stop-color="#cb0000"/><stop offset="0.744" stop-color="#c90000"/><stop offset="0.759" stop-color="#c70000"/><stop offset="0.775" stop-color="#c60000"/><stop offset="0.791" stop-color="#c40000"/><stop offset="0.807" stop-color="#c20000"/><stop offset="0.823" stop-color="#c10000"/><stop offset="0.839" stop-color="#bf0000"/><stop offset="0.854" stop-color="#be0000"/><stop offset="0.870" stop-color="#bc0000"/><stop offset="0.886" stop-color="#bb0000"/><stop offset="0.902" stop-color="#bb0000"/><stop offset="0.918" stop-color="#ba0000"/><stop offset="0.934" stop-color="#b90000"/><stop offset="0.949" stop-color="#b80000"/><stop offset="0.965" stop-color="#b80000"/><stop offset="0.981" stop-color="#b70000"/><stop offset="0.997" stop-color="#b60000"/><stop offset="1.000" stop-color="#b60000"/></linearGradient><linearGradient id="g158" gradientUnits="userSpaceOnUse" x1="59.3" x2="312.1" y1="0" y2="0"><stop offset="0.000" stop-color="#ffca00"/><stop offset="0.016" stop-color="#ffbd00"/><stop offset="0.032" stop-color="#ffae00"/><stop offset="0.047" stop-color="#ff9f00"/><stop offset="0.063" stop-color="#ff9100"/><stop offset="0.079" stop-color="#ff8200"/><stop offset="0.095" stop-color="#ff7300"/><stop offset="0.111" stop-color="#ff6400"/><stop offset="0.127" stop-color="#ff5500"/><stop offset="0.142" stop-color="#ff4600"/><stop offset="0.158" stop-color="#ff3800"/><stop offset="0.174" stop-color="#ff3300"/><stop offset="0.190" stop-color="#ff3000"/><stop offset="0.206" stop-color="#ff2c00"/><stop offset="0.222" stop-color="#ff2900"/><stop offset="0.237" stop-color="#ff2500"/><stop offset="0.253" stop-color="#ff2200"/><stop offset="0.269" stop-color="#ff1e00"/><stop offset="0.285" stop-color="#ff1b00"/><stop offset="0.301" stop-color="#ff1800"/><stop offset="0.316" stop-color="#ff1000"/><stop offset="0.332" stop-color="#ff0900"/><stop offset="0.348" stop-color="#ff0100"/><stop offset="0.364" stop-color="#f90000"/><stop offset="0.380" stop-color="#f10000"/><stop offset="0.396" stop-color="#ea0000"/><stop offset="0.411" stop-color="#e20000"/><stop offset="0.427" stop-color="#db0000"/><stop offset="0.443" stop-color="#d40000"/><stop offset="0.459" stop-color="#d20000"/><stop offset="0.475" stop-color="#d10000"/><stop offset="0.491" stop-color="#cf0000"/><stop offset="0.506" stop-color="#cd0000"/><stop offset="0.522" stop-color="#cb0000"/><stop offset="0.538" stop-color="#ca0000"/><stop offset="0.554" stop-color="#c80000"/><stop offset="0.570" stop-color="#c60000"/><stop offset="0.585" stop-color="#c50000"/><stop offset="0.601" stop-color="#c60000"/><stop offset="0.617" stop-color="#c60000"/><stop offset="0.633" stop-color="#c70000"/><stop offset="0.649" stop-color="#c80000"/><stop offset="0.665" stop-color="#c90000"/><stop offset="0.680" stop-color="#c90000"/><stop offset="0.696" stop-color="#ca0000"/><stop offset="0.712" stop-color="#cb0000"/><stop offset="0.728" stop-color="#ca0000"/><stop offset="0.744" stop-color="#c90000"/><stop offset="0.759" stop-color="#c70000"/><stop offset="0.775" stop-color="#c50000"/><stop offset="0.791" stop-color="#c40000"/><stop offset="0.807" stop-color="#c20000"/><stop offset="0.823" stop-color="#c00000"/><stop offset="0.839" stop-color="#bf0000"/><stop offset="0.854" stop-color="#bd0000"/><stop offset="0.870" stop-color="#bb0000"/><stop offset="0.886" stop-color="#bb0000"/><stop offset="0.902" stop-color="#ba0000"/><stop offset="0.918" stop-color="#b90000"/><stop offset="0.934" stop-color="#b80000"/><stop offset="0.949" stop-color="#b80000"/><stop offset="0.965" stop-color="#b70000"/><stop offset="0.981" stop-color="#b60000"/><stop offset="0.997" stop-color="#b50000"/><stop offset="1.000" stop-color="#b50000"/></linearGradient><linearGradient id="g160" gradientUnits="userSpaceOnUse" x1="59.3" x2="312.1" y1="0" y2="0"><stop offset="0.000" stop-color="#ffc400"/><stop offset="0.016" stop-color="#ffb800"/><stop offset="0.032" stop-color="#ffa900"/><stop offset="0.047" stop-color="#ff9b00"/><stop offset="0.063" stop-color="#ff8c00"/><stop offset="0.079" stop-color="#ff7d00"/><stop offset="0.095" stop-color="#ff6f00"/><stop offset="0.111" stop-color="#ff6000"/><stop offset="0.127" stop-color="#ff5200"/><stop offset="0.142" stop-color="#ff4300"/><stop offset="0.158" stop-color="#ff3500"/><stop offset="0.174" stop-color="#ff3100"/><stop offset="0.190" stop-color="#ff2d00"/><stop offset="0.206" stop-color="#ff2a00"/><stop offset="0.222" stop-color="#ff2600"/><stop offset="0.237" stop-color="#ff2300"/><stop offset="0.253" stop-color="#ff1f00"/><stop offset="0.269" stop-color="#ff1c00"/><stop offset="0.285" stop-color="#ff1900"/><stop offset="0.301" stop-color="#ff1500"/><stop offset="0.316" stop-color="#ff0e00"/><stop offset="0.332" stop-color="#ff0700"/><stop offset="0.348" stop-color="#fe0000"/><stop offset="0.364" stop-color="#f70000"/><stop offset="0.380" stop-color="#f00000"/><stop offset="0.396" stop-color="#e80000"/><stop offset="0.411" stop-color="#e10000"/><stop offset="0.427" stop-color="#d90000"/><stop offset="0.443" stop-color="#d30000"/><stop offset="0.459" stop-color="#d10000"/><stop offset="0.475" stop-color="#cf0000"/><stop offset="0.491" stop-color="#ce0000"/><stop offset="0.506" stop-color="#cc0000"/><stop offset="0.522" stop-color="#ca0000"/><stop offset="0.538" stop-color="#c80000"/><stop offset="0.554" stop-color="#c70000"/><stop offset="0.570" stop-color="#c50000"/><stop offset="0.585" stop-color="#c40000"/><stop offset="0.601" stop-color="#c40000"/><stop offset="0.617" stop-color="#c50000"/><stop offset="0.633" stop-color="#c60000"/><stop offset="0.649" stop-color="#c70000"/><stop offset="0.665" stop-color="#c70000"/><stop offset="0.680" stop-color="#c80000"/><stop offset="0.696" stop-color="#c90000"/><stop offset="0.712" stop-color="#c90000"/><stop offset="0.728" stop-color="#c90000"/><stop offset="0.744" stop-color="#c70000"/><stop offset="0.759" stop-color="#c60000"/><stop offset="0.775" stop-color="#c40000"/><stop offset="0.791" stop-color="#c20000"/><stop offset="0.807" stop-color="#c10000"/><stop offset="0.823" stop-color="#bf0000"/><stop offset="0.839" stop-color="#bd0000"/><stop offset="0.854" stop-color="#bc0000"/><stop offset="0.870" stop-color="#ba0000"/><stop offset="0.886" stop-color="#b90000"/><stop offset="0.902" stop-color="#b90000"/><stop offset="0.918" stop-color="#b80000"/><stop offset="0.934" stop-color="#b70000"/><stop offset="0.949" stop-color="#b60000"/><stop offset="0.965" stop-color="#b60000"/><stop offset="0.981" stop-color="#b50000"/><stop offset="0.997" stop-color="#b40000"/><stop offset="1.000" stop-color="#b40000"/></linearGradient><linearGradient id="g162" gradientUnits="userSpaceOnUse" x1="59.3" x2="312.1" y1="0" y2="0"><stop offset="0.000" stop-color="#ffbf00"/><stop offset="0.016" stop-color="#ffb300"/><stop offset="0.032" stop-color="#ffa600"/><stop offset="0.047" stop-color="#ff9900"/><stop offset="0.063" stop-color="#ff8c00"/><stop offset="0.079" stop-color="#ff7f00"/><stop offset="0.095" stop-color="#ff7200"/><stop offset="0.111" stop-color="#ff6500"/><stop offset="0.127" stop-color="#ff5800"/><stop offset="0.142" stop-color="#ff4a00"/><stop offset="0.158" stop-color="#ff3d00"/><stop offset="0.174" stop-color="#ff3800"/><stop offset="0.190" stop-color="#ff3300"/><stop offset="0.206" stop-color="#ff2e00"/><stop offset="0.222" stop-color="#ff2900"/><stop offset="0.237" stop-color="#ff2500"/><stop offset="0.253" stop-color="#ff2000"/><stop offset="0.269" stop-color="#ff1b00"/><stop offset="0.285" stop-color="#ff1700"/><stop offset="0.301" stop-color="#ff1200"/><stop offset="0.316" stop-color="#ff0b00"/><stop offset="0.332" stop-color="#ff0400"/><stop offset="0.348" stop-color="#fc0000"/><stop offset="0.364" stop-color="#f40000"/><stop offset="0.380" stop-color="#ed0000"/><stop offset="0.396" stop-color="#e60000"/><stop offset="0.411" stop-color="#df0000"/><stop offset="0.427" stop-color="#d70000"/><stop offset="0.443" stop-color="#d10000"/><stop offset="0.459" stop-color="#cf0000"/><stop offset="0.475" stop-color="#ce0000"/><stop offset="0.491" stop-color="#cc0000"/><stop offset="0.506" stop-color="#ca0000"/><stop offset="0.522" stop-color="#c90000"/><stop offset="0.538" stop-color="#c70000"/><stop offset="0.554" stop-color="#c50000"/><stop offset="0.570" stop-color="#c30000"/><stop offset="0.585" stop-color="#c20000"/><stop offset="0.601" stop-color="#c30000"/><stop offset="0.617" stop-color="#c40000"/><stop offset="0.633" stop-color="#c40000"/><stop offset="0.649" stop-color="#c50000"/><stop offset="0.665" stop-color="#c60000"/><stop offset="0.680" stop-color="#c60000"/><stop offset="0.696" stop-color="#c70000"/><stop offset="0.712" stop-color="#c80000"/><stop offset="0.728" stop-color="#c80000"/><stop offset="0.744" stop-color="#c60000"/><stop offset="0.759" stop-color="#c40000"/><stop offset="0.775" stop-color="#c30000"/><stop offset="0.791" stop-color="#c10000"/><stop offset="0.807" stop-color="#bf0000"/><stop offset="0.823" stop-color="#be0000"/><stop offset="0.839" stop-color="#bc0000"/><stop offset="0.854" stop-color="#ba0000"/><stop offset="0.870" stop-color="#b90000"/><stop offset="0.886" stop-color="#b80000"/><stop offset="0.902" stop-color="#b70000"/><stop offset="0.918" stop-color="#b70000"/><stop offset="0.934" stop-color="#b60000"/><stop offset="0.949" stop-color="#b50000"/><stop offset="0.965" stop-color="#b40000"/><stop offset="0.981" stop-color="#b40000"/><stop offset="0.997" stop-color="#b30000"/><stop offset="1.000" stop-color="#b30000"/></linearGradient><linearGradient id="g164" gradientUnits="userSpaceOnUse" x1="59.3" x2="312.1" y1="0" y2="0"><stop offset="0.000" stop-color="#ffb900"/><stop offset="0.016" stop-color="#ffaf00"/><stop offset="0.032" stop-color="#ffa300"/><stop offset="0.047" stop-color="#ff9700"/><stop offset="0.063" stop-color="#ff8b00"/><stop offset="0.079" stop-color="#ff7f00"/><stop offset="0.095" stop-color="#ff7400"/><stop offset="0.111" stop-color="#ff6800"/><stop offset="0.127" stop-color="#ff5c00"/><stop offset="0.142" stop-color="#ff5000"/><stop offset="0.158" stop-color="#ff4500"/><stop offset="0.174" stop-color="#ff3e00"/><stop offset="0.190" stop-color="#ff3800"/><stop offset="0.206" stop-color="#ff3200"/><stop offset="0.222" stop-color="#ff2c00"/><stop offset="0.237" stop-color="#ff2600"/><stop offset="0.253" stop-color="#ff2000"/><stop offset="0.269" stop-color="#ff1a00"/><stop offset="0.285" stop-color="#ff1500"/><stop offset="0.301" stop-color="#ff0f00"/><stop offset="0.316" stop-color="#ff0800"/><stop offset="0.332" stop-color="#ff0100"/><stop offset="0.348" stop-color="#f90000"/><stop offset="0.364" stop-color="#f20000"/><stop offset="0.380" stop-color="#eb0000"/><stop offset="0.396" stop-color="#e40000"/><stop offset="0.411" stop-color="#dd0000"/><stop offset="0.427" stop-color="#d60000"/><stop offset="0.443" stop-color="#cf0000"/><stop offset="0.459" stop-color="#ce0000"/><stop offset="0.475" stop-color="#cc0000"/><stop offset="0.491" stop-color="#ca0000"/><stop offset="0.506" stop-color="#c90000"/><stop offset="0.522" stop-color="#c70000"/><stop offset="0.538" stop-color="#c50000"/><stop offset="0.554" stop-color="#c40000"/><stop offset="0.570" stop-color="#c20000"/><stop offset="0.585" stop-color="#c10000"/><stop offset="0.601" stop-color="#c20000"/><stop offset="0.617" stop-color="#c20000"/><stop offset="0.633" stop-color="#c30000"/><stop offset="0.649" stop-color="#c40000"/><stop offset="0.665" stop-color="#c40000"/><stop offset="0.680" stop-color="#c50000"/><stop offset="0.696" stop-color="#c60000"/><stop offset="0.712" stop-color="#c60000"/><stop offset="0.728" stop-color="#c60000"/><stop offset="0.744" stop-color="#c40000"/><stop offset="0.759" stop-color="#c30000"/><stop offset="0.775" stop-color="#c10000"/><stop offset="0.791" stop-color="#c00000"/><stop offset="0.807" stop-color="#be0000"/><stop offset="0.823" stop-color="#bc0000"/><stop offset="0.839" stop-color="#bb0000"/><stop offset="0.854" stop-color="#b90000"/><stop offset="0.870" stop-color="#b80000"/><stop offset="0.886" stop-color="#b70000"/><stop offset="0.902" stop-color="#b60000"/><stop offset="0.918" stop-color="#b50000"/><stop offset="0.934" stop-color="#b50000"/><stop offset="0.949" stop-color="#b40000"/><stop offset="0.965" stop-color="#b30000"/><stop offset="0.981" stop-color="#b20000"/><stop offset="0.997" stop-color="#b20000"/><stop offset="1.000" stop-color="#b20000"/></linearGradient><linearGradient id="g166" gradientUnits="userSpaceOnUse" x1="59.3" x2="312.1" y1="0" y2="0"><stop offset="0.000" stop-color="#ffb300"/><stop offset="0.016" stop-color="#ffa900"/><stop offset="0.032" stop-color="#ff9d00"/><stop offset="0.047" stop-color="#ff9200"/><stop offset="0.063" stop-color="#ff8600"/><stop offset="0.079" stop-color="#ff7b00"/><stop offset="0.095" stop-color="#ff6f00"/><stop offset="0.111" stop-color="#ff6400"/><stop offset="0.127" stop-color="#ff5800"/><stop offset="0.142" stop-color="#ff4d00"/><stop offset="0.158" stop-color="#ff4100"/><stop offset="0.174" stop-color="#ff3b00"/><stop offset="0.190" stop-color="#ff3500"/><stop offset="0.206" stop-color="#ff2e00"/><stop offset="0.222" stop-color="#ff2800"/><stop offset="0.237" stop-color="#ff2200"/><stop offset="0.253" stop-color="#ff1d00"/><stop offset="0.269" stop-color="#ff1700"/><stop offset="0.285" stop-color="#ff1100"/><stop offset="0.301" stop-color="#ff0b00"/><stop offset="0.316" stop-color="#ff0500"/><stop offset="0.332" stop-color="#fd0000"/><stop offset="0.348" stop-color="#f60000"/><stop offset="0.364" stop-color="#ef0000"/><stop offset="0.380" stop-color="#e80000"/><stop offset="0.396" stop-color="#e10000"/><stop offset="0.411" stop-color="#db0000"/><stop offset="0.427" stop-color="#d40000"/><stop offset="0.443" stop-color="#ce0000"/><stop offset="0.459" stop-color="#cc0000"/><stop offset="0.475" stop-color="#ca0000"/><stop offset="0.491" stop-color="#c90000"/><stop offset="0.506" stop-color="#c70000"/><stop offset="0.522" stop-color="#c50000"/><stop offset="0.538" stop-color="#c40000"/><stop offset="0.554" stop-color="#c20000"/><stop offset="0.570" stop-color="#c00000"/><stop offset="0.585" stop-color="#bf0000"/><stop offset="0.601" stop-color="#c00000"/><stop offset="0.617" stop-color="#c10000"/><stop offset="0.633" stop-color="#c10000"/><stop offset="0.649" stop-color="#c20000"/><stop offset="0.665" stop-color="#c30000"/><stop offset="0.680" stop-color="#c30000"/><stop offset="0.696" stop-color="#c40000"/><stop offset="0.712" stop-color="#c50000"/><stop offset="0.728" stop-color="#c40000"/><stop offset="0.744" stop-color="#c30000"/><stop offset="0.759" stop-color="#c10000"/><stop offset="0.775" stop-color="#c00000"/><stop offset="0.791" stop-color="#be0000"/><stop offset="0.807" stop-color="#bd0000"/><stop offset="0.823" stop-color="#bb0000"/><stop offset="0.839" stop-color="#b90000"/><stop offset="0.854" stop-color="#b80000"/><stop offset="0.870" stop-color="#b60000"/><stop offset="0.886" stop-color="#b60000"/><stop offset="0.902" stop-color="#b50000"/><stop offset="0.918" stop-color="#b40000"/><stop offset="0.934" stop-color="#b30000"/><stop offset="0.949" stop-color="#b30000"/><stop offset="0.965" stop-color="#b20000"/><stop offset="0.981" stop-color="#b10000"/><stop offset="0.997" stop-color="#b10000"/><stop offset="1.000" stop-color="#b00000"/></linearGradient><linearGradient id="g168" gradientUnits="userSpaceOnUse" x1="59.3" x2="312.1" y1="0" y2="0"><stop offset="0.000" stop-color="#ffad00"/><stop offset="0.016" stop-color="#ffa300"/><stop offset="0.032" stop-color="#ff9800"/><stop offset="0.047" stop-color="#ff8d00"/><stop offset="0.063" stop-color="#ff8100"/><stop offset="0.079" stop-color="#ff7600"/><stop offset="0.095" stop-color="#ff6b00"/><stop offset="0.111" stop-color="#ff6000"/><stop offset="0.127" stop-color="#ff5400"/><stop offset="0.142" stop-color="#ff4900"/><stop offset="0.158" stop-color="#ff3e00"/><stop offset="0.174" stop-color="#ff3700"/><stop offset="0.190" stop-color="#ff3100"/><stop offset="0.206" stop-color="#ff2b00"/><stop offset="0.222" stop-color="#ff2500"/><stop offset="0.237" stop-color="#ff1f00"/><stop offset="0.253" stop-color="#ff1900"/><stop offset="0.269" stop-color="#ff1300"/><stop offset="0.285" stop-color="#ff0e00"/><stop offset="0.301" stop-color="#ff0800"/><stop offset="0.316" stop-color="#ff0100"/><stop offset="0.332" stop-color="#fa0000"/><stop offset="0.348" stop-color="#f30000"/><stop offset="0.364" stop-color="#ec0000"/><stop offset="0.380" stop-color="#e60000"/><stop offset="0.396" stop-color="#df0000"/><stop offset="0.411" stop-color="#d80000"/><stop offset="0.427" stop-color="#d20000"/><stop offset="0.443" stop-color="#cc0000"/><stop offset="0.459" stop-color="#ca0000"/><stop offset="0.475" stop-color="#c90000"/><stop offset="0.491" stop-color="#c70000"/><stop offset="0.506" stop-color="#c60000"/><stop offset="0.522" stop-color="#c40000"/><stop offset="0.538" stop-color="#c20000"/><stop offset="0.554" stop-color="#c10000"/><stop offset="0.570" stop-color="#bf0000"/><stop offset="0.585" stop-color="#be0000"/><stop offset="0.601" stop-color="#bf0000"/><stop offset="0.617" stop-color="#bf0000"/><stop offset="0.633" stop-color="#c00000"/><stop offset="0.649" stop-color="#c10000"/><stop offset="0.665" stop-color="#c10000"/><stop offset="0.680" stop-color="#c20000"/><stop offset="0.696" stop-color="#c30000"/><stop offset="0.712" stop-color="#c30000"/><stop offset="0.728" stop-color="#c30000"/><stop offset="0.744" stop-color="#c10000"/><stop offset="0.759" stop-color="#c00000"/><stop offset="0.775" stop-color="#be0000"/><stop offset="0.791" stop-color="#bd0000"/><stop offset="0.807" stop-color="#bb0000"/><stop offset="0.823" stop-color="#ba0000"/><stop offset="0.839" stop-color="#b80000"/><stop offset="0.854" stop-color="#b60000"/><stop offset="0.870" stop-color="#b50000"/><stop offset="0.886" stop-color="#b40000"/><stop offset="0.902" stop-color="#b40000"/><stop offset="0.918" stop-color="#b30000"/><stop offset="0.934" stop-color="#b20000"/><stop offset="0.949" stop-color="#b10000"/><stop offset="0.965" stop-color="#b10000"/><stop offset="0.981" stop-color="#b00000"/><stop offset="0.997" stop-color="#af0000"/><stop offset="1.000" stop-color="#af0000"/></linearGradient><linearGradient id="g170" gradientUnits="userSpaceOnUse" x1="59.3" x2="312.1" y1="0" y2="0"><stop offset="0.000" stop-color="#ffa800"/><stop offset="0.016" stop-color="#ff9e00"/><stop offset="0.032" stop-color="#ff9300"/><stop offset="0.047" stop-color="#ff8800"/><stop offset="0.063" stop-color="#ff7d00"/><stop offset="0.079" stop-color="#ff7200"/><stop offset="0.095" stop-color="#ff6700"/><stop offset="0.111" stop-color="#ff5b00"/><stop offset="0.127" stop-color="#ff5000"/><stop offset="0.142" stop-color="#ff4500"/><stop offset="0.158" stop-color="#ff3a00"/><stop offset="0.174" stop-color="#ff3400"/><stop offset="0.190" stop-color="#ff2d00"/><stop offset="0.206" stop-color="#ff2700"/><stop offset="0.222" stop-color="#ff2100"/><stop offset="0.237" stop-color="#ff1b00"/><stop offset="0.253" stop-color="#ff1500"/><stop offset="0.269" stop-color="#ff1000"/><stop offset="0.285" stop-color="#ff0a00"/><stop offset="0.301" stop-color="#ff0400"/><stop offset="0.316" stop-color="#fd0000"/><stop offset="0.332" stop-color="#f60000"/><stop offset="0.348" stop-color="#f00000"/><stop offset="0.364" stop-color="#ea0000"/><stop offset="0.380" stop-color="#e30000"/><stop offset="0.396" stop-color="#dd0000"/><stop offset="0.411" stop-color="#d60000"/><stop offset="0.427" stop-color="#d00000"/><stop offset="0.443" stop-color="#ca0000"/><stop offset="0.459" stop-color="#c90000"/><stop offset="0.475" stop-color="#c70000"/><stop offset="0.491" stop-color="#c50000"/><stop offset="0.506" stop-color="#c40000"/><stop offset="0.522" stop-color="#c20000"/><stop offset="0.538" stop-color="#c10000"/><stop offset="0.554" stop-color="#bf0000"/><stop offset="0.570" stop-color="#bd0000"/><stop offset="0.585" stop-color="#bc0000"/><stop offset="0.601" stop-color="#bd0000"/><stop offset="0.617" stop-color="#be0000"/><stop offset="0.633" stop-color="#be0000"/><stop offset="0.649" stop-color="#bf0000"/><stop offset="0.665" stop-color="#c00000"/><stop offset="0.680" stop-color="#c00000"/><stop offset="0.696" stop-color="#c10000"/><stop offset="0.712" stop-color="#c20000"/><stop offset="0.728" stop-color="#c10000"/><stop offset="0.744" stop-color="#c00000"/><stop offset="0.759" stop-color="#be0000"/><stop offset="0.775" stop-color="#bd0000"/><stop offset="0.791" stop-color="#bb0000"/><stop offset="0.807" stop-color="#ba0000"/><stop offset="0.823" stop-color="#b80000"/><stop offset="0.839" stop-color="#b60000"/><stop offset="0.854" stop-color="#b50000"/><stop offset="0.870" stop-color="#b30000"/><stop offset="0.886" stop-color="#b30000"/><stop offset="0.902" stop-color="#b20000"/><stop offset="0.918" stop-color="#b10000"/><stop offset="0.934" stop-color="#b10000"/><stop offset="0.949" stop-color="#b00000"/><stop offset="0.965" stop-color="#af0000"/><stop offset="0.981" stop-color="#af0000"/><stop offset="0.997" stop-color="#ae0000"/><stop offset="1.000" stop-color="#ae0000"/></linearGradient><linearGradient id="g172" gradientUnits="userSpaceOnUse" x1="59.3" x2="312.1" y1="0" y2="0"><stop offset="0.000" stop-color="#ffa300"/><stop offset="0.016" stop-color="#ff9900"/><stop offset="0.032" stop-color="#ff8e00"/><stop offset="0.047" stop-color="#ff8300"/><stop offset="0.063" stop-color="#ff7800"/><stop offset="0.079" stop-color="#ff6d00"/><stop offset="0.095" stop-color="#ff6200"/><stop offset="0.111" stop-color="#ff5700"/><stop offset="0.127" stop-color="#ff4c00"/><stop offset="0.142" stop-color="#ff4100"/><stop offset="0.158" stop-color="#ff3700"/><stop offset="0.174" stop-color="#ff3000"/><stop offset="0.190" stop-color="#ff2a00"/><stop offset="0.206" stop-color="#ff2400"/><stop offset="0.222" stop-color="#ff1d00"/><stop offset="0.237" stop-color="#ff1700"/><stop offset="0.253" stop-color="#ff1200"/><stop offset="0.269" stop-color="#ff0c00"/><stop offset="0.285" stop-color="#ff0600"/><stop offset="0.301" stop-color="#ff0000"/><stop offset="0.316" stop-color="#f90000"/><stop offset="0.332" stop-color="#f30000"/><stop offset="0.348" stop-color="#ed0000"/><stop offset="0.364" stop-color="#e60000"/><stop offset="0.380" stop-color="#e00000"/><stop offset="0.396" stop-color="#da0000"/><stop offset="0.411" stop-color="#d40000"/><stop offset="0.427" stop-color="#ce0000"/><stop offset="0.443" stop-color="#c80000"/><stop offset="0.459" stop-color="#c70000"/><stop offset="0.475" stop-color="#c50000"/><stop offset="0.491" stop-color="#c40000"/><stop offset="0.506" stop-color="#c20000"/><stop offset="0.522" stop-color="#c00000"/><stop offset="0.538" stop-color="#bf0000"/><stop offset="0.554" stop-color="#bd0000"/><stop offset="0.570" stop-color="#bc0000"/><stop offset="0.585" stop-color="#bb0000"/><stop offset="0.601" stop-color="#bb0000"/><stop offset="0.617" stop-color="#bc0000"/><stop offset="0.633" stop-color="#bd0000"/><stop offset="0.649" stop-color="#bd0000"/><stop offset="0.665" stop-color="#be0000"/><stop offset="0.680" stop-color="#be0000"/><stop offset="0.696" stop-color="#bf0000"/><stop offset="0.712" stop-color="#c00000"/><stop offset="0.728" stop-color="#bf0000"/><stop offset="0.744" stop-color="#be0000"/><stop offset="0.759" stop-color="#bc0000"/><stop offset="0.775" stop-color="#bb0000"/><stop offset="0.791" stop-color="#b90000"/><stop offset="0.807" stop-color="#b80000"/><stop offset="0.823" stop-color="#b60000"/><stop offset="0.839" stop-color="#b50000"/><stop offset="0.854" stop-color="#b30000"/><stop offset="0.870" stop-color="#b20000"/><stop offset="0.886" stop-color="#b10000"/><stop offset="0.902" stop-color="#b10000"/><stop offset="0.918" stop-color="#b00000"/><stop offset="0.934" stop-color="#af0000"/><stop offset="0.949" stop-color="#ae0000"/><stop offset="0.965" stop-color="#ae0000"/><stop offset="0.981" stop-color="#ad0000"/><stop offset="0.997" stop-color="#ac0000"/><stop offset="1.000" stop-color="#ac0000"/></linearGradient><linearGradient id="g174" gradientUnits="userSpaceOnUse" x1="59.3" x2="312.1" y1="0" y2="0"><stop offset="0.000" stop-color="#ff9e00"/><stop offset="0.016" stop-color="#ff9400"/><stop offset="0.032" stop-color="#ff8900"/><stop offset="0.047" stop-color="#ff7f00"/><stop offset="0.063" stop-color="#ff7400"/><stop offset="0.079" stop-color="#ff6900"/><stop offset="0.095" stop-color="#ff5e00"/><stop offset="0.111" stop-color="#ff5400"/><stop offset="0.127" stop-color="#ff4900"/><stop offset="0.142" stop-color="#ff3e00"/><stop offset="0.158" stop-color="#ff3300"/><stop offset="0.174" stop-color="#ff2d00"/><stop offset="0.190" stop-color="#ff2600"/><stop offset="0.206" stop-color="#ff2000"/><stop offset="0.222" stop-color="#ff1a00"/><stop offset="0.237" stop-color="#ff1400"/><stop offset="0.253" stop-color="#ff0e00"/><stop offset="0.269" stop-color="#ff0800"/><stop offset="0.285" stop-color="#ff0200"/><stop offset="0.301" stop-color="#fb0000"/><stop offset="0.316" stop-color="#f50000"/><stop offset="0.332" stop-color="#ef0000"/><stop offset="0.348" stop-color="#e90000"/><stop offset="0.364" stop-color="#e30000"/><stop offset="0.380" stop-color="#dd0000"/><stop offset="0.396" stop-color="#d70000"/><stop offset="0.411" stop-color="#d10000"/><stop offset="0.427" stop-color="#cc0000"/><stop offset="0.443" stop-color="#c60000"/><stop offset="0.459" stop-color="#c50000"/><stop offset="0.475" stop-color="#c30000"/><stop offset="0.491" stop-color="#c20000"/><stop offset="0.506" stop-color="#c00000"/><stop offset="0.522" stop-color="#bf0000"/><stop offset="0.538" stop-color="#bd0000"/><stop offset="0.554" stop-color="#bb0000"/><stop offset="0.570" stop-color="#ba0000"/><stop offset="0.585" stop-color="#b90000"/><stop offset="0.601" stop-color="#b90000"/><stop offset="0.617" stop-color="#ba0000"/><stop offset="0.633" stop-color="#bb0000"/><stop offset="0.649" stop-color="#bb0000"/><stop offset="0.665" stop-color="#bc0000"/><stop offset="0.680" stop-color="#bd0000"/><stop offset="0.696" stop-color="#bd0000"/><stop offset="0.712" stop-color="#be0000"/><stop offset="0.728" stop-color="#be0000"/><stop offset="0.744" stop-color="#bc0000"/><stop offset="0.759" stop-color="#bb0000"/><stop offset="0.775" stop-color="#b90000"/><stop offset="0.791" stop-color="#b80000"/><stop offset="0.807" stop-color="#b60000"/><stop offset="0.823" stop-color="#b50000"/><stop offset="0.839" stop-color="#b30000"/><stop offset="0.854" stop-color="#b20000"/><stop offset="0.870" stop-color="#b00000"/><stop offset="0.886" stop-color="#b00000"/><stop offset="0.902" stop-color="#af0000"/><stop offset="0.918" stop-color="#ae0000"/><stop offset="0.934" stop-color="#ae0000"/><stop offset="0.949" stop-color="#ad0000"/><stop offset="0.965" stop-color="#ac0000"/><stop offset="0.981" stop-color="#ac0000"/><stop offset="0.997" stop-color="#ab0000"/><stop offset="1.000" stop-color="#ab0000"/></linearGradient><linearGradient id="g176" gradientUnits="userSpaceOnUse" x1="59.3" x2="312.1" y1="0" y2="0"><stop offset="0.000" stop-color="#ff9900"/><stop offset="0.016" stop-color="#ff8f00"/><stop offset="0.032" stop-color="#ff8500"/><stop offset="0.047" stop-color="#ff7a00"/><stop offset="0.063" stop-color="#ff7000"/><stop offset="0.079" stop-color="#ff6500"/><stop offset="0.095" stop-color="#ff5b00"/><stop offset="0.111" stop-color="#ff5000"/><stop offset="0.127" stop-color="#ff4600"/><stop offset="0.142" stop-color="#ff3b00"/><stop offset="0.158" stop-color="#ff3000"/><stop offset="0.174" stop-color="#ff2a00"/><stop offset="0.190" stop-color="#ff2400"/><stop offset="0.206" stop-color="#ff1d00"/><stop offset="0.222" stop-color="#ff1700"/><stop offset="0.237" stop-color="#ff1100"/><stop offset="0.253" stop-color="#ff0b00"/><stop offset="0.269" stop-color="#ff0500"/><stop offset="0.285" stop-color="#fe0000"/><stop offset="0.301" stop-color="#f80000"/><stop offset="0.316" stop-color="#f20000"/><stop offset="0.332" stop-color="#ec0000"/><stop offset="0.348" stop-color="#e60000"/><stop offset="0.364" stop-color="#e10000"/><stop offset="0.380" stop-color="#db0000"/><stop offset="0.396" stop-color="#d50000"/><stop offset="0.411" stop-color="#cf0000"/><stop offset="0.427" stop-color="#ca0000"/><stop offset="0.443" stop-color="#c50000"/><stop offset="0.459" stop-color="#c30000"/><stop offset="0.475" stop-color="#c10000"/><stop offset="0.491" stop-color="#c00000"/><stop offset="0.506" stop-color="#be0000"/><stop offset="0.522" stop-color="#bd0000"/><stop offset="0.538" stop-color="#bb0000"/><stop offset="0.554" stop-color="#ba0000"/><stop offset="0.570" stop-color="#b80000"/><stop offset="0.585" stop-color="#b70000"/><stop offset="0.601" stop-color="#b80000"/><stop offset="0.617" stop-color="#b80000"/><stop offset="0.633" stop-color="#b90000"/><stop offset="0.649" stop-color="#ba0000"/><stop offset="0.665" stop-color="#ba0000"/><stop offset="0.680" stop-color="#bb0000"/><stop offset="0.696" stop-color="#bc0000"/><stop offset="0.712" stop-color="#bc0000"/><stop offset="0.728" stop-color="#bc0000"/><stop offset="0.744" stop-color="#ba0000"/><stop offset="0.759" stop-color="#b90000"/><stop offset="0.775" stop-color="#b70000"/><stop offset="0.791" stop-color="#b60000"/><stop offset="0.807" stop-color="#b40000"/><stop offset="0.823" stop-color="#b30000"/><stop offset="0.839" stop-color="#b20000"/><stop offset="0.854" stop-color="#b00000"/><stop offset="0.870" stop-color="#af0000"/><stop offset="0.886" stop-color="#ae0000"/><stop offset="0.902" stop-color="#ad0000"/><stop offset="0.918" stop-color="#ad0000"/><stop offset="0.934" stop-color="#ac0000"/><stop offset="0.949" stop-color="#ab0000"/><stop offset="0.965" stop-color="#ab0000"/><stop offset="0.981" stop-color="#aa0000"/><stop offset="0.997" stop-color="#a90000"/><stop offset="1.000" stop-color="#a90000"/></linearGradient><linearGradient id="g178" gradientUnits="userSpaceOnUse" x1="59.3" x2="312.1" y1="0" y2="0"><stop offset="0.000" stop-color="#ff9300"/><stop offset="0.016" stop-color="#ff8a00"/><stop offset="0.032" stop-color="#ff8000"/><stop offset="0.047" stop-color="#ff7600"/><stop offset="0.063" stop-color="#ff6b00"/><stop offset="0.079" stop-color="#ff6100"/><stop offset="0.095" stop-color="#ff5700"/><stop offset="0.111" stop-color="#ff4d00"/><stop offset="0.127" stop-color="#ff4200"/><stop offset="0.142" stop-color="#ff3800"/><stop offset="0.158" stop-color="#ff2e00"/><stop offset="0.174" stop-color="#ff2800"/><stop offset="0.190" stop-color="#ff2300"/><stop offset="0.206" stop-color="#ff1e00"/><stop offset="0.222" stop-color="#ff1900"/><stop offset="0.237" stop-color="#ff1400"/><stop offset="0.253" stop-color="#ff1000"/><stop offset="0.269" stop-color="#ff0b00"/><stop offset="0.285" stop-color="#ff0600"/><stop offset="0.301" stop-color="#ff0200"/><stop offset="0.316" stop-color="#fa0000"/><stop offset="0.332" stop-color="#f30000"/><stop offset="0.348" stop-color="#ed0000"/><stop offset="0.364" stop-color="#e60000"/><stop offset="0.380" stop-color="#e00000"/><stop offset="0.396" stop-color="#d90000"/><stop offset="0.411" stop-color="#d20000"/><stop offset="0.427" stop-color="#cc0000"/><stop offset="0.443" stop-color="#c60000"/><stop offset="0.459" stop-color="#c40000"/><stop offset="0.475" stop-color="#c30000"/><stop offset="0.491" stop-color="#c10000"/><stop offset="0.506" stop-color="#bf0000"/><stop offset="0.522" stop-color="#bd0000"/><stop offset="0.538" stop-color="#bc0000"/><stop offset="0.554" stop-color="#ba0000"/><stop offset="0.570" stop-color="#b80000"/><stop offset="0.585" stop-color="#b70000"/><stop offset="0.601" stop-color="#b80000"/><stop offset="0.617" stop-color="#b90000"/><stop offset="0.633" stop-color="#b90000"/><stop offset="0.649" stop-color="#ba0000"/><stop offset="0.665" stop-color="#bb0000"/><stop offset="0.680" stop-color="#bb0000"/><stop offset="0.696" stop-color="#bc0000"/><stop offset="0.712" stop-color="#bd0000"/><stop offset="0.728" stop-color="#bc0000"/><stop offset="0.744" stop-color="#bb0000"/><stop offset="0.759" stop-color="#b90000"/><stop offset="0.775" stop-color="#b70000"/><stop offset="0.791" stop-color="#b60000"/><stop offset="0.807" stop-color="#b40000"/><stop offset="0.823" stop-color="#b30000"/><stop offset="0.839" stop-color="#b10000"/><stop offset="0.854" stop-color="#af0000"/><stop offset="0.870" stop-color="#ae0000"/><stop offset="0.886" stop-color="#ad0000"/><stop offset="0.902" stop-color="#ac0000"/><stop offset="0.918" stop-color="#ac0000"/><stop offset="0.934" stop-color="#ab0000"/><stop offset="0.949" stop-color="#aa0000"/><stop offset="0.965" stop-color="#a90000"/><stop offset="0.981" stop-color="#a90000"/><stop offset="0.997" stop-color="#a80000"/><stop offset="1.000" stop-color="#a80000"/></linearGradient><linearGradient id="cb" x1="0" x2="0" y1="0" y2="1"><stop offset="0.000" stop-color="#800000"/><stop offset="0.031" stop-color="#9f0000"/><stop offset="0.062" stop-color="#bf0000"/><stop offset="0.094" stop-color="#df0000"/><stop offset="0.125" stop-color="#ff0000"/><stop offset="0.156" stop-color="#ff2000"/><stop offset="0.188" stop-color="#ff4000"/><stop offset="0.219" stop-color="#ff6000"/><stop offset="0.250" stop-color="#ff8000"/><stop offset="0.281" stop-color="#ff9f00"/><stop offset="0.312" stop-color="#ffbf00"/><stop offset="0.344" stop-color="#ffdf00"/><stop offset="0.375" stop-color="#ffff00"/><stop offset="0.406" stop-color="#dfff20"/><stop offset="0.438" stop-color="#bfff40"/><stop offset="0.469" stop-color="#9fff60"/><stop offset="0.500" stop-color="#80ff80"/><stop offset="0.531" stop-color="#60ff9f"/><stop offset="0.562" stop-color="#40ffbf"/><stop offset="0.594" stop-color="#20ffdf"/><stop offset="0.625" stop-color="#00ffff"/><stop offset="0.656" stop-color="#00dfff"/><stop offset="0.688" stop-color="#00bfff"/><stop offset="0.719" stop-color="#009fff"/><stop offset="0.750" stop-color="#0080ff"/><stop offset="0.781" stop-color="#0060ff"/><stop offset="0.812" stop-color="#0040ff"/><stop offset="0.844" stop-color="#0020ff"/><stop offset="0.875" stop-color="#0000ff"/><stop offset="0.906" stop-color="#0000df"/><stop offset="0.938" stop-color="#0000bf"/><stop offset="0.969" stop-color="#00009f"/><stop offset="1.000" stop-color="#000080"/></linearGradient></defs>
<line x1="42" y1="41" x2="338" y2="41" stroke="#d4d4d4" stroke-width="0.8" stroke-dasharray="1.2 1"/><line x1="42" y1="77" x2="338" y2="77" stroke="#d4d4d4" stroke-width="0.8" stroke-dasharray="1.2 1"/><line x1="42" y1="113" x2="338" y2="113" stroke="#d4d4d4" stroke-width="0.8" stroke-dasharray="1.2 1"/><line x1="42" y1="149" x2="338" y2="149" stroke="#d4d4d4" stroke-width="0.8" stroke-dasharray="1.2 1"/>
<clipPath id="cmc"><rect x="59.3" y="5" width="252.8" height="180"/></clipPath><filter id="bl" x="-2%" y="-2%" width="104%" height="104%"><feGaussianBlur stdDeviation="0.7"/></filter>
<g clip-path="url(#cmc)"><g filter="url(#bl)"><rect x="56.3" y="2.0" width="258.8" height="5.4" fill="url(#g0)"/><rect x="56.3" y="7.0" width="258.8" height="2.4" fill="url(#g2)"/><rect x="56.3" y="9.0" width="258.8" height="2.4" fill="url(#g4)"/><rect x="56.3" y="11.0" width="258.8" height="2.4" fill="url(#g6)"/><rect x="56.3" y="13.0" width="258.8" height="2.4" fill="url(#g8)"/><rect x="56.3" y="15.0" width="258.8" height="2.4" fill="url(#g10)"/><rect x="56.3" y="17.0" width="258.8" height="2.4" fill="url(#g12)"/><rect x="56.3" y="19.0" width="258.8" height="2.4" fill="url(#g14)"/><rect x="56.3" y="21.0" width="258.8" height="2.4" fill="url(#g16)"/><rect x="56.3" y="23.0" width="258.8" height="2.4" fill="url(#g18)"/><rect x="56.3" y="25.0" width="258.8" height="2.4" fill="url(#g20)"/><rect x="56.3" y="27.0" width="258.8" height="2.4" fill="url(#g22)"/><rect x="56.3" y="29.0" width="258.8" height="2.4" fill="url(#g24)"/><rect x="56.3" y="31.0" width="258.8" height="2.4" fill="url(#g26)"/><rect x="56.3" y="33.0" width="258.8" height="2.4" fill="url(#g28)"/><rect x="56.3" y="35.0" width="258.8" height="2.4" fill="url(#g30)"/><rect x="56.3" y="37.0" width="258.8" height="2.4" fill="url(#g32)"/><rect x="56.3" y="39.0" width="258.8" height="2.4" fill="url(#g34)"/><rect x="56.3" y="41.0" width="258.8" height="2.4" fill="url(#g36)"/><rect x="56.3" y="43.0" width="258.8" height="2.4" fill="url(#g38)"/><rect x="56.3" y="45.0" width="258.8" height="2.4" fill="url(#g40)"/><rect x="56.3" y="47.0" width="258.8" height="2.4" fill="url(#g42)"/><rect x="56.3" y="49.0" width="258.8" height="2.4" fill="url(#g44)"/><rect x="56.3" y="51.0" width="258.8" height="2.4" fill="url(#g46)"/><rect x="56.3" y="53.0" width="258.8" height="2.4" fill="url(#g48)"/><rect x="56.3" y="55.0" width="258.8" height="2.4" fill="url(#g50)"/><rect x="56.3" y="57.0" width="258.8" height="2.4" fill="url(#g52)"/><rect x="56.3" y="59.0" width="258.8" height="2.4" fill="url(#g54)"/><rect x="56.3" y="61.0" width="258.8" height="2.4" fill="url(#g56)"/><rect x="56.3" y="63.0" width="258.8" height="2.4" fill="url(#g58)"/><rect x="56.3" y="65.0" width="258.8" height="2.4" fill="url(#g60)"/><rect x="56.3" y="67.0" width="258.8" height="2.4" fill="url(#g62)"/><rect x="56.3" y="69.0" width="258.8" height="2.4" fill="url(#g64)"/><rect x="56.3" y="71.0" width="258.8" height="2.4" fill="url(#g66)"/><rect x="56.3" y="73.0" width="258.8" height="2.4" fill="url(#g68)"/><rect x="56.3" y="75.0" width="258.8" height="2.4" fill="url(#g70)"/><rect x="56.3" y="77.0" width="258.8" height="2.4" fill="url(#g72)"/><rect x="56.3" y="79.0" width="258.8" height="2.4" fill="url(#g74)"/><rect x="56.3" y="81.0" width="258.8" height="2.4" fill="url(#g76)"/><rect x="56.3" y="83.0" width="258.8" height="2.4" fill="url(#g78)"/><rect x="56.3" y="85.0" width="258.8" height="2.4" fill="url(#g80)"/><rect x="56.3" y="87.0" width="258.8" height="2.4" fill="url(#g82)"/><rect x="56.3" y="89.0" width="258.8" height="2.4" fill="url(#g84)"/><rect x="56.3" y="91.0" width="258.8" height="2.4" fill="url(#g86)"/><rect x="56.3" y="93.0" width="258.8" height="2.4" fill="url(#g88)"/><rect x="56.3" y="95.0" width="258.8" height="2.4" fill="url(#g90)"/><rect x="56.3" y="97.0" width="258.8" height="2.4" fill="url(#g92)"/><rect x="56.3" y="99.0" width="258.8" height="2.4" fill="url(#g94)"/><rect x="56.3" y="101.0" width="258.8" height="2.4" fill="url(#g96)"/><rect x="56.3" y="103.0" width="258.8" height="2.4" fill="url(#g98)"/><rect x="56.3" y="105.0" width="258.8" height="2.4" fill="url(#g100)"/><rect x="56.3" y="107.0" width="258.8" height="2.4" fill="url(#g102)"/><rect x="56.3" y="109.0" width="258.8" height="2.4" fill="url(#g104)"/><rect x="56.3" y="111.0" width="258.8" height="2.4" fill="url(#g106)"/><rect x="56.3" y="113.0" width="258.8" height="2.4" fill="url(#g108)"/><rect x="56.3" y="115.0" width="258.8" height="2.4" fill="url(#g110)"/><rect x="56.3" y="117.0" width="258.8" height="2.4" fill="url(#g112)"/><rect x="56.3" y="119.0" width="258.8" height="2.4" fill="url(#g114)"/><rect x="56.3" y="121.0" width="258.8" height="2.4" fill="url(#g116)"/><rect x="56.3" y="123.0" width="258.8" height="2.4" fill="url(#g118)"/><rect x="56.3" y="125.0" width="258.8" height="2.4" fill="url(#g120)"/><rect x="56.3" y="127.0" width="258.8" height="2.4" fill="url(#g122)"/><rect x="56.3" y="129.0" width="258.8" height="2.4" fill="url(#g124)"/><rect x="56.3" y="131.0" width="258.8" height="2.4" fill="url(#g126)"/><rect x="56.3" y="133.0" width="258.8" height="2.4" fill="url(#g128)"/><rect x="56.3" y="135.0" width="258.8" height="2.4" fill="url(#g130)"/><rect x="56.3" y="137.0" width="258.8" height="2.4" fill="url(#g132)"/><rect x="56.3" y="139.0" width="258.8" height="2.4" fill="url(#g134)"/><rect x="56.3" y="141.0" width="258.8" height="2.4" fill="url(#g136)"/><rect x="56.3" y="143.0" width="258.8" height="2.4" fill="url(#g138)"/><rect x="56.3" y="145.0" width="258.8" height="2.4" fill="url(#g140)"/><rect x="56.3" y="147.0" width="258.8" height="2.4" fill="url(#g142)"/><rect x="56.3" y="149.0" width="258.8" height="2.4" fill="url(#g144)"/><rect x="56.3" y="151.0" width="258.8" height="2.4" fill="url(#g146)"/><rect x="56.3" y="153.0" width="258.8" height="2.4" fill="url(#g148)"/><rect x="56.3" y="155.0" width="258.8" height="2.4" fill="url(#g150)"/><rect x="56.3" y="157.0" width="258.8" height="2.4" fill="url(#g152)"/><rect x="56.3" y="159.0" width="258.8" height="2.4" fill="url(#g154)"/><rect x="56.3" y="161.0" width="258.8" height="2.4" fill="url(#g156)"/><rect x="56.3" y="163.0" width="258.8" height="2.4" fill="url(#g158)"/><rect x="56.3" y="165.0" width="258.8" height="2.4" fill="url(#g160)"/><rect x="56.3" y="167.0" width="258.8" height="2.4" fill="url(#g162)"/><rect x="56.3" y="169.0" width="258.8" height="2.4" fill="url(#g164)"/><rect x="56.3" y="171.0" width="258.8" height="2.4" fill="url(#g166)"/><rect x="56.3" y="173.0" width="258.8" height="2.4" fill="url(#g168)"/><rect x="56.3" y="175.0" width="258.8" height="2.4" fill="url(#g170)"/><rect x="56.3" y="177.0" width="258.8" height="2.4" fill="url(#g172)"/><rect x="56.3" y="179.0" width="258.8" height="2.4" fill="url(#g174)"/><rect x="56.3" y="181.0" width="258.8" height="2.4" fill="url(#g176)"/><rect x="56.3" y="183.0" width="258.8" height="5.0" fill="url(#g178)"/></g></g>
<line x1="59.8" y1="6.2" x2="59.8" y2="185" stroke="#ff66ff" stroke-width="1.6" stroke-dasharray="4.6 3.4"/>
<line x1="99.5" y1="6.2" x2="99.5" y2="185" stroke="#ff66ff" stroke-width="1.6" stroke-dasharray="4.6 3.4"/>
<line x1="117.0" y1="6.2" x2="117.0" y2="185" stroke="#ff66ff" stroke-width="1.6" stroke-dasharray="4.6 3.4"/>
<line x1="135.6" y1="6.2" x2="135.6" y2="185" stroke="#ff66ff" stroke-width="1.6" stroke-dasharray="4.6 3.4"/>
<line x1="170.6" y1="6.2" x2="170.6" y2="185" stroke="#ff66ff" stroke-width="1.6" stroke-dasharray="4.6 3.4"/>
<line x1="206.3" y1="6.2" x2="206.3" y2="185" stroke="#ff66ff" stroke-width="1.6" stroke-dasharray="4.6 3.4"/>
<line x1="241.6" y1="6.2" x2="241.6" y2="185" stroke="#ff66ff" stroke-width="1.6" stroke-dasharray="4.6 3.4"/>
<line x1="278.7" y1="6.2" x2="278.7" y2="185" stroke="#ff66ff" stroke-width="1.6" stroke-dasharray="4.6 3.4"/>
<line x1="311.8" y1="6.2" x2="311.8" y2="185" stroke="#ff66ff" stroke-width="1.6" stroke-dasharray="4.6 3.4"/>
<text x="41.6" y="24.4" font-size="15.2">(a)</text>
<text x="239" y="168.8" font-size="14.5" style="fill:#fff4f4">V</text><text x="248.6" y="175" font-size="11.5" style="fill:#fff4f4">f</text><text x="257.8" y="169.6" font-size="15.6" style="fill:#fff4f4">[V]</text>
<rect x="292.6" y="68.6" width="39.8" height="99.4" fill="rgba(255,255,255,0.62)" stroke="rgba(215,215,215,0.85)" stroke-width="1.2"/>
<rect x="297.5" y="73.5" width="8.5" height="90.3" fill="url(#cb)" stroke="#222" stroke-width="0.8"/>
<line x1="297.5" y1="78.5" x2="299.5" y2="78.5" stroke="#222" stroke-width="0.8"/><line x1="304" y1="78.5" x2="306" y2="78.5" stroke="#222" stroke-width="0.8"/>
<text x="308.7" y="81.1" font-size="11.8">-5</text>
<line x1="297.5" y1="103.6" x2="299.5" y2="103.6" stroke="#222" stroke-width="0.8"/><line x1="304" y1="103.6" x2="306" y2="103.6" stroke="#222" stroke-width="0.8"/>
<text x="308.7" y="106.2" font-size="11.8">-10</text>
<line x1="297.5" y1="128.7" x2="299.5" y2="128.7" stroke="#222" stroke-width="0.8"/><line x1="304" y1="128.7" x2="306" y2="128.7" stroke="#222" stroke-width="0.8"/>
<text x="308.7" y="131.3" font-size="11.8">-15</text>
<line x1="297.5" y1="153.8" x2="299.5" y2="153.8" stroke="#222" stroke-width="0.8"/><line x1="304" y1="153.8" x2="306" y2="153.8" stroke="#222" stroke-width="0.8"/>
<text x="308.7" y="156.4" font-size="11.8">-20</text>
<path d="M41,5.5 H339 M41,185 H339" stroke="#000" stroke-width="1.5" fill="none"/>
<path d="M41,5 V185.5 M339,5 V185.5" stroke="#000" stroke-width="1.5" fill="none"/>
<text x="41.0" y="201" font-size="12" text-anchor="middle">0</text>
<text x="83.6" y="201" font-size="12" text-anchor="middle">1</text>
<text x="126.1" y="201" font-size="12" text-anchor="middle">2</text>
<text x="168.7" y="201" font-size="12" text-anchor="middle">3</text>
<text x="211.3" y="201" font-size="12" text-anchor="middle">4</text>
<text x="253.9" y="201" font-size="12" text-anchor="middle">5</text>
<text x="296.4" y="201" font-size="12" text-anchor="middle">6</text>
<text x="339.0" y="201" font-size="12" text-anchor="middle">7</text>
<text x="29.0" y="10.3" font-size="12" text-anchor="end">0</text>
<text x="35.5" y="45.3" font-size="12" text-anchor="end">-10</text>
<text x="35.5" y="81.3" font-size="12" text-anchor="end">-20</text>
<text x="35.5" y="117.3" font-size="12" text-anchor="end">-30</text>
<text x="35.5" y="153.3" font-size="12" text-anchor="end">-40</text>
<text x="35.5" y="189.3" font-size="12" text-anchor="end">-50</text>
<path d="M41.0,5.5 V2.5 M41.0,185 V188 M83.6,5.5 V2.5 M83.6,185 V188 M126.1,5.5 V2.5 M126.1,185 V188 M168.7,5.5 V2.5 M168.7,185 V188 M211.3,5.5 V2.5 M211.3,185 V188 M253.9,5.5 V2.5 M253.9,185 V188 M296.4,5.5 V2.5 M296.4,185 V188 M339.0,5.5 V2.5 M339.0,185 V188 M41,5.0 H37.5 M339,5.0 H342.5 M41,41.0 H37.5 M339,41.0 H342.5 M41,77.0 H37.5 M339,77.0 H342.5 M41,113.0 H37.5 M339,113.0 H342.5 M41,149.0 H37.5 M339,149.0 H342.5 M41,185.0 H37.5 M339,185.0 H342.5" stroke="#000" stroke-width="1" fill="none"/>
<text x="173.5" y="213" font-size="12">P [Pa]</text>
<text transform="translate(10,114) rotate(-90)" font-size="12"><tspan>r</tspan><tspan font-size="9" dy="3">p</tspan><tspan dy="-3"> [mm]</tspan></text>
<polyline points="41.0,259.4 57.5,260.8 75.0,262.0 100.0,263.2 130.0,265.1 155.0,267.2 176.2,269.0 193.7,272.5 210.0,276.9 260.0,290.8 300.0,296.5 339.0,298.8" fill="none" stroke="#00bfbf" stroke-width="1.3" stroke-dasharray="3.5 1.5 1 1.5"/>
<polyline points="41.0,274.2 46.1,272.5 57.5,274.2 75.0,276.5 85.5,275.6 100.0,277.7 121.2,278.6 138.7,280.4 155.0,280.0 167.5,279.1 181.5,280.9 193.7,285.6 210.0,289.1 230.0,297.5 255.0,308.7 279.8,314.9 304.6,319.3 339.0,319.5" fill="none" stroke="#ff3333" stroke-width="1.3" stroke-dasharray="1 1.2"/>
<polyline points="41.0,279.0 50.5,280.0 66.2,282.1 73.2,279.8 87.2,283.0 100.0,281.2 112.5,282.5 130.0,280.4 142.2,279.5 155.0,281.6 167.5,283.0 181.5,285.6 193.7,290.0 210.0,295.2 235.0,307.6 255.0,319.8 269.9,324.8 287.2,329.7 312.0,337.2 324.4,336.0 339.0,336.0" fill="none" stroke="#008000" stroke-width="1.3" stroke-dasharray="3 2"/>
<polyline points="41.0,291.7 57.5,294.9 76.7,299.1 85.5,299.6 92.5,297.9 100.0,295.2 105.5,293.8 116.0,291.7 128.2,283.9 134.4,285.6 145.7,280.4 155.0,280.4 165.7,278.6 172.7,277.2 180.6,280.4 188.5,288.2 200.0,298.9 217.5,313.7 228.0,325.1 240.5,341.0 252.7,352.4 266.7,365.5 281.6,376.3 290.0,378.6 303.1,384.6 317.1,385.8 328.8,385.1 339.0,381.0" fill="none" stroke="#0000ff" stroke-width="1.3" />
<path d="M199.0,269.6 L202.0,275.5 L196.0,275.5 Z" fill="none" stroke="#00b4b4" stroke-width="1.3"/><path d="M208.7,273.2 L211.7,279.1 L205.7,279.1 Z" fill="none" stroke="#00b4b4" stroke-width="1.3"/><path d="M218.9,275.0 L221.9,280.9 L215.9,280.9 Z" fill="none" stroke="#00b4b4" stroke-width="1.3"/><path d="M228.5,277.9 L231.5,283.8 L225.5,283.8 Z" fill="none" stroke="#00b4b4" stroke-width="1.3"/><path d="M238.8,279.7 L241.8,285.6 L235.8,285.6 Z" fill="none" stroke="#00b4b4" stroke-width="1.3"/><path d="M248.6,282.5 L251.6,288.4 L245.6,288.4 Z" fill="none" stroke="#00b4b4" stroke-width="1.3"/><path d="M258.6,284.6 L261.6,290.5 L255.6,290.5 Z" fill="none" stroke="#00b4b4" stroke-width="1.3"/><path d="M268.7,286.1 L271.7,292.0 L265.7,292.0 Z" fill="none" stroke="#00b4b4" stroke-width="1.3"/><path d="M278.8,287.6 L281.8,293.5 L275.8,293.5 Z" fill="none" stroke="#00b4b4" stroke-width="1.3"/><path d="M288.8,288.8 L291.8,294.7 L285.8,294.7 Z" fill="none" stroke="#00b4b4" stroke-width="1.3"/><path d="M298.8,289.2 L301.8,295.1 L295.8,295.1 Z" fill="none" stroke="#00b4b4" stroke-width="1.3"/><path d="M308.7,289.7 L311.7,295.6 L305.7,295.6 Z" fill="none" stroke="#00b4b4" stroke-width="1.3"/><path d="M318.7,290.4 L321.7,296.3 L315.7,296.3 Z" fill="none" stroke="#00b4b4" stroke-width="1.3"/><path d="M328.6,290.4 L331.6,296.3 L325.6,296.3 Z" fill="none" stroke="#00b4b4" stroke-width="1.3"/><rect x="196.7" y="280.2" width="4.7" height="4.7" fill="none" stroke="#ff0000" stroke-width="1.25"/><rect x="206.3" y="282.0" width="4.7" height="4.7" fill="none" stroke="#ff0000" stroke-width="1.25"/><rect x="216.6" y="285.5" width="4.7" height="4.7" fill="none" stroke="#ff0000" stroke-width="1.25"/><rect x="226.2" y="289.0" width="4.7" height="4.7" fill="none" stroke="#ff0000" stroke-width="1.25"/><rect x="236.5" y="293.0" width="4.7" height="4.7" fill="none" stroke="#ff0000" stroke-width="1.25"/><rect x="246.2" y="296.0" width="4.7" height="4.7" fill="none" stroke="#ff0000" stroke-width="1.25"/><rect x="256.2" y="300.0" width="4.7" height="4.7" fill="none" stroke="#ff0000" stroke-width="1.25"/><rect x="266.3" y="303.0" width="4.7" height="4.7" fill="none" stroke="#ff0000" stroke-width="1.25"/><rect x="276.4" y="305.4" width="4.7" height="4.7" fill="none" stroke="#ff0000" stroke-width="1.25"/><rect x="286.4" y="307.5" width="4.7" height="4.7" fill="none" stroke="#ff0000" stroke-width="1.25"/><rect x="296.4" y="309.8" width="4.7" height="4.7" fill="none" stroke="#ff0000" stroke-width="1.25"/><rect x="306.3" y="310.4" width="4.7" height="4.7" fill="none" stroke="#ff0000" stroke-width="1.25"/><rect x="316.3" y="310.4" width="4.7" height="4.7" fill="none" stroke="#ff0000" stroke-width="1.25"/><rect x="326.2" y="310.4" width="4.7" height="4.7" fill="none" stroke="#ff0000" stroke-width="1.25"/><path d="M197.0,285.4 l4,4 m0,-4 l-4,4" stroke="#006400" stroke-width="1.2"/><path d="M206.7,288.1 l4,4 m0,-4 l-4,4" stroke="#006400" stroke-width="1.2"/><path d="M216.9,290.7 l4,4 m0,-4 l-4,4" stroke="#006400" stroke-width="1.2"/><path d="M226.5,296.5 l4,4 m0,-4 l-4,4" stroke="#006400" stroke-width="1.2"/><path d="M236.8,301.8 l4,4 m0,-4 l-4,4" stroke="#006400" stroke-width="1.2"/><path d="M246.6,305.6 l4,4 m0,-4 l-4,4" stroke="#006400" stroke-width="1.2"/><path d="M256.6,309.6 l4,4 m0,-4 l-4,4" stroke="#006400" stroke-width="1.2"/><path d="M266.7,315.8 l4,4 m0,-4 l-4,4" stroke="#006400" stroke-width="1.2"/><path d="M276.8,319.0 l4,4 m0,-4 l-4,4" stroke="#006400" stroke-width="1.2"/><path d="M286.8,322.0 l4,4 m0,-4 l-4,4" stroke="#006400" stroke-width="1.2"/><path d="M296.8,324.0 l4,4 m0,-4 l-4,4" stroke="#006400" stroke-width="1.2"/><path d="M306.7,325.6 l4,4 m0,-4 l-4,4" stroke="#006400" stroke-width="1.2"/><path d="M316.7,325.6 l4,4 m0,-4 l-4,4" stroke="#006400" stroke-width="1.2"/><path d="M326.6,325.2 l4,4 m0,-4 l-4,4" stroke="#006400" stroke-width="1.2"/><circle cx="199.0" cy="287.4" r="2.7" fill="none" stroke="#0000ff" stroke-width="1.3"/><circle cx="208.7" cy="294.5" r="2.7" fill="none" stroke="#0000ff" stroke-width="1.3"/><circle cx="218.9" cy="300.1" r="2.7" fill="none" stroke="#0000ff" stroke-width="1.3"/><circle cx="228.5" cy="306.2" r="2.7" fill="none" stroke="#0000ff" stroke-width="1.3"/><circle cx="238.8" cy="316.7" r="2.7" fill="none" stroke="#0000ff" stroke-width="1.3"/><circle cx="248.6" cy="324.3" r="2.7" fill="none" stroke="#0000ff" stroke-width="1.3"/><circle cx="258.6" cy="331.8" r="2.7" fill="none" stroke="#0000ff" stroke-width="1.3"/><circle cx="268.7" cy="338.9" r="2.7" fill="none" stroke="#0000ff" stroke-width="1.3"/><circle cx="278.8" cy="348.4" r="2.7" fill="none" stroke="#0000ff" stroke-width="1.3"/><circle cx="288.8" cy="351.8" r="2.7" fill="none" stroke="#0000ff" stroke-width="1.3"/><circle cx="298.8" cy="357.3" r="2.7" fill="none" stroke="#0000ff" stroke-width="1.3"/><circle cx="308.7" cy="359.0" r="2.7" fill="none" stroke="#0000ff" stroke-width="1.3"/><circle cx="318.7" cy="361.7" r="2.7" fill="none" stroke="#0000ff" stroke-width="1.3"/><circle cx="328.6" cy="360.8" r="2.7" fill="none" stroke="#0000ff" stroke-width="1.3"/>
<rect x="41" y="229" width="298" height="178" fill="none" stroke="#000" stroke-width="1.5"/>
<text x="39.8" y="420.3" font-size="12" text-anchor="middle">-50</text>
<text x="99.4" y="420.3" font-size="12" text-anchor="middle">-40</text>
<text x="159.0" y="420.3" font-size="12" text-anchor="middle">-30</text>
<text x="218.6" y="420.3" font-size="12" text-anchor="middle">-20</text>
<text x="278.2" y="420.3" font-size="12" text-anchor="middle">-10</text>
<text x="337.8" y="420.3" font-size="12" text-anchor="middle">0</text>
<text x="39.3" y="233.9" font-size="12" text-anchor="end">0</text>
<text x="39.3" y="269.5" font-size="12" text-anchor="end">-5</text>
<text x="39.3" y="305.1" font-size="12" text-anchor="end">-10</text>
<text x="39.3" y="340.7" font-size="12" text-anchor="end">-15</text>
<text x="39.3" y="376.3" font-size="12" text-anchor="end">-20</text>
<text x="39.3" y="411.9" font-size="12" text-anchor="end">-25</text>
<path d="M41.0,407 V404 M41.0,229 V232 M100.6,407 V404 M100.6,229 V232 M160.2,407 V404 M160.2,229 V232 M219.8,407 V404 M219.8,229 V232 M279.4,407 V404 M279.4,229 V232 M339.0,407 V404 M339.0,229 V232 M41,229.0 H44 M339,229.0 H336 M41,264.6 H44 M339,264.6 H336 M41,300.2 H44 M339,300.2 H336 M41,335.8 H44 M339,335.8 H336 M41,371.4 H44 M339,371.4 H336 M41,407.0 H44 M339,407.0 H336" stroke="#000" stroke-width="1" fill="none"/>
<text x="170.2" y="435.8" font-size="12"><tspan>r</tspan><tspan font-size="9" dy="3">p</tspan><tspan dy="-3"> [mm]</tspan></text>
<text transform="translate(9.5,342.2) rotate(-90)" font-size="12"><tspan>V</tspan><tspan font-size="9" dy="3">f</tspan><tspan dy="-3">, V</tspan><tspan font-size="9" dy="3">p</tspan><tspan dy="-3"> [V]</tspan></text>
<text x="47.6" y="250.3" font-size="15.2">(b)</text>
<rect x="52.8" y="318.4" width="98.6" height="77.6" fill="#fff" stroke="#000" stroke-width="1.3"/><text x="63" y="333.5" font-size="12">V</text><text x="70.5" y="337" font-size="9">f</text><text x="86" y="333.5" font-size="12">V</text><text x="93.5" y="337" font-size="9">p</text><line x1="58" y1="345.5" x2="78" y2="345.5" stroke="#0000ff" stroke-width="1.3"/><line x1="58" y1="359.4" x2="78" y2="359.4" stroke="#008000" stroke-width="1.2" stroke-dasharray="2.8 1.6"/><line x1="58" y1="373.2" x2="78" y2="373.2" stroke="#ff3333" stroke-width="1.2" stroke-dasharray="1 1.2"/><line x1="58" y1="387.0" x2="78" y2="387.0" stroke="#00bfbf" stroke-width="1.2" stroke-dasharray="3.5 1.5 1 1.5"/><circle cx="92.2" cy="345.5" r="2.7" fill="none" stroke="#0000ff" stroke-width="1.3"/><path d="M90.1,357.4 l4,3.8 m0,-3.8 l-4,3.8" stroke="#006400" stroke-width="1.2"/><rect x="90" y="371.2" width="4.3" height="4.3" fill="none" stroke="#ff0000" stroke-width="1.25"/><path d="M92.2,383.7 l3.0,5.6 h-6.0 Z" fill="none" stroke="#00b4b4" stroke-width="1.3"/><text x="108.5" y="349.6" font-size="12">0.44Pa</text><text x="108.5" y="363.5" font-size="12">1.4Pa</text><text x="108.5" y="377.3" font-size="12">2.2Pa</text><text x="108.5" y="391.1" font-size="12">6.4Pa</text>
</svg></body></html>
